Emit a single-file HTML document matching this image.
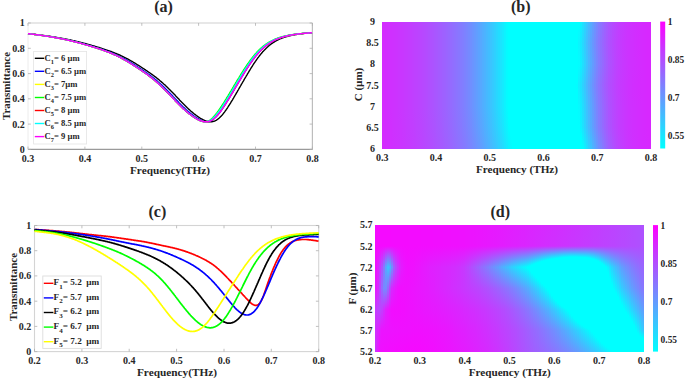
<!DOCTYPE html>
<html><head><meta charset="utf-8"><style>
html,body{margin:0;padding:0;background:#fff;}
body{width:685px;height:379px;overflow:hidden;}
svg{display:block;}
text{font-family:"Liberation Serif",serif;font-weight:bold;fill:#262626;}
</style></head><body>
<svg width="685" height="379" viewBox="0 0 685 379">
<rect width="685" height="379" fill="#fff"/>
<defs><linearGradient id="b0" x1="0" y1="0" x2="0" y2="1"><stop offset="0.000" stop-color="#d42bff"/><stop offset="0.167" stop-color="#d42bff"/><stop offset="0.333" stop-color="#d42bff"/><stop offset="0.500" stop-color="#d42bff"/><stop offset="0.667" stop-color="#d42bff"/><stop offset="0.833" stop-color="#d42bff"/><stop offset="1.000" stop-color="#d42bff"/></linearGradient><linearGradient id="b1" x1="0" y1="0" x2="0" y2="1"><stop offset="0.000" stop-color="#d32cff"/><stop offset="0.167" stop-color="#d32cff"/><stop offset="0.333" stop-color="#d32cff"/><stop offset="0.500" stop-color="#d32cff"/><stop offset="0.667" stop-color="#d32cff"/><stop offset="0.833" stop-color="#d32cff"/><stop offset="1.000" stop-color="#d32cff"/></linearGradient><linearGradient id="b2" x1="0" y1="0" x2="0" y2="1"><stop offset="0.000" stop-color="#d22dff"/><stop offset="0.167" stop-color="#d22dff"/><stop offset="0.333" stop-color="#d22dff"/><stop offset="0.500" stop-color="#d22dff"/><stop offset="0.667" stop-color="#d22dff"/><stop offset="0.833" stop-color="#d22dff"/><stop offset="1.000" stop-color="#d22dff"/></linearGradient><linearGradient id="b3" x1="0" y1="0" x2="0" y2="1"><stop offset="0.000" stop-color="#d02fff"/><stop offset="0.167" stop-color="#d02fff"/><stop offset="0.333" stop-color="#d02fff"/><stop offset="0.500" stop-color="#d02fff"/><stop offset="0.667" stop-color="#d02fff"/><stop offset="0.833" stop-color="#d12eff"/><stop offset="1.000" stop-color="#d12eff"/></linearGradient><linearGradient id="b4" x1="0" y1="0" x2="0" y2="1"><stop offset="0.000" stop-color="#cf30ff"/><stop offset="0.167" stop-color="#cf30ff"/><stop offset="0.333" stop-color="#cf30ff"/><stop offset="0.500" stop-color="#cf30ff"/><stop offset="0.667" stop-color="#cf30ff"/><stop offset="0.833" stop-color="#d02fff"/><stop offset="1.000" stop-color="#d02fff"/></linearGradient><linearGradient id="b5" x1="0" y1="0" x2="0" y2="1"><stop offset="0.000" stop-color="#ce31ff"/><stop offset="0.167" stop-color="#ce31ff"/><stop offset="0.333" stop-color="#ce31ff"/><stop offset="0.500" stop-color="#ce31ff"/><stop offset="0.667" stop-color="#ce31ff"/><stop offset="0.833" stop-color="#ce31ff"/><stop offset="1.000" stop-color="#cf30ff"/></linearGradient><linearGradient id="b6" x1="0" y1="0" x2="0" y2="1"><stop offset="0.000" stop-color="#cd32ff"/><stop offset="0.167" stop-color="#cd32ff"/><stop offset="0.333" stop-color="#cd32ff"/><stop offset="0.500" stop-color="#cd32ff"/><stop offset="0.667" stop-color="#cd32ff"/><stop offset="0.833" stop-color="#cd32ff"/><stop offset="1.000" stop-color="#ce31ff"/></linearGradient><linearGradient id="b7" x1="0" y1="0" x2="0" y2="1"><stop offset="0.000" stop-color="#cc33ff"/><stop offset="0.167" stop-color="#cc33ff"/><stop offset="0.333" stop-color="#cc33ff"/><stop offset="0.500" stop-color="#cc33ff"/><stop offset="0.667" stop-color="#cc33ff"/><stop offset="0.833" stop-color="#cc33ff"/><stop offset="1.000" stop-color="#cd32ff"/></linearGradient><linearGradient id="b8" x1="0" y1="0" x2="0" y2="1"><stop offset="0.000" stop-color="#ca35ff"/><stop offset="0.167" stop-color="#ca35ff"/><stop offset="0.333" stop-color="#ca35ff"/><stop offset="0.500" stop-color="#ca35ff"/><stop offset="0.667" stop-color="#ca35ff"/><stop offset="0.833" stop-color="#cb34ff"/><stop offset="1.000" stop-color="#cc33ff"/></linearGradient><linearGradient id="b9" x1="0" y1="0" x2="0" y2="1"><stop offset="0.000" stop-color="#c936ff"/><stop offset="0.167" stop-color="#c936ff"/><stop offset="0.333" stop-color="#c936ff"/><stop offset="0.500" stop-color="#c936ff"/><stop offset="0.667" stop-color="#c936ff"/><stop offset="0.833" stop-color="#ca35ff"/><stop offset="1.000" stop-color="#ca35ff"/></linearGradient><linearGradient id="b10" x1="0" y1="0" x2="0" y2="1"><stop offset="0.000" stop-color="#c837ff"/><stop offset="0.167" stop-color="#c837ff"/><stop offset="0.333" stop-color="#c837ff"/><stop offset="0.500" stop-color="#c837ff"/><stop offset="0.667" stop-color="#c837ff"/><stop offset="0.833" stop-color="#c837ff"/><stop offset="1.000" stop-color="#c936ff"/></linearGradient><linearGradient id="b11" x1="0" y1="0" x2="0" y2="1"><stop offset="0.000" stop-color="#c639ff"/><stop offset="0.167" stop-color="#c639ff"/><stop offset="0.333" stop-color="#c639ff"/><stop offset="0.500" stop-color="#c639ff"/><stop offset="0.667" stop-color="#c639ff"/><stop offset="0.833" stop-color="#c738ff"/><stop offset="1.000" stop-color="#c837ff"/></linearGradient><linearGradient id="b12" x1="0" y1="0" x2="0" y2="1"><stop offset="0.000" stop-color="#c53aff"/><stop offset="0.167" stop-color="#c53aff"/><stop offset="0.333" stop-color="#c53aff"/><stop offset="0.500" stop-color="#c53aff"/><stop offset="0.667" stop-color="#c53aff"/><stop offset="0.833" stop-color="#c53aff"/><stop offset="1.000" stop-color="#c639ff"/></linearGradient><linearGradient id="b13" x1="0" y1="0" x2="0" y2="1"><stop offset="0.000" stop-color="#c33cff"/><stop offset="0.167" stop-color="#c33cff"/><stop offset="0.333" stop-color="#c33cff"/><stop offset="0.500" stop-color="#c33cff"/><stop offset="0.667" stop-color="#c33cff"/><stop offset="0.833" stop-color="#c43bff"/><stop offset="1.000" stop-color="#c53aff"/></linearGradient><linearGradient id="b14" x1="0" y1="0" x2="0" y2="1"><stop offset="0.000" stop-color="#c23dff"/><stop offset="0.167" stop-color="#c23dff"/><stop offset="0.333" stop-color="#c23dff"/><stop offset="0.500" stop-color="#c23dff"/><stop offset="0.667" stop-color="#c23dff"/><stop offset="0.833" stop-color="#c23dff"/><stop offset="1.000" stop-color="#c43bff"/></linearGradient><linearGradient id="b15" x1="0" y1="0" x2="0" y2="1"><stop offset="0.000" stop-color="#c03fff"/><stop offset="0.167" stop-color="#c03fff"/><stop offset="0.333" stop-color="#c03fff"/><stop offset="0.500" stop-color="#c03fff"/><stop offset="0.667" stop-color="#c03fff"/><stop offset="0.833" stop-color="#c13eff"/><stop offset="1.000" stop-color="#c23dff"/></linearGradient><linearGradient id="b16" x1="0" y1="0" x2="0" y2="1"><stop offset="0.000" stop-color="#be41ff"/><stop offset="0.167" stop-color="#be41ff"/><stop offset="0.333" stop-color="#be41ff"/><stop offset="0.500" stop-color="#be41ff"/><stop offset="0.667" stop-color="#be41ff"/><stop offset="0.833" stop-color="#bf40ff"/><stop offset="1.000" stop-color="#c13eff"/></linearGradient><linearGradient id="b17" x1="0" y1="0" x2="0" y2="1"><stop offset="0.000" stop-color="#bd42ff"/><stop offset="0.167" stop-color="#bd42ff"/><stop offset="0.333" stop-color="#bd42ff"/><stop offset="0.500" stop-color="#bd42ff"/><stop offset="0.667" stop-color="#bd42ff"/><stop offset="0.833" stop-color="#bd42ff"/><stop offset="1.000" stop-color="#bf40ff"/></linearGradient><linearGradient id="b18" x1="0" y1="0" x2="0" y2="1"><stop offset="0.000" stop-color="#bb44ff"/><stop offset="0.167" stop-color="#bb44ff"/><stop offset="0.333" stop-color="#bb44ff"/><stop offset="0.500" stop-color="#bb44ff"/><stop offset="0.667" stop-color="#bb44ff"/><stop offset="0.833" stop-color="#bc43ff"/><stop offset="1.000" stop-color="#bd42ff"/></linearGradient><linearGradient id="b19" x1="0" y1="0" x2="0" y2="1"><stop offset="0.000" stop-color="#b946ff"/><stop offset="0.167" stop-color="#b946ff"/><stop offset="0.333" stop-color="#b946ff"/><stop offset="0.500" stop-color="#b946ff"/><stop offset="0.667" stop-color="#b946ff"/><stop offset="0.833" stop-color="#ba45ff"/><stop offset="1.000" stop-color="#bc43ff"/></linearGradient><linearGradient id="b20" x1="0" y1="0" x2="0" y2="1"><stop offset="0.000" stop-color="#b748ff"/><stop offset="0.167" stop-color="#b748ff"/><stop offset="0.333" stop-color="#b748ff"/><stop offset="0.500" stop-color="#b748ff"/><stop offset="0.667" stop-color="#b748ff"/><stop offset="0.833" stop-color="#b847ff"/><stop offset="1.000" stop-color="#ba45ff"/></linearGradient><linearGradient id="b21" x1="0" y1="0" x2="0" y2="1"><stop offset="0.000" stop-color="#b54aff"/><stop offset="0.167" stop-color="#b54aff"/><stop offset="0.333" stop-color="#b54aff"/><stop offset="0.500" stop-color="#b54aff"/><stop offset="0.667" stop-color="#b54aff"/><stop offset="0.833" stop-color="#b649ff"/><stop offset="1.000" stop-color="#b847ff"/></linearGradient><linearGradient id="b22" x1="0" y1="0" x2="0" y2="1"><stop offset="0.000" stop-color="#b34cff"/><stop offset="0.167" stop-color="#b34cff"/><stop offset="0.333" stop-color="#b34cff"/><stop offset="0.500" stop-color="#b34cff"/><stop offset="0.667" stop-color="#b34cff"/><stop offset="0.833" stop-color="#b44bff"/><stop offset="1.000" stop-color="#b649ff"/></linearGradient><linearGradient id="b23" x1="0" y1="0" x2="0" y2="1"><stop offset="0.000" stop-color="#b04fff"/><stop offset="0.167" stop-color="#b04fff"/><stop offset="0.333" stop-color="#b04fff"/><stop offset="0.500" stop-color="#b04fff"/><stop offset="0.667" stop-color="#b04fff"/><stop offset="0.833" stop-color="#b24dff"/><stop offset="1.000" stop-color="#b44bff"/></linearGradient><linearGradient id="b24" x1="0" y1="0" x2="0" y2="1"><stop offset="0.000" stop-color="#ae51ff"/><stop offset="0.167" stop-color="#ae51ff"/><stop offset="0.333" stop-color="#ae51ff"/><stop offset="0.500" stop-color="#ae51ff"/><stop offset="0.667" stop-color="#ae51ff"/><stop offset="0.833" stop-color="#af50ff"/><stop offset="1.000" stop-color="#b24dff"/></linearGradient><linearGradient id="b25" x1="0" y1="0" x2="0" y2="1"><stop offset="0.000" stop-color="#ac53ff"/><stop offset="0.167" stop-color="#ac53ff"/><stop offset="0.333" stop-color="#ac53ff"/><stop offset="0.500" stop-color="#ac53ff"/><stop offset="0.667" stop-color="#ac53ff"/><stop offset="0.833" stop-color="#ad52ff"/><stop offset="1.000" stop-color="#b04fff"/></linearGradient><linearGradient id="b26" x1="0" y1="0" x2="0" y2="1"><stop offset="0.000" stop-color="#a956ff"/><stop offset="0.167" stop-color="#a956ff"/><stop offset="0.333" stop-color="#a956ff"/><stop offset="0.500" stop-color="#a956ff"/><stop offset="0.667" stop-color="#a956ff"/><stop offset="0.833" stop-color="#ab54ff"/><stop offset="1.000" stop-color="#ad52ff"/></linearGradient><linearGradient id="b27" x1="0" y1="0" x2="0" y2="1"><stop offset="0.000" stop-color="#a758ff"/><stop offset="0.167" stop-color="#a758ff"/><stop offset="0.333" stop-color="#a758ff"/><stop offset="0.500" stop-color="#a758ff"/><stop offset="0.667" stop-color="#a758ff"/><stop offset="0.833" stop-color="#a857ff"/><stop offset="1.000" stop-color="#ab54ff"/></linearGradient><linearGradient id="b28" x1="0" y1="0" x2="0" y2="1"><stop offset="0.000" stop-color="#a45bff"/><stop offset="0.167" stop-color="#a45bff"/><stop offset="0.333" stop-color="#a45bff"/><stop offset="0.500" stop-color="#a45bff"/><stop offset="0.667" stop-color="#a45bff"/><stop offset="0.833" stop-color="#a659ff"/><stop offset="1.000" stop-color="#a956ff"/></linearGradient><linearGradient id="b29" x1="0" y1="0" x2="0" y2="1"><stop offset="0.000" stop-color="#a25dff"/><stop offset="0.167" stop-color="#a25dff"/><stop offset="0.333" stop-color="#a25dff"/><stop offset="0.500" stop-color="#a25dff"/><stop offset="0.667" stop-color="#a25dff"/><stop offset="0.833" stop-color="#a45bff"/><stop offset="1.000" stop-color="#a659ff"/></linearGradient><linearGradient id="b30" x1="0" y1="0" x2="0" y2="1"><stop offset="0.000" stop-color="#9f60ff"/><stop offset="0.167" stop-color="#9f60ff"/><stop offset="0.333" stop-color="#9f60ff"/><stop offset="0.500" stop-color="#9f60ff"/><stop offset="0.667" stop-color="#9f60ff"/><stop offset="0.833" stop-color="#a15eff"/><stop offset="1.000" stop-color="#a45bff"/></linearGradient><linearGradient id="b31" x1="0" y1="0" x2="0" y2="1"><stop offset="0.000" stop-color="#9d62ff"/><stop offset="0.167" stop-color="#9d62ff"/><stop offset="0.333" stop-color="#9d62ff"/><stop offset="0.500" stop-color="#9d62ff"/><stop offset="0.667" stop-color="#9d62ff"/><stop offset="0.833" stop-color="#9e61ff"/><stop offset="1.000" stop-color="#a15eff"/></linearGradient><linearGradient id="b32" x1="0" y1="0" x2="0" y2="1"><stop offset="0.000" stop-color="#9a65ff"/><stop offset="0.167" stop-color="#9a65ff"/><stop offset="0.333" stop-color="#9a65ff"/><stop offset="0.500" stop-color="#9a65ff"/><stop offset="0.667" stop-color="#9a65ff"/><stop offset="0.833" stop-color="#9c63ff"/><stop offset="1.000" stop-color="#9f60ff"/></linearGradient><linearGradient id="b33" x1="0" y1="0" x2="0" y2="1"><stop offset="0.000" stop-color="#9768ff"/><stop offset="0.167" stop-color="#9768ff"/><stop offset="0.333" stop-color="#9768ff"/><stop offset="0.500" stop-color="#9768ff"/><stop offset="0.667" stop-color="#9768ff"/><stop offset="0.833" stop-color="#9966ff"/><stop offset="1.000" stop-color="#9c63ff"/></linearGradient><linearGradient id="b34" x1="0" y1="0" x2="0" y2="1"><stop offset="0.000" stop-color="#946bff"/><stop offset="0.167" stop-color="#946bff"/><stop offset="0.333" stop-color="#946bff"/><stop offset="0.500" stop-color="#946bff"/><stop offset="0.667" stop-color="#946bff"/><stop offset="0.833" stop-color="#9669ff"/><stop offset="1.000" stop-color="#9a65ff"/></linearGradient><linearGradient id="b35" x1="0" y1="0" x2="0" y2="1"><stop offset="0.000" stop-color="#916eff"/><stop offset="0.167" stop-color="#916eff"/><stop offset="0.333" stop-color="#916eff"/><stop offset="0.500" stop-color="#916eff"/><stop offset="0.667" stop-color="#916eff"/><stop offset="0.833" stop-color="#936cff"/><stop offset="1.000" stop-color="#9768ff"/></linearGradient><linearGradient id="b36" x1="0" y1="0" x2="0" y2="1"><stop offset="0.000" stop-color="#8e71ff"/><stop offset="0.167" stop-color="#8e71ff"/><stop offset="0.333" stop-color="#8e71ff"/><stop offset="0.500" stop-color="#8e71ff"/><stop offset="0.667" stop-color="#8e71ff"/><stop offset="0.833" stop-color="#906fff"/><stop offset="1.000" stop-color="#946bff"/></linearGradient><linearGradient id="b37" x1="0" y1="0" x2="0" y2="1"><stop offset="0.000" stop-color="#8b74ff"/><stop offset="0.167" stop-color="#8b74ff"/><stop offset="0.333" stop-color="#8b74ff"/><stop offset="0.500" stop-color="#8b74ff"/><stop offset="0.667" stop-color="#8b74ff"/><stop offset="0.833" stop-color="#8d72ff"/><stop offset="1.000" stop-color="#916eff"/></linearGradient><linearGradient id="b38" x1="0" y1="0" x2="0" y2="1"><stop offset="0.000" stop-color="#8877ff"/><stop offset="0.167" stop-color="#8877ff"/><stop offset="0.333" stop-color="#8877ff"/><stop offset="0.500" stop-color="#8877ff"/><stop offset="0.667" stop-color="#8877ff"/><stop offset="0.833" stop-color="#8a75ff"/><stop offset="1.000" stop-color="#8e71ff"/></linearGradient><linearGradient id="b39" x1="0" y1="0" x2="0" y2="1"><stop offset="0.000" stop-color="#847bff"/><stop offset="0.167" stop-color="#847bff"/><stop offset="0.333" stop-color="#847bff"/><stop offset="0.500" stop-color="#847bff"/><stop offset="0.667" stop-color="#847bff"/><stop offset="0.833" stop-color="#8778ff"/><stop offset="1.000" stop-color="#8b74ff"/></linearGradient><linearGradient id="b40" x1="0" y1="0" x2="0" y2="1"><stop offset="0.000" stop-color="#817eff"/><stop offset="0.167" stop-color="#817eff"/><stop offset="0.333" stop-color="#817eff"/><stop offset="0.500" stop-color="#817eff"/><stop offset="0.667" stop-color="#817eff"/><stop offset="0.833" stop-color="#837cff"/><stop offset="1.000" stop-color="#8877ff"/></linearGradient><linearGradient id="b41" x1="0" y1="0" x2="0" y2="1"><stop offset="0.000" stop-color="#7d82ff"/><stop offset="0.167" stop-color="#7d82ff"/><stop offset="0.333" stop-color="#7d82ff"/><stop offset="0.500" stop-color="#7d82ff"/><stop offset="0.667" stop-color="#7d82ff"/><stop offset="0.833" stop-color="#807fff"/><stop offset="1.000" stop-color="#857aff"/></linearGradient><linearGradient id="b42" x1="0" y1="0" x2="0" y2="1"><stop offset="0.000" stop-color="#7986ff"/><stop offset="0.167" stop-color="#7986ff"/><stop offset="0.333" stop-color="#7986ff"/><stop offset="0.500" stop-color="#7986ff"/><stop offset="0.667" stop-color="#7986ff"/><stop offset="0.833" stop-color="#7c83ff"/><stop offset="1.000" stop-color="#817eff"/></linearGradient><linearGradient id="b43" x1="0" y1="0" x2="0" y2="1"><stop offset="0.000" stop-color="#758aff"/><stop offset="0.167" stop-color="#758aff"/><stop offset="0.333" stop-color="#758aff"/><stop offset="0.500" stop-color="#758aff"/><stop offset="0.667" stop-color="#758aff"/><stop offset="0.833" stop-color="#7887ff"/><stop offset="1.000" stop-color="#7d82ff"/></linearGradient><linearGradient id="b44" x1="0" y1="0" x2="0" y2="1"><stop offset="0.000" stop-color="#708fff"/><stop offset="0.167" stop-color="#708fff"/><stop offset="0.333" stop-color="#708fff"/><stop offset="0.500" stop-color="#708fff"/><stop offset="0.667" stop-color="#708fff"/><stop offset="0.833" stop-color="#748bff"/><stop offset="1.000" stop-color="#7986ff"/></linearGradient><linearGradient id="b45" x1="0" y1="0" x2="0" y2="1"><stop offset="0.000" stop-color="#6b94ff"/><stop offset="0.167" stop-color="#6b94ff"/><stop offset="0.333" stop-color="#6b94ff"/><stop offset="0.500" stop-color="#6b94ff"/><stop offset="0.667" stop-color="#6b94ff"/><stop offset="0.833" stop-color="#6f90ff"/><stop offset="1.000" stop-color="#758aff"/></linearGradient><linearGradient id="b46" x1="0" y1="0" x2="0" y2="1"><stop offset="0.000" stop-color="#6699ff"/><stop offset="0.167" stop-color="#6699ff"/><stop offset="0.333" stop-color="#6699ff"/><stop offset="0.500" stop-color="#6699ff"/><stop offset="0.667" stop-color="#6699ff"/><stop offset="0.833" stop-color="#6a95ff"/><stop offset="1.000" stop-color="#718eff"/></linearGradient><linearGradient id="b47" x1="0" y1="0" x2="0" y2="1"><stop offset="0.000" stop-color="#619eff"/><stop offset="0.167" stop-color="#619eff"/><stop offset="0.333" stop-color="#619eff"/><stop offset="0.500" stop-color="#619eff"/><stop offset="0.667" stop-color="#619eff"/><stop offset="0.833" stop-color="#659aff"/><stop offset="1.000" stop-color="#6c93ff"/></linearGradient><linearGradient id="b48" x1="0" y1="0" x2="0" y2="1"><stop offset="0.000" stop-color="#5ca3ff"/><stop offset="0.167" stop-color="#5ca3ff"/><stop offset="0.333" stop-color="#5ca3ff"/><stop offset="0.500" stop-color="#5ca3ff"/><stop offset="0.667" stop-color="#5ca3ff"/><stop offset="0.833" stop-color="#609fff"/><stop offset="1.000" stop-color="#6897ff"/></linearGradient><linearGradient id="b49" x1="0" y1="0" x2="0" y2="1"><stop offset="0.000" stop-color="#57a8ff"/><stop offset="0.167" stop-color="#57a8ff"/><stop offset="0.333" stop-color="#57a8ff"/><stop offset="0.500" stop-color="#57a8ff"/><stop offset="0.667" stop-color="#57a8ff"/><stop offset="0.833" stop-color="#5ba4ff"/><stop offset="1.000" stop-color="#639cff"/></linearGradient><linearGradient id="b50" x1="0" y1="0" x2="0" y2="1"><stop offset="0.000" stop-color="#51aeff"/><stop offset="0.167" stop-color="#51aeff"/><stop offset="0.333" stop-color="#51aeff"/><stop offset="0.500" stop-color="#51aeff"/><stop offset="0.667" stop-color="#51aeff"/><stop offset="0.833" stop-color="#56a9ff"/><stop offset="1.000" stop-color="#5ea1ff"/></linearGradient><linearGradient id="b51" x1="0" y1="0" x2="0" y2="1"><stop offset="0.000" stop-color="#4cb3ff"/><stop offset="0.167" stop-color="#4cb3ff"/><stop offset="0.333" stop-color="#4cb3ff"/><stop offset="0.500" stop-color="#4cb3ff"/><stop offset="0.667" stop-color="#4cb3ff"/><stop offset="0.833" stop-color="#50afff"/><stop offset="1.000" stop-color="#58a7ff"/></linearGradient><linearGradient id="b52" x1="0" y1="0" x2="0" y2="1"><stop offset="0.000" stop-color="#46b9ff"/><stop offset="0.167" stop-color="#46b9ff"/><stop offset="0.333" stop-color="#46b9ff"/><stop offset="0.500" stop-color="#46b9ff"/><stop offset="0.667" stop-color="#46b9ff"/><stop offset="0.833" stop-color="#4bb4ff"/><stop offset="1.000" stop-color="#53acff"/></linearGradient><linearGradient id="b53" x1="0" y1="0" x2="0" y2="1"><stop offset="0.000" stop-color="#41beff"/><stop offset="0.167" stop-color="#41beff"/><stop offset="0.333" stop-color="#41beff"/><stop offset="0.500" stop-color="#41beff"/><stop offset="0.667" stop-color="#41beff"/><stop offset="0.833" stop-color="#45baff"/><stop offset="1.000" stop-color="#4eb1ff"/></linearGradient><linearGradient id="b54" x1="0" y1="0" x2="0" y2="1"><stop offset="0.000" stop-color="#3bc4ff"/><stop offset="0.167" stop-color="#3bc4ff"/><stop offset="0.333" stop-color="#3bc4ff"/><stop offset="0.500" stop-color="#3bc4ff"/><stop offset="0.667" stop-color="#3bc4ff"/><stop offset="0.833" stop-color="#40bfff"/><stop offset="1.000" stop-color="#48b7ff"/></linearGradient><linearGradient id="b55" x1="0" y1="0" x2="0" y2="1"><stop offset="0.000" stop-color="#35caff"/><stop offset="0.167" stop-color="#35caff"/><stop offset="0.333" stop-color="#35caff"/><stop offset="0.500" stop-color="#35caff"/><stop offset="0.667" stop-color="#35caff"/><stop offset="0.833" stop-color="#3ac5ff"/><stop offset="1.000" stop-color="#42bdff"/></linearGradient><linearGradient id="b56" x1="0" y1="0" x2="0" y2="1"><stop offset="0.000" stop-color="#2fd0ff"/><stop offset="0.167" stop-color="#2fd0ff"/><stop offset="0.333" stop-color="#2fd0ff"/><stop offset="0.500" stop-color="#2fd0ff"/><stop offset="0.667" stop-color="#2fd0ff"/><stop offset="0.833" stop-color="#34cbff"/><stop offset="1.000" stop-color="#3dc2ff"/></linearGradient><linearGradient id="b57" x1="0" y1="0" x2="0" y2="1"><stop offset="0.000" stop-color="#28d7ff"/><stop offset="0.167" stop-color="#28d7ff"/><stop offset="0.333" stop-color="#28d7ff"/><stop offset="0.500" stop-color="#28d7ff"/><stop offset="0.667" stop-color="#28d7ff"/><stop offset="0.833" stop-color="#2ed1ff"/><stop offset="1.000" stop-color="#37c8ff"/></linearGradient><linearGradient id="b58" x1="0" y1="0" x2="0" y2="1"><stop offset="0.000" stop-color="#22ddff"/><stop offset="0.167" stop-color="#22ddff"/><stop offset="0.333" stop-color="#22ddff"/><stop offset="0.500" stop-color="#22ddff"/><stop offset="0.667" stop-color="#22ddff"/><stop offset="0.833" stop-color="#27d8ff"/><stop offset="1.000" stop-color="#31ceff"/></linearGradient><linearGradient id="b59" x1="0" y1="0" x2="0" y2="1"><stop offset="0.000" stop-color="#1be4ff"/><stop offset="0.167" stop-color="#1be4ff"/><stop offset="0.333" stop-color="#1be4ff"/><stop offset="0.500" stop-color="#1be4ff"/><stop offset="0.667" stop-color="#1be4ff"/><stop offset="0.833" stop-color="#21deff"/><stop offset="1.000" stop-color="#2bd4ff"/></linearGradient><linearGradient id="b60" x1="0" y1="0" x2="0" y2="1"><stop offset="0.000" stop-color="#14ebff"/><stop offset="0.167" stop-color="#14ebff"/><stop offset="0.333" stop-color="#14ebff"/><stop offset="0.500" stop-color="#14ebff"/><stop offset="0.667" stop-color="#14ebff"/><stop offset="0.833" stop-color="#1ae5ff"/><stop offset="1.000" stop-color="#24dbff"/></linearGradient><linearGradient id="b61" x1="0" y1="0" x2="0" y2="1"><stop offset="0.000" stop-color="#0cf3ff"/><stop offset="0.167" stop-color="#0cf3ff"/><stop offset="0.333" stop-color="#0cf3ff"/><stop offset="0.500" stop-color="#0cf3ff"/><stop offset="0.667" stop-color="#0cf3ff"/><stop offset="0.833" stop-color="#12edff"/><stop offset="1.000" stop-color="#1de2ff"/></linearGradient><linearGradient id="b62" x1="0" y1="0" x2="0" y2="1"><stop offset="0.000" stop-color="#04fbff"/><stop offset="0.167" stop-color="#04fbff"/><stop offset="0.333" stop-color="#04fbff"/><stop offset="0.500" stop-color="#04fbff"/><stop offset="0.667" stop-color="#04fbff"/><stop offset="0.833" stop-color="#0bf4ff"/><stop offset="1.000" stop-color="#16e9ff"/></linearGradient><linearGradient id="b63" x1="0" y1="0" x2="0" y2="1"><stop offset="0.000" stop-color="#00ffff"/><stop offset="0.167" stop-color="#00ffff"/><stop offset="0.333" stop-color="#00ffff"/><stop offset="0.500" stop-color="#00ffff"/><stop offset="0.667" stop-color="#00ffff"/><stop offset="0.759" stop-color="#00ffff"/><stop offset="0.833" stop-color="#03fcff"/><stop offset="1.000" stop-color="#0ff0ff"/></linearGradient><linearGradient id="b64" x1="0" y1="0" x2="0" y2="1"><stop offset="0.000" stop-color="#00ffff"/><stop offset="0.167" stop-color="#00ffff"/><stop offset="0.333" stop-color="#00ffff"/><stop offset="0.500" stop-color="#00ffff"/><stop offset="0.667" stop-color="#00ffff"/><stop offset="0.833" stop-color="#00ffff"/><stop offset="0.902" stop-color="#00ffff"/><stop offset="1.000" stop-color="#07f8ff"/></linearGradient><linearGradient id="b65" x1="0" y1="0" x2="0" y2="1"><stop offset="0.000" stop-color="#00ffff"/><stop offset="0.167" stop-color="#00ffff"/><stop offset="0.333" stop-color="#00ffff"/><stop offset="0.500" stop-color="#00ffff"/><stop offset="0.667" stop-color="#00ffff"/><stop offset="0.833" stop-color="#00ffff"/><stop offset="1.000" stop-color="#00ffff"/></linearGradient><linearGradient id="b66" x1="0" y1="0" x2="0" y2="1"><stop offset="0.000" stop-color="#00ffff"/><stop offset="0.167" stop-color="#00ffff"/><stop offset="0.333" stop-color="#00ffff"/><stop offset="0.500" stop-color="#00ffff"/><stop offset="0.667" stop-color="#00ffff"/><stop offset="0.833" stop-color="#00ffff"/><stop offset="1.000" stop-color="#00ffff"/></linearGradient><linearGradient id="b67" x1="0" y1="0" x2="0" y2="1"><stop offset="0.000" stop-color="#00ffff"/><stop offset="0.167" stop-color="#00ffff"/><stop offset="0.333" stop-color="#00ffff"/><stop offset="0.500" stop-color="#00ffff"/><stop offset="0.667" stop-color="#00ffff"/><stop offset="0.833" stop-color="#00ffff"/><stop offset="1.000" stop-color="#00ffff"/></linearGradient><linearGradient id="b68" x1="0" y1="0" x2="0" y2="1"><stop offset="0.000" stop-color="#00ffff"/><stop offset="0.167" stop-color="#00ffff"/><stop offset="0.333" stop-color="#00ffff"/><stop offset="0.500" stop-color="#00ffff"/><stop offset="0.667" stop-color="#00ffff"/><stop offset="0.833" stop-color="#00ffff"/><stop offset="1.000" stop-color="#00ffff"/></linearGradient><linearGradient id="b69" x1="0" y1="0" x2="0" y2="1"><stop offset="0.000" stop-color="#00ffff"/><stop offset="0.167" stop-color="#00ffff"/><stop offset="0.333" stop-color="#00ffff"/><stop offset="0.500" stop-color="#00ffff"/><stop offset="0.667" stop-color="#00ffff"/><stop offset="0.833" stop-color="#00ffff"/><stop offset="1.000" stop-color="#00ffff"/></linearGradient><linearGradient id="b70" x1="0" y1="0" x2="0" y2="1"><stop offset="0.000" stop-color="#00ffff"/><stop offset="0.167" stop-color="#00ffff"/><stop offset="0.333" stop-color="#00ffff"/><stop offset="0.500" stop-color="#00ffff"/><stop offset="0.667" stop-color="#00ffff"/><stop offset="0.833" stop-color="#00ffff"/><stop offset="1.000" stop-color="#00ffff"/></linearGradient><linearGradient id="b71" x1="0" y1="0" x2="0" y2="1"><stop offset="0.000" stop-color="#00ffff"/><stop offset="0.167" stop-color="#00ffff"/><stop offset="0.333" stop-color="#00ffff"/><stop offset="0.500" stop-color="#00ffff"/><stop offset="0.667" stop-color="#00ffff"/><stop offset="0.833" stop-color="#00ffff"/><stop offset="1.000" stop-color="#00ffff"/></linearGradient><linearGradient id="b72" x1="0" y1="0" x2="0" y2="1"><stop offset="0.000" stop-color="#00ffff"/><stop offset="0.167" stop-color="#00ffff"/><stop offset="0.333" stop-color="#00ffff"/><stop offset="0.500" stop-color="#00ffff"/><stop offset="0.667" stop-color="#00ffff"/><stop offset="0.833" stop-color="#00ffff"/><stop offset="1.000" stop-color="#00ffff"/></linearGradient><linearGradient id="b73" x1="0" y1="0" x2="0" y2="1"><stop offset="0.000" stop-color="#00ffff"/><stop offset="0.167" stop-color="#00ffff"/><stop offset="0.333" stop-color="#00ffff"/><stop offset="0.500" stop-color="#00ffff"/><stop offset="0.667" stop-color="#00ffff"/><stop offset="0.833" stop-color="#00ffff"/><stop offset="1.000" stop-color="#00ffff"/></linearGradient><linearGradient id="b74" x1="0" y1="0" x2="0" y2="1"><stop offset="0.000" stop-color="#00ffff"/><stop offset="0.167" stop-color="#00ffff"/><stop offset="0.333" stop-color="#00ffff"/><stop offset="0.500" stop-color="#00ffff"/><stop offset="0.667" stop-color="#00ffff"/><stop offset="0.833" stop-color="#00ffff"/><stop offset="1.000" stop-color="#00ffff"/></linearGradient><linearGradient id="b75" x1="0" y1="0" x2="0" y2="1"><stop offset="0.000" stop-color="#00ffff"/><stop offset="0.167" stop-color="#00ffff"/><stop offset="0.333" stop-color="#00ffff"/><stop offset="0.500" stop-color="#00ffff"/><stop offset="0.667" stop-color="#00ffff"/><stop offset="0.833" stop-color="#00ffff"/><stop offset="1.000" stop-color="#00ffff"/></linearGradient><linearGradient id="b76" x1="0" y1="0" x2="0" y2="1"><stop offset="0.000" stop-color="#00ffff"/><stop offset="0.167" stop-color="#00ffff"/><stop offset="0.333" stop-color="#00ffff"/><stop offset="0.500" stop-color="#00ffff"/><stop offset="0.667" stop-color="#00ffff"/><stop offset="0.833" stop-color="#00ffff"/><stop offset="1.000" stop-color="#00ffff"/></linearGradient><linearGradient id="b77" x1="0" y1="0" x2="0" y2="1"><stop offset="0.000" stop-color="#00ffff"/><stop offset="0.167" stop-color="#00ffff"/><stop offset="0.333" stop-color="#00ffff"/><stop offset="0.500" stop-color="#00ffff"/><stop offset="0.667" stop-color="#00ffff"/><stop offset="0.833" stop-color="#00ffff"/><stop offset="1.000" stop-color="#00ffff"/></linearGradient><linearGradient id="b78" x1="0" y1="0" x2="0" y2="1"><stop offset="0.000" stop-color="#00ffff"/><stop offset="0.167" stop-color="#00ffff"/><stop offset="0.333" stop-color="#00ffff"/><stop offset="0.500" stop-color="#00ffff"/><stop offset="0.667" stop-color="#00ffff"/><stop offset="0.833" stop-color="#00ffff"/><stop offset="1.000" stop-color="#00ffff"/></linearGradient><linearGradient id="b79" x1="0" y1="0" x2="0" y2="1"><stop offset="0.000" stop-color="#00ffff"/><stop offset="0.167" stop-color="#00ffff"/><stop offset="0.333" stop-color="#00ffff"/><stop offset="0.500" stop-color="#00ffff"/><stop offset="0.667" stop-color="#00ffff"/><stop offset="0.833" stop-color="#00ffff"/><stop offset="1.000" stop-color="#00ffff"/></linearGradient><linearGradient id="b80" x1="0" y1="0" x2="0" y2="1"><stop offset="0.000" stop-color="#00ffff"/><stop offset="0.167" stop-color="#00ffff"/><stop offset="0.333" stop-color="#00ffff"/><stop offset="0.500" stop-color="#00ffff"/><stop offset="0.667" stop-color="#00ffff"/><stop offset="0.833" stop-color="#00ffff"/><stop offset="1.000" stop-color="#00ffff"/></linearGradient><linearGradient id="b81" x1="0" y1="0" x2="0" y2="1"><stop offset="0.000" stop-color="#00ffff"/><stop offset="0.167" stop-color="#00ffff"/><stop offset="0.333" stop-color="#00ffff"/><stop offset="0.500" stop-color="#00ffff"/><stop offset="0.667" stop-color="#00ffff"/><stop offset="0.833" stop-color="#00ffff"/><stop offset="1.000" stop-color="#00ffff"/></linearGradient><linearGradient id="b82" x1="0" y1="0" x2="0" y2="1"><stop offset="0.000" stop-color="#00ffff"/><stop offset="0.167" stop-color="#00ffff"/><stop offset="0.333" stop-color="#00ffff"/><stop offset="0.500" stop-color="#00ffff"/><stop offset="0.667" stop-color="#00ffff"/><stop offset="0.833" stop-color="#00ffff"/><stop offset="1.000" stop-color="#00ffff"/></linearGradient><linearGradient id="b83" x1="0" y1="0" x2="0" y2="1"><stop offset="0.000" stop-color="#00ffff"/><stop offset="0.167" stop-color="#00ffff"/><stop offset="0.333" stop-color="#00ffff"/><stop offset="0.500" stop-color="#00ffff"/><stop offset="0.667" stop-color="#00ffff"/><stop offset="0.833" stop-color="#00ffff"/><stop offset="1.000" stop-color="#00ffff"/></linearGradient><linearGradient id="b84" x1="0" y1="0" x2="0" y2="1"><stop offset="0.000" stop-color="#00ffff"/><stop offset="0.167" stop-color="#00ffff"/><stop offset="0.333" stop-color="#00ffff"/><stop offset="0.500" stop-color="#00ffff"/><stop offset="0.667" stop-color="#00ffff"/><stop offset="0.833" stop-color="#00ffff"/><stop offset="1.000" stop-color="#00ffff"/></linearGradient><linearGradient id="b85" x1="0" y1="0" x2="0" y2="1"><stop offset="0.000" stop-color="#00ffff"/><stop offset="0.167" stop-color="#00ffff"/><stop offset="0.333" stop-color="#00ffff"/><stop offset="0.500" stop-color="#00ffff"/><stop offset="0.667" stop-color="#00ffff"/><stop offset="0.833" stop-color="#00ffff"/><stop offset="1.000" stop-color="#00ffff"/></linearGradient><linearGradient id="b86" x1="0" y1="0" x2="0" y2="1"><stop offset="0.000" stop-color="#00ffff"/><stop offset="0.167" stop-color="#00ffff"/><stop offset="0.333" stop-color="#00ffff"/><stop offset="0.500" stop-color="#00ffff"/><stop offset="0.667" stop-color="#00ffff"/><stop offset="0.833" stop-color="#00ffff"/><stop offset="1.000" stop-color="#00ffff"/></linearGradient><linearGradient id="b87" x1="0" y1="0" x2="0" y2="1"><stop offset="0.000" stop-color="#00ffff"/><stop offset="0.167" stop-color="#00ffff"/><stop offset="0.333" stop-color="#00ffff"/><stop offset="0.500" stop-color="#00ffff"/><stop offset="0.667" stop-color="#00ffff"/><stop offset="0.833" stop-color="#00ffff"/><stop offset="1.000" stop-color="#00ffff"/></linearGradient><linearGradient id="b88" x1="0" y1="0" x2="0" y2="1"><stop offset="0.000" stop-color="#00ffff"/><stop offset="0.167" stop-color="#00ffff"/><stop offset="0.333" stop-color="#00ffff"/><stop offset="0.500" stop-color="#00ffff"/><stop offset="0.667" stop-color="#00ffff"/><stop offset="0.833" stop-color="#00ffff"/><stop offset="1.000" stop-color="#00ffff"/></linearGradient><linearGradient id="b89" x1="0" y1="0" x2="0" y2="1"><stop offset="0.000" stop-color="#00ffff"/><stop offset="0.167" stop-color="#00ffff"/><stop offset="0.333" stop-color="#00ffff"/><stop offset="0.500" stop-color="#00ffff"/><stop offset="0.667" stop-color="#00ffff"/><stop offset="0.833" stop-color="#00ffff"/><stop offset="1.000" stop-color="#00ffff"/></linearGradient><linearGradient id="b90" x1="0" y1="0" x2="0" y2="1"><stop offset="0.000" stop-color="#00ffff"/><stop offset="0.167" stop-color="#00ffff"/><stop offset="0.333" stop-color="#00ffff"/><stop offset="0.500" stop-color="#00ffff"/><stop offset="0.667" stop-color="#00ffff"/><stop offset="0.833" stop-color="#00ffff"/><stop offset="1.000" stop-color="#00ffff"/></linearGradient><linearGradient id="b91" x1="0" y1="0" x2="0" y2="1"><stop offset="0.000" stop-color="#00ffff"/><stop offset="0.167" stop-color="#00ffff"/><stop offset="0.333" stop-color="#00ffff"/><stop offset="0.500" stop-color="#00ffff"/><stop offset="0.667" stop-color="#00ffff"/><stop offset="0.833" stop-color="#00ffff"/><stop offset="1.000" stop-color="#00ffff"/></linearGradient><linearGradient id="b92" x1="0" y1="0" x2="0" y2="1"><stop offset="0.000" stop-color="#00ffff"/><stop offset="0.167" stop-color="#00ffff"/><stop offset="0.333" stop-color="#00ffff"/><stop offset="0.500" stop-color="#00ffff"/><stop offset="0.667" stop-color="#00ffff"/><stop offset="0.833" stop-color="#00ffff"/><stop offset="1.000" stop-color="#00ffff"/></linearGradient><linearGradient id="b93" x1="0" y1="0" x2="0" y2="1"><stop offset="0.000" stop-color="#00ffff"/><stop offset="0.167" stop-color="#00ffff"/><stop offset="0.333" stop-color="#00ffff"/><stop offset="0.500" stop-color="#00ffff"/><stop offset="0.667" stop-color="#00ffff"/><stop offset="0.833" stop-color="#00ffff"/><stop offset="1.000" stop-color="#00ffff"/></linearGradient><linearGradient id="b94" x1="0" y1="0" x2="0" y2="1"><stop offset="0.000" stop-color="#00ffff"/><stop offset="0.167" stop-color="#00ffff"/><stop offset="0.333" stop-color="#00ffff"/><stop offset="0.500" stop-color="#00ffff"/><stop offset="0.667" stop-color="#00ffff"/><stop offset="0.833" stop-color="#00ffff"/><stop offset="1.000" stop-color="#00ffff"/></linearGradient><linearGradient id="b95" x1="0" y1="0" x2="0" y2="1"><stop offset="0.000" stop-color="#00ffff"/><stop offset="0.167" stop-color="#00ffff"/><stop offset="0.333" stop-color="#00ffff"/><stop offset="0.500" stop-color="#00ffff"/><stop offset="0.667" stop-color="#00ffff"/><stop offset="0.833" stop-color="#00ffff"/><stop offset="1.000" stop-color="#00ffff"/></linearGradient><linearGradient id="b96" x1="0" y1="0" x2="0" y2="1"><stop offset="0.000" stop-color="#00ffff"/><stop offset="0.167" stop-color="#00ffff"/><stop offset="0.333" stop-color="#00ffff"/><stop offset="0.500" stop-color="#00ffff"/><stop offset="0.667" stop-color="#00ffff"/><stop offset="0.833" stop-color="#00ffff"/><stop offset="1.000" stop-color="#00ffff"/></linearGradient><linearGradient id="b97" x1="0" y1="0" x2="0" y2="1"><stop offset="0.000" stop-color="#00ffff"/><stop offset="0.167" stop-color="#00ffff"/><stop offset="0.333" stop-color="#00ffff"/><stop offset="0.471" stop-color="#00ffff"/><stop offset="0.500" stop-color="#03fcff"/><stop offset="0.537" stop-color="#00ffff"/><stop offset="0.667" stop-color="#00ffff"/><stop offset="0.833" stop-color="#00ffff"/><stop offset="1.000" stop-color="#00ffff"/></linearGradient><linearGradient id="b98" x1="0" y1="0" x2="0" y2="1"><stop offset="0.000" stop-color="#00ffff"/><stop offset="0.006" stop-color="#00ffff"/><stop offset="0.167" stop-color="#0af5ff"/><stop offset="0.333" stop-color="#02fdff"/><stop offset="0.500" stop-color="#11eeff"/><stop offset="0.667" stop-color="#05faff"/><stop offset="0.822" stop-color="#00ffff"/><stop offset="0.833" stop-color="#00ffff"/><stop offset="1.000" stop-color="#00ffff"/></linearGradient><linearGradient id="b99" x1="0" y1="0" x2="0" y2="1"><stop offset="0.000" stop-color="#0ef1ff"/><stop offset="0.167" stop-color="#18e7ff"/><stop offset="0.333" stop-color="#11eeff"/><stop offset="0.500" stop-color="#1fe0ff"/><stop offset="0.667" stop-color="#14ebff"/><stop offset="0.833" stop-color="#0ef1ff"/><stop offset="0.916" stop-color="#00ffff"/><stop offset="1.000" stop-color="#00ffff"/></linearGradient><linearGradient id="b100" x1="0" y1="0" x2="0" y2="1"><stop offset="0.000" stop-color="#1ce3ff"/><stop offset="0.167" stop-color="#26d9ff"/><stop offset="0.333" stop-color="#1fe0ff"/><stop offset="0.500" stop-color="#2dd2ff"/><stop offset="0.667" stop-color="#22ddff"/><stop offset="0.833" stop-color="#1ce3ff"/><stop offset="1.000" stop-color="#01feff"/></linearGradient><linearGradient id="b101" x1="0" y1="0" x2="0" y2="1"><stop offset="0.000" stop-color="#2bd4ff"/><stop offset="0.167" stop-color="#34cbff"/><stop offset="0.333" stop-color="#2dd2ff"/><stop offset="0.500" stop-color="#3ac5ff"/><stop offset="0.667" stop-color="#30cfff"/><stop offset="0.833" stop-color="#2bd4ff"/><stop offset="1.000" stop-color="#0ff0ff"/></linearGradient><linearGradient id="b102" x1="0" y1="0" x2="0" y2="1"><stop offset="0.000" stop-color="#39c6ff"/><stop offset="0.167" stop-color="#42bdff"/><stop offset="0.333" stop-color="#3bc4ff"/><stop offset="0.500" stop-color="#48b7ff"/><stop offset="0.667" stop-color="#3ec1ff"/><stop offset="0.833" stop-color="#39c6ff"/><stop offset="1.000" stop-color="#1ee1ff"/></linearGradient><linearGradient id="b103" x1="0" y1="0" x2="0" y2="1"><stop offset="0.000" stop-color="#46b9ff"/><stop offset="0.167" stop-color="#4fb0ff"/><stop offset="0.333" stop-color="#49b6ff"/><stop offset="0.500" stop-color="#55aaff"/><stop offset="0.667" stop-color="#4bb4ff"/><stop offset="0.833" stop-color="#46b9ff"/><stop offset="1.000" stop-color="#2dd2ff"/></linearGradient><linearGradient id="b104" x1="0" y1="0" x2="0" y2="1"><stop offset="0.000" stop-color="#53acff"/><stop offset="0.167" stop-color="#5ca3ff"/><stop offset="0.333" stop-color="#56a9ff"/><stop offset="0.500" stop-color="#619eff"/><stop offset="0.667" stop-color="#58a7ff"/><stop offset="0.833" stop-color="#53acff"/><stop offset="1.000" stop-color="#3bc4ff"/></linearGradient><linearGradient id="b105" x1="0" y1="0" x2="0" y2="1"><stop offset="0.000" stop-color="#609fff"/><stop offset="0.167" stop-color="#6897ff"/><stop offset="0.333" stop-color="#629dff"/><stop offset="0.500" stop-color="#6d92ff"/><stop offset="0.667" stop-color="#649bff"/><stop offset="0.833" stop-color="#609fff"/><stop offset="1.000" stop-color="#49b6ff"/></linearGradient><linearGradient id="b106" x1="0" y1="0" x2="0" y2="1"><stop offset="0.000" stop-color="#6c93ff"/><stop offset="0.167" stop-color="#738cff"/><stop offset="0.333" stop-color="#6e91ff"/><stop offset="0.500" stop-color="#7887ff"/><stop offset="0.667" stop-color="#708fff"/><stop offset="0.833" stop-color="#6c93ff"/><stop offset="1.000" stop-color="#56a9ff"/></linearGradient><linearGradient id="b107" x1="0" y1="0" x2="0" y2="1"><stop offset="0.000" stop-color="#7788ff"/><stop offset="0.167" stop-color="#7e81ff"/><stop offset="0.333" stop-color="#7986ff"/><stop offset="0.500" stop-color="#827dff"/><stop offset="0.667" stop-color="#7b84ff"/><stop offset="0.833" stop-color="#7788ff"/><stop offset="1.000" stop-color="#639cff"/></linearGradient><linearGradient id="b108" x1="0" y1="0" x2="0" y2="1"><stop offset="0.000" stop-color="#827dff"/><stop offset="0.167" stop-color="#8778ff"/><stop offset="0.333" stop-color="#837cff"/><stop offset="0.500" stop-color="#8b74ff"/><stop offset="0.667" stop-color="#857aff"/><stop offset="0.833" stop-color="#827dff"/><stop offset="1.000" stop-color="#6f90ff"/></linearGradient><linearGradient id="b109" x1="0" y1="0" x2="0" y2="1"><stop offset="0.000" stop-color="#8b74ff"/><stop offset="0.167" stop-color="#916eff"/><stop offset="0.333" stop-color="#8d72ff"/><stop offset="0.500" stop-color="#946bff"/><stop offset="0.667" stop-color="#8e71ff"/><stop offset="0.833" stop-color="#8b74ff"/><stop offset="1.000" stop-color="#7b84ff"/></linearGradient><linearGradient id="b110" x1="0" y1="0" x2="0" y2="1"><stop offset="0.000" stop-color="#946bff"/><stop offset="0.167" stop-color="#9966ff"/><stop offset="0.333" stop-color="#956aff"/><stop offset="0.500" stop-color="#9c63ff"/><stop offset="0.667" stop-color="#9768ff"/><stop offset="0.833" stop-color="#946bff"/><stop offset="1.000" stop-color="#857aff"/></linearGradient><linearGradient id="b111" x1="0" y1="0" x2="0" y2="1"><stop offset="0.000" stop-color="#9c63ff"/><stop offset="0.167" stop-color="#a05fff"/><stop offset="0.333" stop-color="#9d62ff"/><stop offset="0.500" stop-color="#a35cff"/><stop offset="0.667" stop-color="#9e61ff"/><stop offset="0.833" stop-color="#9c63ff"/><stop offset="1.000" stop-color="#8f70ff"/></linearGradient><linearGradient id="b112" x1="0" y1="0" x2="0" y2="1"><stop offset="0.000" stop-color="#a35cff"/><stop offset="0.167" stop-color="#a758ff"/><stop offset="0.333" stop-color="#a45bff"/><stop offset="0.500" stop-color="#a956ff"/><stop offset="0.667" stop-color="#a55aff"/><stop offset="0.833" stop-color="#a35cff"/><stop offset="1.000" stop-color="#9867ff"/></linearGradient><linearGradient id="b113" x1="0" y1="0" x2="0" y2="1"><stop offset="0.000" stop-color="#aa55ff"/><stop offset="0.167" stop-color="#ad52ff"/><stop offset="0.333" stop-color="#ab54ff"/><stop offset="0.500" stop-color="#af50ff"/><stop offset="0.667" stop-color="#ac53ff"/><stop offset="0.833" stop-color="#aa55ff"/><stop offset="1.000" stop-color="#a05fff"/></linearGradient><linearGradient id="b114" x1="0" y1="0" x2="0" y2="1"><stop offset="0.000" stop-color="#af50ff"/><stop offset="0.167" stop-color="#b24dff"/><stop offset="0.333" stop-color="#b04fff"/><stop offset="0.500" stop-color="#b44bff"/><stop offset="0.667" stop-color="#b14eff"/><stop offset="0.833" stop-color="#af50ff"/><stop offset="1.000" stop-color="#a758ff"/></linearGradient><linearGradient id="b115" x1="0" y1="0" x2="0" y2="1"><stop offset="0.000" stop-color="#b54aff"/><stop offset="0.167" stop-color="#b748ff"/><stop offset="0.333" stop-color="#b54aff"/><stop offset="0.500" stop-color="#b847ff"/><stop offset="0.667" stop-color="#b649ff"/><stop offset="0.833" stop-color="#b54aff"/><stop offset="1.000" stop-color="#ad52ff"/></linearGradient><linearGradient id="b116" x1="0" y1="0" x2="0" y2="1"><stop offset="0.000" stop-color="#b946ff"/><stop offset="0.167" stop-color="#bb44ff"/><stop offset="0.333" stop-color="#ba45ff"/><stop offset="0.500" stop-color="#bc43ff"/><stop offset="0.667" stop-color="#ba45ff"/><stop offset="0.833" stop-color="#b946ff"/><stop offset="1.000" stop-color="#b34cff"/></linearGradient><linearGradient id="b117" x1="0" y1="0" x2="0" y2="1"><stop offset="0.000" stop-color="#bd42ff"/><stop offset="0.167" stop-color="#bf40ff"/><stop offset="0.333" stop-color="#be41ff"/><stop offset="0.500" stop-color="#c03fff"/><stop offset="0.667" stop-color="#be41ff"/><stop offset="0.833" stop-color="#bd42ff"/><stop offset="1.000" stop-color="#b847ff"/></linearGradient><linearGradient id="b118" x1="0" y1="0" x2="0" y2="1"><stop offset="0.000" stop-color="#c13eff"/><stop offset="0.167" stop-color="#c23dff"/><stop offset="0.333" stop-color="#c13eff"/><stop offset="0.500" stop-color="#c33cff"/><stop offset="0.667" stop-color="#c13eff"/><stop offset="0.833" stop-color="#c13eff"/><stop offset="1.000" stop-color="#bc43ff"/></linearGradient><linearGradient id="b119" x1="0" y1="0" x2="0" y2="1"><stop offset="0.000" stop-color="#c43bff"/><stop offset="0.167" stop-color="#c53aff"/><stop offset="0.333" stop-color="#c43bff"/><stop offset="0.500" stop-color="#c639ff"/><stop offset="0.667" stop-color="#c43bff"/><stop offset="0.833" stop-color="#c43bff"/><stop offset="1.000" stop-color="#c03fff"/></linearGradient><linearGradient id="b120" x1="0" y1="0" x2="0" y2="1"><stop offset="0.000" stop-color="#c639ff"/><stop offset="0.167" stop-color="#c837ff"/><stop offset="0.333" stop-color="#c738ff"/><stop offset="0.500" stop-color="#c837ff"/><stop offset="0.667" stop-color="#c738ff"/><stop offset="0.833" stop-color="#c639ff"/><stop offset="1.000" stop-color="#c33cff"/></linearGradient><linearGradient id="b121" x1="0" y1="0" x2="0" y2="1"><stop offset="0.000" stop-color="#c936ff"/><stop offset="0.167" stop-color="#ca35ff"/><stop offset="0.333" stop-color="#c936ff"/><stop offset="0.500" stop-color="#ca35ff"/><stop offset="0.667" stop-color="#c936ff"/><stop offset="0.833" stop-color="#c936ff"/><stop offset="1.000" stop-color="#c639ff"/></linearGradient><linearGradient id="b122" x1="0" y1="0" x2="0" y2="1"><stop offset="0.000" stop-color="#cb34ff"/><stop offset="0.167" stop-color="#cc33ff"/><stop offset="0.333" stop-color="#cb34ff"/><stop offset="0.500" stop-color="#cc33ff"/><stop offset="0.667" stop-color="#cb34ff"/><stop offset="0.833" stop-color="#cb34ff"/><stop offset="1.000" stop-color="#c936ff"/></linearGradient><linearGradient id="b123" x1="0" y1="0" x2="0" y2="1"><stop offset="0.000" stop-color="#cd32ff"/><stop offset="0.167" stop-color="#cd32ff"/><stop offset="0.333" stop-color="#cd32ff"/><stop offset="0.500" stop-color="#ce31ff"/><stop offset="0.667" stop-color="#cd32ff"/><stop offset="0.833" stop-color="#cd32ff"/><stop offset="1.000" stop-color="#cb34ff"/></linearGradient><linearGradient id="b124" x1="0" y1="0" x2="0" y2="1"><stop offset="0.000" stop-color="#ce31ff"/><stop offset="0.167" stop-color="#cf30ff"/><stop offset="0.333" stop-color="#cf30ff"/><stop offset="0.500" stop-color="#cf30ff"/><stop offset="0.667" stop-color="#cf30ff"/><stop offset="0.833" stop-color="#ce31ff"/><stop offset="1.000" stop-color="#cd32ff"/></linearGradient><linearGradient id="b125" x1="0" y1="0" x2="0" y2="1"><stop offset="0.000" stop-color="#d02fff"/><stop offset="0.167" stop-color="#d02fff"/><stop offset="0.333" stop-color="#d02fff"/><stop offset="0.500" stop-color="#d12eff"/><stop offset="0.667" stop-color="#d02fff"/><stop offset="0.833" stop-color="#d02fff"/><stop offset="1.000" stop-color="#cf30ff"/></linearGradient><linearGradient id="b126" x1="0" y1="0" x2="0" y2="1"><stop offset="0.000" stop-color="#d12eff"/><stop offset="0.167" stop-color="#d22dff"/><stop offset="0.333" stop-color="#d12eff"/><stop offset="0.500" stop-color="#d22dff"/><stop offset="0.667" stop-color="#d12eff"/><stop offset="0.833" stop-color="#d12eff"/><stop offset="1.000" stop-color="#d02fff"/></linearGradient><linearGradient id="b127" x1="0" y1="0" x2="0" y2="1"><stop offset="0.000" stop-color="#d22dff"/><stop offset="0.167" stop-color="#d32cff"/><stop offset="0.333" stop-color="#d22dff"/><stop offset="0.500" stop-color="#d32cff"/><stop offset="0.667" stop-color="#d22dff"/><stop offset="0.833" stop-color="#d22dff"/><stop offset="1.000" stop-color="#d12eff"/></linearGradient><linearGradient id="b128" x1="0" y1="0" x2="0" y2="1"><stop offset="0.000" stop-color="#d32cff"/><stop offset="0.167" stop-color="#d42bff"/><stop offset="0.333" stop-color="#d32cff"/><stop offset="0.500" stop-color="#d42bff"/><stop offset="0.667" stop-color="#d32cff"/><stop offset="0.833" stop-color="#d32cff"/><stop offset="1.000" stop-color="#d32cff"/></linearGradient><linearGradient id="b129" x1="0" y1="0" x2="0" y2="1"><stop offset="0.000" stop-color="#d42bff"/><stop offset="0.167" stop-color="#d42bff"/><stop offset="0.333" stop-color="#d42bff"/><stop offset="0.500" stop-color="#d52aff"/><stop offset="0.667" stop-color="#d42bff"/><stop offset="0.833" stop-color="#d42bff"/><stop offset="1.000" stop-color="#d42bff"/></linearGradient><linearGradient id="b130" x1="0" y1="0" x2="0" y2="1"><stop offset="0.000" stop-color="#d52aff"/><stop offset="0.167" stop-color="#d52aff"/><stop offset="0.333" stop-color="#d52aff"/><stop offset="0.500" stop-color="#d52aff"/><stop offset="0.667" stop-color="#d52aff"/><stop offset="0.833" stop-color="#d52aff"/><stop offset="1.000" stop-color="#d52aff"/></linearGradient><linearGradient id="b131" x1="0" y1="0" x2="0" y2="1"><stop offset="0.000" stop-color="#d629ff"/><stop offset="0.167" stop-color="#d629ff"/><stop offset="0.333" stop-color="#d629ff"/><stop offset="0.500" stop-color="#d629ff"/><stop offset="0.667" stop-color="#d629ff"/><stop offset="0.833" stop-color="#d629ff"/><stop offset="1.000" stop-color="#d52aff"/></linearGradient><linearGradient id="b132" x1="0" y1="0" x2="0" y2="1"><stop offset="0.000" stop-color="#d728ff"/><stop offset="0.167" stop-color="#d728ff"/><stop offset="0.333" stop-color="#d728ff"/><stop offset="0.500" stop-color="#d728ff"/><stop offset="0.667" stop-color="#d728ff"/><stop offset="0.833" stop-color="#d728ff"/><stop offset="1.000" stop-color="#d629ff"/></linearGradient><linearGradient id="b133" x1="0" y1="0" x2="0" y2="1"><stop offset="0.000" stop-color="#d728ff"/><stop offset="0.167" stop-color="#d728ff"/><stop offset="0.333" stop-color="#d728ff"/><stop offset="0.500" stop-color="#d728ff"/><stop offset="0.667" stop-color="#d728ff"/><stop offset="0.833" stop-color="#d728ff"/><stop offset="1.000" stop-color="#d728ff"/></linearGradient><linearGradient id="b134" x1="0" y1="0" x2="0" y2="1"><stop offset="0.000" stop-color="#d827ff"/><stop offset="0.167" stop-color="#d827ff"/><stop offset="0.333" stop-color="#d827ff"/><stop offset="0.500" stop-color="#d827ff"/><stop offset="0.667" stop-color="#d827ff"/><stop offset="0.833" stop-color="#d827ff"/><stop offset="1.000" stop-color="#d827ff"/></linearGradient><linearGradient id="d0" x1="0" y1="0" x2="0" y2="1"><stop offset="0.000" stop-color="#f50aff"/><stop offset="0.167" stop-color="#f50aff"/><stop offset="0.333" stop-color="#ee11ff"/><stop offset="0.500" stop-color="#e51aff"/><stop offset="0.667" stop-color="#c43bff"/><stop offset="0.833" stop-color="#d12eff"/><stop offset="1.000" stop-color="#d02fff"/></linearGradient><linearGradient id="d1" x1="0" y1="0" x2="0" y2="1"><stop offset="0.000" stop-color="#f50aff"/><stop offset="0.167" stop-color="#f50aff"/><stop offset="0.333" stop-color="#dc23ff"/><stop offset="0.500" stop-color="#d629ff"/><stop offset="0.667" stop-color="#bb44ff"/><stop offset="0.833" stop-color="#db24ff"/><stop offset="1.000" stop-color="#e51aff"/></linearGradient><linearGradient id="d2" x1="0" y1="0" x2="0" y2="1"><stop offset="0.000" stop-color="#f50aff"/><stop offset="0.167" stop-color="#f50aff"/><stop offset="0.333" stop-color="#c738ff"/><stop offset="0.500" stop-color="#b946ff"/><stop offset="0.667" stop-color="#b847ff"/><stop offset="0.833" stop-color="#e51aff"/><stop offset="1.000" stop-color="#f00fff"/></linearGradient><linearGradient id="d3" x1="0" y1="0" x2="0" y2="1"><stop offset="0.000" stop-color="#f50aff"/><stop offset="0.167" stop-color="#f50aff"/><stop offset="0.333" stop-color="#ad52ff"/><stop offset="0.500" stop-color="#926dff"/><stop offset="0.667" stop-color="#c03fff"/><stop offset="0.833" stop-color="#eb14ff"/><stop offset="1.000" stop-color="#f00fff"/></linearGradient><linearGradient id="d4" x1="0" y1="0" x2="0" y2="1"><stop offset="0.000" stop-color="#f50aff"/><stop offset="0.167" stop-color="#f50aff"/><stop offset="0.333" stop-color="#8679ff"/><stop offset="0.500" stop-color="#758aff"/><stop offset="0.667" stop-color="#d12eff"/><stop offset="0.833" stop-color="#eb14ff"/><stop offset="1.000" stop-color="#f10eff"/></linearGradient><linearGradient id="d5" x1="0" y1="0" x2="0" y2="1"><stop offset="0.000" stop-color="#f50aff"/><stop offset="0.167" stop-color="#f50aff"/><stop offset="0.333" stop-color="#57a8ff"/><stop offset="0.500" stop-color="#758aff"/><stop offset="0.667" stop-color="#e11eff"/><stop offset="0.833" stop-color="#ec13ff"/><stop offset="1.000" stop-color="#f20dff"/></linearGradient><linearGradient id="d6" x1="0" y1="0" x2="0" y2="1"><stop offset="0.000" stop-color="#f50aff"/><stop offset="0.167" stop-color="#f50aff"/><stop offset="0.333" stop-color="#3ac5ff"/><stop offset="0.500" stop-color="#946bff"/><stop offset="0.667" stop-color="#e817ff"/><stop offset="0.833" stop-color="#ec13ff"/><stop offset="1.000" stop-color="#f20dff"/></linearGradient><linearGradient id="d7" x1="0" y1="0" x2="0" y2="1"><stop offset="0.000" stop-color="#f50aff"/><stop offset="0.167" stop-color="#f50aff"/><stop offset="0.333" stop-color="#45baff"/><stop offset="0.500" stop-color="#bd42ff"/><stop offset="0.667" stop-color="#ed12ff"/><stop offset="0.833" stop-color="#ed12ff"/><stop offset="1.000" stop-color="#f30cff"/></linearGradient><linearGradient id="d8" x1="0" y1="0" x2="0" y2="1"><stop offset="0.000" stop-color="#f40bff"/><stop offset="0.167" stop-color="#f40bff"/><stop offset="0.333" stop-color="#6f90ff"/><stop offset="0.500" stop-color="#d629ff"/><stop offset="0.667" stop-color="#f10eff"/><stop offset="0.833" stop-color="#ed12ff"/><stop offset="1.000" stop-color="#f30cff"/></linearGradient><linearGradient id="d9" x1="0" y1="0" x2="0" y2="1"><stop offset="0.000" stop-color="#f40bff"/><stop offset="0.167" stop-color="#f40bff"/><stop offset="0.333" stop-color="#9e61ff"/><stop offset="0.500" stop-color="#e01fff"/><stop offset="0.667" stop-color="#f20dff"/><stop offset="0.833" stop-color="#ee11ff"/><stop offset="1.000" stop-color="#f30cff"/></linearGradient><linearGradient id="d10" x1="0" y1="0" x2="0" y2="1"><stop offset="0.000" stop-color="#f40bff"/><stop offset="0.167" stop-color="#f40bff"/><stop offset="0.333" stop-color="#b946ff"/><stop offset="0.500" stop-color="#e817ff"/><stop offset="0.667" stop-color="#f20dff"/><stop offset="0.833" stop-color="#ee11ff"/><stop offset="1.000" stop-color="#f40bff"/></linearGradient><linearGradient id="d11" x1="0" y1="0" x2="0" y2="1"><stop offset="0.000" stop-color="#f40bff"/><stop offset="0.167" stop-color="#f40bff"/><stop offset="0.333" stop-color="#cd32ff"/><stop offset="0.500" stop-color="#ee11ff"/><stop offset="0.667" stop-color="#f20dff"/><stop offset="0.833" stop-color="#ee11ff"/><stop offset="1.000" stop-color="#f40bff"/></linearGradient><linearGradient id="d12" x1="0" y1="0" x2="0" y2="1"><stop offset="0.000" stop-color="#f40bff"/><stop offset="0.167" stop-color="#f40bff"/><stop offset="0.333" stop-color="#dc23ff"/><stop offset="0.500" stop-color="#f00fff"/><stop offset="0.667" stop-color="#f20dff"/><stop offset="0.833" stop-color="#ef10ff"/><stop offset="1.000" stop-color="#f40bff"/></linearGradient><linearGradient id="d13" x1="0" y1="0" x2="0" y2="1"><stop offset="0.000" stop-color="#f40bff"/><stop offset="0.167" stop-color="#f40bff"/><stop offset="0.333" stop-color="#e41bff"/><stop offset="0.500" stop-color="#f00fff"/><stop offset="0.667" stop-color="#f10eff"/><stop offset="0.833" stop-color="#ef10ff"/><stop offset="1.000" stop-color="#f40bff"/></linearGradient><linearGradient id="d14" x1="0" y1="0" x2="0" y2="1"><stop offset="0.000" stop-color="#f40bff"/><stop offset="0.167" stop-color="#f40bff"/><stop offset="0.333" stop-color="#ea15ff"/><stop offset="0.500" stop-color="#ef10ff"/><stop offset="0.667" stop-color="#f10eff"/><stop offset="0.833" stop-color="#ef10ff"/><stop offset="1.000" stop-color="#f40bff"/></linearGradient><linearGradient id="d15" x1="0" y1="0" x2="0" y2="1"><stop offset="0.000" stop-color="#f40bff"/><stop offset="0.167" stop-color="#f40bff"/><stop offset="0.333" stop-color="#ee11ff"/><stop offset="0.500" stop-color="#ef10ff"/><stop offset="0.667" stop-color="#f00fff"/><stop offset="0.833" stop-color="#ef10ff"/><stop offset="1.000" stop-color="#f50aff"/></linearGradient><linearGradient id="d16" x1="0" y1="0" x2="0" y2="1"><stop offset="0.000" stop-color="#f40bff"/><stop offset="0.167" stop-color="#f40bff"/><stop offset="0.333" stop-color="#f00fff"/><stop offset="0.500" stop-color="#ee11ff"/><stop offset="0.667" stop-color="#ef10ff"/><stop offset="0.833" stop-color="#ef10ff"/><stop offset="1.000" stop-color="#f50aff"/></linearGradient><linearGradient id="d17" x1="0" y1="0" x2="0" y2="1"><stop offset="0.000" stop-color="#f30cff"/><stop offset="0.167" stop-color="#f30cff"/><stop offset="0.333" stop-color="#ef10ff"/><stop offset="0.500" stop-color="#ed12ff"/><stop offset="0.667" stop-color="#ee11ff"/><stop offset="0.833" stop-color="#ef10ff"/><stop offset="1.000" stop-color="#f50aff"/></linearGradient><linearGradient id="d18" x1="0" y1="0" x2="0" y2="1"><stop offset="0.000" stop-color="#f30cff"/><stop offset="0.167" stop-color="#f30cff"/><stop offset="0.333" stop-color="#ef10ff"/><stop offset="0.500" stop-color="#ec13ff"/><stop offset="0.667" stop-color="#ee11ff"/><stop offset="0.833" stop-color="#f00fff"/><stop offset="1.000" stop-color="#f50aff"/></linearGradient><linearGradient id="d19" x1="0" y1="0" x2="0" y2="1"><stop offset="0.000" stop-color="#f30cff"/><stop offset="0.167" stop-color="#f30cff"/><stop offset="0.333" stop-color="#ee11ff"/><stop offset="0.500" stop-color="#eb14ff"/><stop offset="0.667" stop-color="#ed12ff"/><stop offset="0.833" stop-color="#f00fff"/><stop offset="1.000" stop-color="#f50aff"/></linearGradient><linearGradient id="d20" x1="0" y1="0" x2="0" y2="1"><stop offset="0.000" stop-color="#f30cff"/><stop offset="0.167" stop-color="#f30cff"/><stop offset="0.333" stop-color="#ec13ff"/><stop offset="0.500" stop-color="#ea15ff"/><stop offset="0.667" stop-color="#ec13ff"/><stop offset="0.833" stop-color="#f00fff"/><stop offset="1.000" stop-color="#f50aff"/></linearGradient><linearGradient id="d21" x1="0" y1="0" x2="0" y2="1"><stop offset="0.000" stop-color="#f30cff"/><stop offset="0.167" stop-color="#f30cff"/><stop offset="0.333" stop-color="#eb14ff"/><stop offset="0.500" stop-color="#e916ff"/><stop offset="0.667" stop-color="#eb14ff"/><stop offset="0.833" stop-color="#f00fff"/><stop offset="1.000" stop-color="#f50aff"/></linearGradient><linearGradient id="d22" x1="0" y1="0" x2="0" y2="1"><stop offset="0.000" stop-color="#f30cff"/><stop offset="0.167" stop-color="#f30cff"/><stop offset="0.333" stop-color="#e916ff"/><stop offset="0.500" stop-color="#e817ff"/><stop offset="0.667" stop-color="#eb14ff"/><stop offset="0.833" stop-color="#f00fff"/><stop offset="1.000" stop-color="#f50aff"/></linearGradient><linearGradient id="d23" x1="0" y1="0" x2="0" y2="1"><stop offset="0.000" stop-color="#f20dff"/><stop offset="0.167" stop-color="#f20dff"/><stop offset="0.333" stop-color="#e718ff"/><stop offset="0.500" stop-color="#e718ff"/><stop offset="0.667" stop-color="#ea15ff"/><stop offset="0.833" stop-color="#f00fff"/><stop offset="1.000" stop-color="#f40bff"/></linearGradient><linearGradient id="d24" x1="0" y1="0" x2="0" y2="1"><stop offset="0.000" stop-color="#f20dff"/><stop offset="0.167" stop-color="#f20dff"/><stop offset="0.333" stop-color="#e51aff"/><stop offset="0.500" stop-color="#e619ff"/><stop offset="0.667" stop-color="#e916ff"/><stop offset="0.833" stop-color="#ef10ff"/><stop offset="1.000" stop-color="#f40bff"/></linearGradient><linearGradient id="d25" x1="0" y1="0" x2="0" y2="1"><stop offset="0.000" stop-color="#f20dff"/><stop offset="0.167" stop-color="#f20dff"/><stop offset="0.333" stop-color="#e41bff"/><stop offset="0.500" stop-color="#e51aff"/><stop offset="0.667" stop-color="#e817ff"/><stop offset="0.833" stop-color="#ef10ff"/><stop offset="1.000" stop-color="#f30cff"/></linearGradient><linearGradient id="d26" x1="0" y1="0" x2="0" y2="1"><stop offset="0.000" stop-color="#f20dff"/><stop offset="0.167" stop-color="#f20dff"/><stop offset="0.333" stop-color="#e21dff"/><stop offset="0.500" stop-color="#e41bff"/><stop offset="0.667" stop-color="#e817ff"/><stop offset="0.833" stop-color="#ef10ff"/><stop offset="1.000" stop-color="#f30cff"/></linearGradient><linearGradient id="d27" x1="0" y1="0" x2="0" y2="1"><stop offset="0.000" stop-color="#f20dff"/><stop offset="0.167" stop-color="#f20dff"/><stop offset="0.333" stop-color="#e01fff"/><stop offset="0.500" stop-color="#e21dff"/><stop offset="0.667" stop-color="#e718ff"/><stop offset="0.833" stop-color="#ee11ff"/><stop offset="1.000" stop-color="#f20dff"/></linearGradient><linearGradient id="d28" x1="0" y1="0" x2="0" y2="1"><stop offset="0.000" stop-color="#f20dff"/><stop offset="0.167" stop-color="#f20dff"/><stop offset="0.333" stop-color="#df20ff"/><stop offset="0.500" stop-color="#e11eff"/><stop offset="0.667" stop-color="#e619ff"/><stop offset="0.833" stop-color="#ee11ff"/><stop offset="1.000" stop-color="#f20dff"/></linearGradient><linearGradient id="d29" x1="0" y1="0" x2="0" y2="1"><stop offset="0.000" stop-color="#f10eff"/><stop offset="0.167" stop-color="#f10eff"/><stop offset="0.333" stop-color="#de21ff"/><stop offset="0.500" stop-color="#e01fff"/><stop offset="0.667" stop-color="#e51aff"/><stop offset="0.833" stop-color="#ed12ff"/><stop offset="1.000" stop-color="#f10eff"/></linearGradient><linearGradient id="d30" x1="0" y1="0" x2="0" y2="1"><stop offset="0.000" stop-color="#f10eff"/><stop offset="0.167" stop-color="#f10eff"/><stop offset="0.333" stop-color="#dd22ff"/><stop offset="0.500" stop-color="#de21ff"/><stop offset="0.667" stop-color="#e51aff"/><stop offset="0.833" stop-color="#ed12ff"/><stop offset="1.000" stop-color="#f00fff"/></linearGradient><linearGradient id="d31" x1="0" y1="0" x2="0" y2="1"><stop offset="0.000" stop-color="#f10eff"/><stop offset="0.167" stop-color="#f10eff"/><stop offset="0.333" stop-color="#dc23ff"/><stop offset="0.500" stop-color="#dd22ff"/><stop offset="0.667" stop-color="#e41bff"/><stop offset="0.833" stop-color="#ec13ff"/><stop offset="1.000" stop-color="#ef10ff"/></linearGradient><linearGradient id="d32" x1="0" y1="0" x2="0" y2="1"><stop offset="0.000" stop-color="#f10eff"/><stop offset="0.167" stop-color="#f10eff"/><stop offset="0.333" stop-color="#db24ff"/><stop offset="0.500" stop-color="#db24ff"/><stop offset="0.667" stop-color="#e31cff"/><stop offset="0.833" stop-color="#eb14ff"/><stop offset="1.000" stop-color="#ef10ff"/></linearGradient><linearGradient id="d33" x1="0" y1="0" x2="0" y2="1"><stop offset="0.000" stop-color="#f10eff"/><stop offset="0.167" stop-color="#f10eff"/><stop offset="0.333" stop-color="#d926ff"/><stop offset="0.500" stop-color="#da25ff"/><stop offset="0.667" stop-color="#e21dff"/><stop offset="0.833" stop-color="#ea15ff"/><stop offset="1.000" stop-color="#ee11ff"/></linearGradient><linearGradient id="d34" x1="0" y1="0" x2="0" y2="1"><stop offset="0.000" stop-color="#f00fff"/><stop offset="0.167" stop-color="#f00fff"/><stop offset="0.333" stop-color="#d827ff"/><stop offset="0.500" stop-color="#d827ff"/><stop offset="0.667" stop-color="#e11eff"/><stop offset="0.833" stop-color="#ea15ff"/><stop offset="1.000" stop-color="#ed12ff"/></linearGradient><linearGradient id="d35" x1="0" y1="0" x2="0" y2="1"><stop offset="0.000" stop-color="#f00fff"/><stop offset="0.167" stop-color="#f00fff"/><stop offset="0.333" stop-color="#d728ff"/><stop offset="0.500" stop-color="#d728ff"/><stop offset="0.667" stop-color="#e01fff"/><stop offset="0.833" stop-color="#e916ff"/><stop offset="1.000" stop-color="#ec13ff"/></linearGradient><linearGradient id="d36" x1="0" y1="0" x2="0" y2="1"><stop offset="0.000" stop-color="#f00fff"/><stop offset="0.167" stop-color="#f00fff"/><stop offset="0.333" stop-color="#d629ff"/><stop offset="0.500" stop-color="#d52aff"/><stop offset="0.667" stop-color="#df20ff"/><stop offset="0.833" stop-color="#e817ff"/><stop offset="1.000" stop-color="#eb14ff"/></linearGradient><linearGradient id="d37" x1="0" y1="0" x2="0" y2="1"><stop offset="0.000" stop-color="#f00fff"/><stop offset="0.167" stop-color="#f00fff"/><stop offset="0.333" stop-color="#d52aff"/><stop offset="0.500" stop-color="#d42bff"/><stop offset="0.667" stop-color="#de21ff"/><stop offset="0.833" stop-color="#e718ff"/><stop offset="1.000" stop-color="#eb14ff"/></linearGradient><linearGradient id="d38" x1="0" y1="0" x2="0" y2="1"><stop offset="0.000" stop-color="#ef10ff"/><stop offset="0.167" stop-color="#ef10ff"/><stop offset="0.333" stop-color="#d32cff"/><stop offset="0.500" stop-color="#d22dff"/><stop offset="0.667" stop-color="#dd22ff"/><stop offset="0.833" stop-color="#e619ff"/><stop offset="1.000" stop-color="#ea15ff"/></linearGradient><linearGradient id="d39" x1="0" y1="0" x2="0" y2="1"><stop offset="0.000" stop-color="#ef10ff"/><stop offset="0.167" stop-color="#ef10ff"/><stop offset="0.333" stop-color="#d22dff"/><stop offset="0.500" stop-color="#d02fff"/><stop offset="0.667" stop-color="#dc23ff"/><stop offset="0.833" stop-color="#e41bff"/><stop offset="1.000" stop-color="#e916ff"/></linearGradient><linearGradient id="d40" x1="0" y1="0" x2="0" y2="1"><stop offset="0.000" stop-color="#ef10ff"/><stop offset="0.167" stop-color="#ef10ff"/><stop offset="0.333" stop-color="#d02fff"/><stop offset="0.500" stop-color="#cf30ff"/><stop offset="0.667" stop-color="#db24ff"/><stop offset="0.833" stop-color="#e31cff"/><stop offset="1.000" stop-color="#e817ff"/></linearGradient><linearGradient id="d41" x1="0" y1="0" x2="0" y2="1"><stop offset="0.000" stop-color="#ef10ff"/><stop offset="0.167" stop-color="#ef10ff"/><stop offset="0.333" stop-color="#ce31ff"/><stop offset="0.500" stop-color="#cd32ff"/><stop offset="0.667" stop-color="#da25ff"/><stop offset="0.833" stop-color="#e21dff"/><stop offset="1.000" stop-color="#e718ff"/></linearGradient><linearGradient id="d42" x1="0" y1="0" x2="0" y2="1"><stop offset="0.000" stop-color="#ee11ff"/><stop offset="0.167" stop-color="#ee11ff"/><stop offset="0.333" stop-color="#cc33ff"/><stop offset="0.500" stop-color="#cc33ff"/><stop offset="0.667" stop-color="#d926ff"/><stop offset="0.833" stop-color="#e11eff"/><stop offset="1.000" stop-color="#e619ff"/></linearGradient><linearGradient id="d43" x1="0" y1="0" x2="0" y2="1"><stop offset="0.000" stop-color="#ee11ff"/><stop offset="0.167" stop-color="#ee11ff"/><stop offset="0.333" stop-color="#c936ff"/><stop offset="0.500" stop-color="#ca35ff"/><stop offset="0.667" stop-color="#d827ff"/><stop offset="0.833" stop-color="#e01fff"/><stop offset="1.000" stop-color="#e51aff"/></linearGradient><linearGradient id="d44" x1="0" y1="0" x2="0" y2="1"><stop offset="0.000" stop-color="#ee11ff"/><stop offset="0.167" stop-color="#ee11ff"/><stop offset="0.333" stop-color="#c639ff"/><stop offset="0.500" stop-color="#c837ff"/><stop offset="0.667" stop-color="#d629ff"/><stop offset="0.833" stop-color="#df20ff"/><stop offset="1.000" stop-color="#e41bff"/></linearGradient><linearGradient id="d45" x1="0" y1="0" x2="0" y2="1"><stop offset="0.000" stop-color="#ed12ff"/><stop offset="0.167" stop-color="#ed12ff"/><stop offset="0.333" stop-color="#c13eff"/><stop offset="0.500" stop-color="#c639ff"/><stop offset="0.667" stop-color="#d52aff"/><stop offset="0.833" stop-color="#de21ff"/><stop offset="1.000" stop-color="#e31cff"/></linearGradient><linearGradient id="d46" x1="0" y1="0" x2="0" y2="1"><stop offset="0.000" stop-color="#ed12ff"/><stop offset="0.167" stop-color="#ed12ff"/><stop offset="0.333" stop-color="#bc43ff"/><stop offset="0.500" stop-color="#c43bff"/><stop offset="0.667" stop-color="#d42bff"/><stop offset="0.833" stop-color="#dc23ff"/><stop offset="1.000" stop-color="#e21dff"/></linearGradient><linearGradient id="d47" x1="0" y1="0" x2="0" y2="1"><stop offset="0.000" stop-color="#ec13ff"/><stop offset="0.167" stop-color="#ec13ff"/><stop offset="0.333" stop-color="#b748ff"/><stop offset="0.500" stop-color="#c23dff"/><stop offset="0.667" stop-color="#d22dff"/><stop offset="0.833" stop-color="#db24ff"/><stop offset="1.000" stop-color="#e11eff"/></linearGradient><linearGradient id="d48" x1="0" y1="0" x2="0" y2="1"><stop offset="0.000" stop-color="#ec13ff"/><stop offset="0.167" stop-color="#ec13ff"/><stop offset="0.333" stop-color="#b14eff"/><stop offset="0.500" stop-color="#c03fff"/><stop offset="0.667" stop-color="#d12eff"/><stop offset="0.833" stop-color="#da25ff"/><stop offset="1.000" stop-color="#e01fff"/></linearGradient><linearGradient id="d49" x1="0" y1="0" x2="0" y2="1"><stop offset="0.000" stop-color="#ec13ff"/><stop offset="0.167" stop-color="#eb14ff"/><stop offset="0.333" stop-color="#ab54ff"/><stop offset="0.500" stop-color="#be41ff"/><stop offset="0.667" stop-color="#d02fff"/><stop offset="0.833" stop-color="#d926ff"/><stop offset="1.000" stop-color="#de21ff"/></linearGradient><linearGradient id="d50" x1="0" y1="0" x2="0" y2="1"><stop offset="0.000" stop-color="#eb14ff"/><stop offset="0.167" stop-color="#eb14ff"/><stop offset="0.333" stop-color="#a55aff"/><stop offset="0.500" stop-color="#bc43ff"/><stop offset="0.667" stop-color="#ce31ff"/><stop offset="0.833" stop-color="#d827ff"/><stop offset="1.000" stop-color="#dd22ff"/></linearGradient><linearGradient id="d51" x1="0" y1="0" x2="0" y2="1"><stop offset="0.000" stop-color="#eb14ff"/><stop offset="0.167" stop-color="#ea15ff"/><stop offset="0.333" stop-color="#9f60ff"/><stop offset="0.500" stop-color="#ba45ff"/><stop offset="0.667" stop-color="#cd32ff"/><stop offset="0.833" stop-color="#d629ff"/><stop offset="1.000" stop-color="#dc23ff"/></linearGradient><linearGradient id="d52" x1="0" y1="0" x2="0" y2="1"><stop offset="0.000" stop-color="#ea15ff"/><stop offset="0.167" stop-color="#ea15ff"/><stop offset="0.333" stop-color="#9966ff"/><stop offset="0.500" stop-color="#b847ff"/><stop offset="0.667" stop-color="#cb34ff"/><stop offset="0.833" stop-color="#d52aff"/><stop offset="1.000" stop-color="#da25ff"/></linearGradient><linearGradient id="d53" x1="0" y1="0" x2="0" y2="1"><stop offset="0.000" stop-color="#ea15ff"/><stop offset="0.167" stop-color="#e916ff"/><stop offset="0.333" stop-color="#936cff"/><stop offset="0.500" stop-color="#b54aff"/><stop offset="0.667" stop-color="#c936ff"/><stop offset="0.833" stop-color="#d32cff"/><stop offset="1.000" stop-color="#d926ff"/></linearGradient><linearGradient id="d54" x1="0" y1="0" x2="0" y2="1"><stop offset="0.000" stop-color="#e916ff"/><stop offset="0.167" stop-color="#e817ff"/><stop offset="0.333" stop-color="#8d72ff"/><stop offset="0.500" stop-color="#b24dff"/><stop offset="0.667" stop-color="#c837ff"/><stop offset="0.833" stop-color="#d12eff"/><stop offset="1.000" stop-color="#d827ff"/></linearGradient><linearGradient id="d55" x1="0" y1="0" x2="0" y2="1"><stop offset="0.000" stop-color="#e916ff"/><stop offset="0.167" stop-color="#e817ff"/><stop offset="0.333" stop-color="#8778ff"/><stop offset="0.500" stop-color="#b04fff"/><stop offset="0.667" stop-color="#c639ff"/><stop offset="0.833" stop-color="#d02fff"/><stop offset="1.000" stop-color="#d629ff"/></linearGradient><linearGradient id="d56" x1="0" y1="0" x2="0" y2="1"><stop offset="0.000" stop-color="#e817ff"/><stop offset="0.167" stop-color="#e718ff"/><stop offset="0.333" stop-color="#817eff"/><stop offset="0.500" stop-color="#ad52ff"/><stop offset="0.667" stop-color="#c43bff"/><stop offset="0.833" stop-color="#ce31ff"/><stop offset="1.000" stop-color="#d52aff"/></linearGradient><linearGradient id="d57" x1="0" y1="0" x2="0" y2="1"><stop offset="0.000" stop-color="#e718ff"/><stop offset="0.167" stop-color="#e718ff"/><stop offset="0.333" stop-color="#7a85ff"/><stop offset="0.500" stop-color="#aa55ff"/><stop offset="0.667" stop-color="#c23dff"/><stop offset="0.833" stop-color="#cc33ff"/><stop offset="1.000" stop-color="#d32cff"/></linearGradient><linearGradient id="d58" x1="0" y1="0" x2="0" y2="1"><stop offset="0.000" stop-color="#e718ff"/><stop offset="0.167" stop-color="#e619ff"/><stop offset="0.333" stop-color="#748bff"/><stop offset="0.500" stop-color="#a758ff"/><stop offset="0.667" stop-color="#c03fff"/><stop offset="0.833" stop-color="#ca35ff"/><stop offset="1.000" stop-color="#d12eff"/></linearGradient><linearGradient id="d59" x1="0" y1="0" x2="0" y2="1"><stop offset="0.000" stop-color="#e619ff"/><stop offset="0.167" stop-color="#e51aff"/><stop offset="0.333" stop-color="#6d92ff"/><stop offset="0.500" stop-color="#a35cff"/><stop offset="0.667" stop-color="#be41ff"/><stop offset="0.833" stop-color="#c837ff"/><stop offset="1.000" stop-color="#cf30ff"/></linearGradient><linearGradient id="d60" x1="0" y1="0" x2="0" y2="1"><stop offset="0.000" stop-color="#e619ff"/><stop offset="0.167" stop-color="#e51aff"/><stop offset="0.333" stop-color="#6699ff"/><stop offset="0.500" stop-color="#a05fff"/><stop offset="0.667" stop-color="#bc43ff"/><stop offset="0.833" stop-color="#c738ff"/><stop offset="1.000" stop-color="#cd32ff"/></linearGradient><linearGradient id="d61" x1="0" y1="0" x2="0" y2="1"><stop offset="0.000" stop-color="#e51aff"/><stop offset="0.167" stop-color="#e41bff"/><stop offset="0.333" stop-color="#609fff"/><stop offset="0.500" stop-color="#9c63ff"/><stop offset="0.667" stop-color="#ba45ff"/><stop offset="0.833" stop-color="#c53aff"/><stop offset="1.000" stop-color="#cb34ff"/></linearGradient><linearGradient id="d62" x1="0" y1="0" x2="0" y2="1"><stop offset="0.000" stop-color="#e51aff"/><stop offset="0.167" stop-color="#e31cff"/><stop offset="0.333" stop-color="#59a6ff"/><stop offset="0.500" stop-color="#9966ff"/><stop offset="0.667" stop-color="#b847ff"/><stop offset="0.833" stop-color="#c23dff"/><stop offset="1.000" stop-color="#c936ff"/></linearGradient><linearGradient id="d63" x1="0" y1="0" x2="0" y2="1"><stop offset="0.000" stop-color="#e41bff"/><stop offset="0.167" stop-color="#e31cff"/><stop offset="0.333" stop-color="#52adff"/><stop offset="0.500" stop-color="#956aff"/><stop offset="0.667" stop-color="#b54aff"/><stop offset="0.833" stop-color="#c03fff"/><stop offset="1.000" stop-color="#c738ff"/></linearGradient><linearGradient id="d64" x1="0" y1="0" x2="0" y2="1"><stop offset="0.000" stop-color="#e31cff"/><stop offset="0.167" stop-color="#e21dff"/><stop offset="0.333" stop-color="#4bb4ff"/><stop offset="0.500" stop-color="#916eff"/><stop offset="0.667" stop-color="#b34cff"/><stop offset="0.833" stop-color="#be41ff"/><stop offset="1.000" stop-color="#c43bff"/></linearGradient><linearGradient id="d65" x1="0" y1="0" x2="0" y2="1"><stop offset="0.000" stop-color="#e31cff"/><stop offset="0.167" stop-color="#e11eff"/><stop offset="0.333" stop-color="#44bbff"/><stop offset="0.500" stop-color="#8d72ff"/><stop offset="0.667" stop-color="#b04fff"/><stop offset="0.833" stop-color="#bc43ff"/><stop offset="1.000" stop-color="#c23dff"/></linearGradient><linearGradient id="d66" x1="0" y1="0" x2="0" y2="1"><stop offset="0.000" stop-color="#e21dff"/><stop offset="0.167" stop-color="#e01fff"/><stop offset="0.333" stop-color="#3dc2ff"/><stop offset="0.500" stop-color="#8976ff"/><stop offset="0.667" stop-color="#ad52ff"/><stop offset="0.833" stop-color="#ba45ff"/><stop offset="1.000" stop-color="#c03fff"/></linearGradient><linearGradient id="d67" x1="0" y1="0" x2="0" y2="1"><stop offset="0.000" stop-color="#e11eff"/><stop offset="0.167" stop-color="#e01fff"/><stop offset="0.333" stop-color="#36c9ff"/><stop offset="0.500" stop-color="#847bff"/><stop offset="0.667" stop-color="#aa55ff"/><stop offset="0.833" stop-color="#b847ff"/><stop offset="1.000" stop-color="#bd42ff"/></linearGradient><linearGradient id="d68" x1="0" y1="0" x2="0" y2="1"><stop offset="0.000" stop-color="#e11eff"/><stop offset="0.167" stop-color="#df20ff"/><stop offset="0.333" stop-color="#2fd0ff"/><stop offset="0.500" stop-color="#807fff"/><stop offset="0.667" stop-color="#a758ff"/><stop offset="0.833" stop-color="#b54aff"/><stop offset="1.000" stop-color="#bb44ff"/></linearGradient><linearGradient id="d69" x1="0" y1="0" x2="0" y2="1"><stop offset="0.000" stop-color="#e01fff"/><stop offset="0.167" stop-color="#de21ff"/><stop offset="0.333" stop-color="#28d7ff"/><stop offset="0.500" stop-color="#7b84ff"/><stop offset="0.667" stop-color="#a35cff"/><stop offset="0.833" stop-color="#b34cff"/><stop offset="1.000" stop-color="#b847ff"/></linearGradient><linearGradient id="d70" x1="0" y1="0" x2="0" y2="1"><stop offset="0.000" stop-color="#df20ff"/><stop offset="0.167" stop-color="#de21ff"/><stop offset="0.333" stop-color="#22ddff"/><stop offset="0.500" stop-color="#7689ff"/><stop offset="0.667" stop-color="#9f60ff"/><stop offset="0.833" stop-color="#b14eff"/><stop offset="1.000" stop-color="#b649ff"/></linearGradient><linearGradient id="d71" x1="0" y1="0" x2="0" y2="1"><stop offset="0.000" stop-color="#df20ff"/><stop offset="0.167" stop-color="#dd22ff"/><stop offset="0.333" stop-color="#1be4ff"/><stop offset="0.500" stop-color="#708fff"/><stop offset="0.667" stop-color="#9c63ff"/><stop offset="0.833" stop-color="#ae51ff"/><stop offset="1.000" stop-color="#b34cff"/></linearGradient><linearGradient id="d72" x1="0" y1="0" x2="0" y2="1"><stop offset="0.000" stop-color="#de21ff"/><stop offset="0.167" stop-color="#dc23ff"/><stop offset="0.333" stop-color="#16e9ff"/><stop offset="0.500" stop-color="#6b94ff"/><stop offset="0.667" stop-color="#9867ff"/><stop offset="0.833" stop-color="#ab54ff"/><stop offset="1.000" stop-color="#b14eff"/></linearGradient><linearGradient id="d73" x1="0" y1="0" x2="0" y2="1"><stop offset="0.000" stop-color="#dd22ff"/><stop offset="0.167" stop-color="#db24ff"/><stop offset="0.333" stop-color="#10efff"/><stop offset="0.500" stop-color="#659aff"/><stop offset="0.667" stop-color="#946bff"/><stop offset="0.833" stop-color="#a956ff"/><stop offset="1.000" stop-color="#ae51ff"/></linearGradient><linearGradient id="d74" x1="0" y1="0" x2="0" y2="1"><stop offset="0.000" stop-color="#dd22ff"/><stop offset="0.167" stop-color="#db24ff"/><stop offset="0.333" stop-color="#0af5ff"/><stop offset="0.500" stop-color="#5fa0ff"/><stop offset="0.667" stop-color="#906fff"/><stop offset="0.833" stop-color="#a659ff"/><stop offset="1.000" stop-color="#ac53ff"/></linearGradient><linearGradient id="d75" x1="0" y1="0" x2="0" y2="1"><stop offset="0.000" stop-color="#dc23ff"/><stop offset="0.167" stop-color="#da25ff"/><stop offset="0.333" stop-color="#04fbff"/><stop offset="0.500" stop-color="#59a6ff"/><stop offset="0.667" stop-color="#8b74ff"/><stop offset="0.833" stop-color="#a35cff"/><stop offset="1.000" stop-color="#a956ff"/></linearGradient><linearGradient id="d76" x1="0" y1="0" x2="0" y2="1"><stop offset="0.000" stop-color="#db24ff"/><stop offset="0.167" stop-color="#d926ff"/><stop offset="0.330" stop-color="#00ffff"/><stop offset="0.333" stop-color="#00ffff"/><stop offset="0.341" stop-color="#00ffff"/><stop offset="0.500" stop-color="#52adff"/><stop offset="0.667" stop-color="#8778ff"/><stop offset="0.833" stop-color="#a05fff"/><stop offset="1.000" stop-color="#a758ff"/></linearGradient><linearGradient id="d77" x1="0" y1="0" x2="0" y2="1"><stop offset="0.000" stop-color="#da25ff"/><stop offset="0.167" stop-color="#d827ff"/><stop offset="0.324" stop-color="#00ffff"/><stop offset="0.333" stop-color="#00ffff"/><stop offset="0.359" stop-color="#00ffff"/><stop offset="0.500" stop-color="#4bb4ff"/><stop offset="0.667" stop-color="#827dff"/><stop offset="0.833" stop-color="#9d62ff"/><stop offset="1.000" stop-color="#a55aff"/></linearGradient><linearGradient id="d78" x1="0" y1="0" x2="0" y2="1"><stop offset="0.000" stop-color="#da25ff"/><stop offset="0.167" stop-color="#d827ff"/><stop offset="0.317" stop-color="#00ffff"/><stop offset="0.333" stop-color="#00ffff"/><stop offset="0.377" stop-color="#00ffff"/><stop offset="0.500" stop-color="#43bcff"/><stop offset="0.667" stop-color="#7d82ff"/><stop offset="0.833" stop-color="#9a65ff"/><stop offset="1.000" stop-color="#a35cff"/></linearGradient><linearGradient id="d79" x1="0" y1="0" x2="0" y2="1"><stop offset="0.000" stop-color="#d926ff"/><stop offset="0.167" stop-color="#d728ff"/><stop offset="0.310" stop-color="#00ffff"/><stop offset="0.333" stop-color="#00ffff"/><stop offset="0.395" stop-color="#00ffff"/><stop offset="0.500" stop-color="#3bc4ff"/><stop offset="0.667" stop-color="#7788ff"/><stop offset="0.833" stop-color="#9768ff"/><stop offset="1.000" stop-color="#a05fff"/></linearGradient><linearGradient id="d80" x1="0" y1="0" x2="0" y2="1"><stop offset="0.000" stop-color="#d827ff"/><stop offset="0.167" stop-color="#d629ff"/><stop offset="0.304" stop-color="#00ffff"/><stop offset="0.333" stop-color="#00ffff"/><stop offset="0.412" stop-color="#00ffff"/><stop offset="0.500" stop-color="#33ccff"/><stop offset="0.667" stop-color="#728dff"/><stop offset="0.833" stop-color="#946bff"/><stop offset="1.000" stop-color="#9e61ff"/></linearGradient><linearGradient id="d81" x1="0" y1="0" x2="0" y2="1"><stop offset="0.000" stop-color="#d827ff"/><stop offset="0.167" stop-color="#d52aff"/><stop offset="0.298" stop-color="#00ffff"/><stop offset="0.333" stop-color="#00ffff"/><stop offset="0.429" stop-color="#00ffff"/><stop offset="0.500" stop-color="#2ad5ff"/><stop offset="0.667" stop-color="#6c93ff"/><stop offset="0.833" stop-color="#916eff"/><stop offset="1.000" stop-color="#9c63ff"/></linearGradient><linearGradient id="d82" x1="0" y1="0" x2="0" y2="1"><stop offset="0.000" stop-color="#d728ff"/><stop offset="0.167" stop-color="#d52aff"/><stop offset="0.293" stop-color="#00ffff"/><stop offset="0.333" stop-color="#00ffff"/><stop offset="0.445" stop-color="#00ffff"/><stop offset="0.500" stop-color="#21deff"/><stop offset="0.667" stop-color="#6699ff"/><stop offset="0.833" stop-color="#8d72ff"/><stop offset="1.000" stop-color="#9a65ff"/></linearGradient><linearGradient id="d83" x1="0" y1="0" x2="0" y2="1"><stop offset="0.000" stop-color="#d629ff"/><stop offset="0.167" stop-color="#d42bff"/><stop offset="0.288" stop-color="#00ffff"/><stop offset="0.333" stop-color="#00ffff"/><stop offset="0.461" stop-color="#00ffff"/><stop offset="0.500" stop-color="#18e7ff"/><stop offset="0.667" stop-color="#609fff"/><stop offset="0.833" stop-color="#8a75ff"/><stop offset="1.000" stop-color="#9867ff"/></linearGradient><linearGradient id="d84" x1="0" y1="0" x2="0" y2="1"><stop offset="0.000" stop-color="#d629ff"/><stop offset="0.167" stop-color="#d32cff"/><stop offset="0.283" stop-color="#00ffff"/><stop offset="0.333" stop-color="#00ffff"/><stop offset="0.477" stop-color="#00ffff"/><stop offset="0.500" stop-color="#0ff0ff"/><stop offset="0.667" stop-color="#5aa5ff"/><stop offset="0.833" stop-color="#8679ff"/><stop offset="1.000" stop-color="#9669ff"/></linearGradient><linearGradient id="d85" x1="0" y1="0" x2="0" y2="1"><stop offset="0.000" stop-color="#d52aff"/><stop offset="0.167" stop-color="#d22dff"/><stop offset="0.279" stop-color="#00ffff"/><stop offset="0.333" stop-color="#00ffff"/><stop offset="0.492" stop-color="#00ffff"/><stop offset="0.500" stop-color="#05faff"/><stop offset="0.667" stop-color="#53acff"/><stop offset="0.833" stop-color="#827dff"/><stop offset="1.000" stop-color="#936cff"/></linearGradient><linearGradient id="d86" x1="0" y1="0" x2="0" y2="1"><stop offset="0.000" stop-color="#d42bff"/><stop offset="0.167" stop-color="#d22dff"/><stop offset="0.275" stop-color="#00ffff"/><stop offset="0.333" stop-color="#00ffff"/><stop offset="0.500" stop-color="#00ffff"/><stop offset="0.511" stop-color="#00ffff"/><stop offset="0.667" stop-color="#4db2ff"/><stop offset="0.833" stop-color="#7e81ff"/><stop offset="1.000" stop-color="#916eff"/></linearGradient><linearGradient id="d87" x1="0" y1="0" x2="0" y2="1"><stop offset="0.000" stop-color="#d42bff"/><stop offset="0.167" stop-color="#d12eff"/><stop offset="0.272" stop-color="#00ffff"/><stop offset="0.333" stop-color="#00ffff"/><stop offset="0.500" stop-color="#00ffff"/><stop offset="0.534" stop-color="#00ffff"/><stop offset="0.667" stop-color="#46b9ff"/><stop offset="0.833" stop-color="#7a85ff"/><stop offset="1.000" stop-color="#8f70ff"/></linearGradient><linearGradient id="d88" x1="0" y1="0" x2="0" y2="1"><stop offset="0.000" stop-color="#d32cff"/><stop offset="0.167" stop-color="#d02fff"/><stop offset="0.269" stop-color="#00ffff"/><stop offset="0.333" stop-color="#00ffff"/><stop offset="0.500" stop-color="#00ffff"/><stop offset="0.557" stop-color="#00ffff"/><stop offset="0.667" stop-color="#3ec1ff"/><stop offset="0.833" stop-color="#7689ff"/><stop offset="1.000" stop-color="#8c73ff"/></linearGradient><linearGradient id="d89" x1="0" y1="0" x2="0" y2="1"><stop offset="0.000" stop-color="#d22dff"/><stop offset="0.167" stop-color="#d02fff"/><stop offset="0.267" stop-color="#00ffff"/><stop offset="0.333" stop-color="#00ffff"/><stop offset="0.500" stop-color="#00ffff"/><stop offset="0.578" stop-color="#00ffff"/><stop offset="0.667" stop-color="#37c8ff"/><stop offset="0.833" stop-color="#728dff"/><stop offset="1.000" stop-color="#8a75ff"/></linearGradient><linearGradient id="d90" x1="0" y1="0" x2="0" y2="1"><stop offset="0.000" stop-color="#d22dff"/><stop offset="0.167" stop-color="#cf30ff"/><stop offset="0.264" stop-color="#00ffff"/><stop offset="0.333" stop-color="#00ffff"/><stop offset="0.500" stop-color="#00ffff"/><stop offset="0.597" stop-color="#00ffff"/><stop offset="0.667" stop-color="#2fd0ff"/><stop offset="0.833" stop-color="#6d92ff"/><stop offset="1.000" stop-color="#8778ff"/></linearGradient><linearGradient id="d91" x1="0" y1="0" x2="0" y2="1"><stop offset="0.000" stop-color="#d12eff"/><stop offset="0.167" stop-color="#ce31ff"/><stop offset="0.262" stop-color="#00ffff"/><stop offset="0.333" stop-color="#00ffff"/><stop offset="0.500" stop-color="#00ffff"/><stop offset="0.613" stop-color="#00ffff"/><stop offset="0.667" stop-color="#26d9ff"/><stop offset="0.833" stop-color="#6897ff"/><stop offset="1.000" stop-color="#857aff"/></linearGradient><linearGradient id="d92" x1="0" y1="0" x2="0" y2="1"><stop offset="0.000" stop-color="#d02fff"/><stop offset="0.167" stop-color="#ce31ff"/><stop offset="0.260" stop-color="#00ffff"/><stop offset="0.333" stop-color="#00ffff"/><stop offset="0.500" stop-color="#00ffff"/><stop offset="0.627" stop-color="#00ffff"/><stop offset="0.667" stop-color="#1ee1ff"/><stop offset="0.833" stop-color="#639cff"/><stop offset="1.000" stop-color="#827dff"/></linearGradient><linearGradient id="d93" x1="0" y1="0" x2="0" y2="1"><stop offset="0.000" stop-color="#d02fff"/><stop offset="0.167" stop-color="#cd32ff"/><stop offset="0.258" stop-color="#00ffff"/><stop offset="0.333" stop-color="#00ffff"/><stop offset="0.500" stop-color="#00ffff"/><stop offset="0.640" stop-color="#00ffff"/><stop offset="0.667" stop-color="#16e9ff"/><stop offset="0.833" stop-color="#5da2ff"/><stop offset="1.000" stop-color="#7f80ff"/></linearGradient><linearGradient id="d94" x1="0" y1="0" x2="0" y2="1"><stop offset="0.000" stop-color="#cf30ff"/><stop offset="0.167" stop-color="#cc33ff"/><stop offset="0.256" stop-color="#00ffff"/><stop offset="0.333" stop-color="#00ffff"/><stop offset="0.500" stop-color="#00ffff"/><stop offset="0.651" stop-color="#00ffff"/><stop offset="0.667" stop-color="#0df2ff"/><stop offset="0.833" stop-color="#58a7ff"/><stop offset="1.000" stop-color="#7c83ff"/></linearGradient><linearGradient id="d95" x1="0" y1="0" x2="0" y2="1"><stop offset="0.000" stop-color="#ce31ff"/><stop offset="0.167" stop-color="#cc33ff"/><stop offset="0.255" stop-color="#00ffff"/><stop offset="0.333" stop-color="#00ffff"/><stop offset="0.500" stop-color="#00ffff"/><stop offset="0.661" stop-color="#00ffff"/><stop offset="0.667" stop-color="#04fbff"/><stop offset="0.833" stop-color="#52adff"/><stop offset="1.000" stop-color="#7986ff"/></linearGradient><linearGradient id="d96" x1="0" y1="0" x2="0" y2="1"><stop offset="0.000" stop-color="#cd32ff"/><stop offset="0.167" stop-color="#cb34ff"/><stop offset="0.254" stop-color="#00ffff"/><stop offset="0.333" stop-color="#00ffff"/><stop offset="0.500" stop-color="#00ffff"/><stop offset="0.667" stop-color="#00ffff"/><stop offset="0.676" stop-color="#00ffff"/><stop offset="0.833" stop-color="#4cb3ff"/><stop offset="1.000" stop-color="#758aff"/></linearGradient><linearGradient id="d97" x1="0" y1="0" x2="0" y2="1"><stop offset="0.000" stop-color="#cd32ff"/><stop offset="0.167" stop-color="#ca35ff"/><stop offset="0.253" stop-color="#00ffff"/><stop offset="0.333" stop-color="#00ffff"/><stop offset="0.500" stop-color="#00ffff"/><stop offset="0.667" stop-color="#00ffff"/><stop offset="0.696" stop-color="#00ffff"/><stop offset="0.833" stop-color="#46b9ff"/><stop offset="1.000" stop-color="#728dff"/></linearGradient><linearGradient id="d98" x1="0" y1="0" x2="0" y2="1"><stop offset="0.000" stop-color="#cc33ff"/><stop offset="0.167" stop-color="#c936ff"/><stop offset="0.253" stop-color="#00ffff"/><stop offset="0.333" stop-color="#00ffff"/><stop offset="0.500" stop-color="#00ffff"/><stop offset="0.667" stop-color="#00ffff"/><stop offset="0.716" stop-color="#00ffff"/><stop offset="0.833" stop-color="#40bfff"/><stop offset="1.000" stop-color="#6e91ff"/></linearGradient><linearGradient id="d99" x1="0" y1="0" x2="0" y2="1"><stop offset="0.000" stop-color="#cb34ff"/><stop offset="0.167" stop-color="#c936ff"/><stop offset="0.253" stop-color="#00ffff"/><stop offset="0.333" stop-color="#00ffff"/><stop offset="0.500" stop-color="#00ffff"/><stop offset="0.667" stop-color="#00ffff"/><stop offset="0.735" stop-color="#00ffff"/><stop offset="0.833" stop-color="#39c6ff"/><stop offset="1.000" stop-color="#6a95ff"/></linearGradient><linearGradient id="d100" x1="0" y1="0" x2="0" y2="1"><stop offset="0.000" stop-color="#ca35ff"/><stop offset="0.167" stop-color="#c837ff"/><stop offset="0.253" stop-color="#00ffff"/><stop offset="0.333" stop-color="#00ffff"/><stop offset="0.500" stop-color="#00ffff"/><stop offset="0.667" stop-color="#00ffff"/><stop offset="0.751" stop-color="#00ffff"/><stop offset="0.833" stop-color="#33ccff"/><stop offset="1.000" stop-color="#6699ff"/></linearGradient><linearGradient id="d101" x1="0" y1="0" x2="0" y2="1"><stop offset="0.000" stop-color="#ca35ff"/><stop offset="0.167" stop-color="#c738ff"/><stop offset="0.254" stop-color="#00ffff"/><stop offset="0.333" stop-color="#00ffff"/><stop offset="0.500" stop-color="#00ffff"/><stop offset="0.667" stop-color="#00ffff"/><stop offset="0.766" stop-color="#00ffff"/><stop offset="0.833" stop-color="#2cd3ff"/><stop offset="1.000" stop-color="#629dff"/></linearGradient><linearGradient id="d102" x1="0" y1="0" x2="0" y2="1"><stop offset="0.000" stop-color="#c936ff"/><stop offset="0.167" stop-color="#c738ff"/><stop offset="0.255" stop-color="#00ffff"/><stop offset="0.333" stop-color="#00ffff"/><stop offset="0.500" stop-color="#00ffff"/><stop offset="0.667" stop-color="#00ffff"/><stop offset="0.779" stop-color="#00ffff"/><stop offset="0.833" stop-color="#26d9ff"/><stop offset="1.000" stop-color="#5da2ff"/></linearGradient><linearGradient id="d103" x1="0" y1="0" x2="0" y2="1"><stop offset="0.000" stop-color="#c837ff"/><stop offset="0.167" stop-color="#c639ff"/><stop offset="0.256" stop-color="#00ffff"/><stop offset="0.333" stop-color="#00ffff"/><stop offset="0.500" stop-color="#00ffff"/><stop offset="0.667" stop-color="#00ffff"/><stop offset="0.790" stop-color="#00ffff"/><stop offset="0.833" stop-color="#1fe0ff"/><stop offset="1.000" stop-color="#59a6ff"/></linearGradient><linearGradient id="d104" x1="0" y1="0" x2="0" y2="1"><stop offset="0.000" stop-color="#c738ff"/><stop offset="0.167" stop-color="#c53aff"/><stop offset="0.257" stop-color="#00ffff"/><stop offset="0.333" stop-color="#00ffff"/><stop offset="0.500" stop-color="#00ffff"/><stop offset="0.667" stop-color="#00ffff"/><stop offset="0.801" stop-color="#00ffff"/><stop offset="0.833" stop-color="#18e7ff"/><stop offset="1.000" stop-color="#54abff"/></linearGradient><linearGradient id="d105" x1="0" y1="0" x2="0" y2="1"><stop offset="0.000" stop-color="#c738ff"/><stop offset="0.167" stop-color="#c43bff"/><stop offset="0.258" stop-color="#00ffff"/><stop offset="0.333" stop-color="#00ffff"/><stop offset="0.500" stop-color="#00ffff"/><stop offset="0.667" stop-color="#00ffff"/><stop offset="0.810" stop-color="#00ffff"/><stop offset="0.833" stop-color="#11eeff"/><stop offset="1.000" stop-color="#4fb0ff"/></linearGradient><linearGradient id="d106" x1="0" y1="0" x2="0" y2="1"><stop offset="0.000" stop-color="#c639ff"/><stop offset="0.167" stop-color="#c43bff"/><stop offset="0.260" stop-color="#00ffff"/><stop offset="0.333" stop-color="#00ffff"/><stop offset="0.500" stop-color="#00ffff"/><stop offset="0.667" stop-color="#00ffff"/><stop offset="0.819" stop-color="#00ffff"/><stop offset="0.833" stop-color="#0af5ff"/><stop offset="1.000" stop-color="#4ab5ff"/></linearGradient><linearGradient id="d107" x1="0" y1="0" x2="0" y2="1"><stop offset="0.000" stop-color="#c53aff"/><stop offset="0.167" stop-color="#c33cff"/><stop offset="0.263" stop-color="#00ffff"/><stop offset="0.333" stop-color="#00ffff"/><stop offset="0.500" stop-color="#00ffff"/><stop offset="0.667" stop-color="#00ffff"/><stop offset="0.828" stop-color="#00ffff"/><stop offset="0.833" stop-color="#03fcff"/><stop offset="1.000" stop-color="#45baff"/></linearGradient><linearGradient id="d108" x1="0" y1="0" x2="0" y2="1"><stop offset="0.000" stop-color="#c43bff"/><stop offset="0.167" stop-color="#c23dff"/><stop offset="0.267" stop-color="#00ffff"/><stop offset="0.333" stop-color="#00ffff"/><stop offset="0.500" stop-color="#00ffff"/><stop offset="0.667" stop-color="#00ffff"/><stop offset="0.833" stop-color="#00ffff"/><stop offset="0.842" stop-color="#00ffff"/><stop offset="1.000" stop-color="#40bfff"/></linearGradient><linearGradient id="d109" x1="0" y1="0" x2="0" y2="1"><stop offset="0.000" stop-color="#c33cff"/><stop offset="0.167" stop-color="#c13eff"/><stop offset="0.272" stop-color="#00ffff"/><stop offset="0.333" stop-color="#00ffff"/><stop offset="0.500" stop-color="#00ffff"/><stop offset="0.667" stop-color="#00ffff"/><stop offset="0.833" stop-color="#00ffff"/><stop offset="0.862" stop-color="#00ffff"/><stop offset="1.000" stop-color="#3bc4ff"/></linearGradient><linearGradient id="d110" x1="0" y1="0" x2="0" y2="1"><stop offset="0.000" stop-color="#c33cff"/><stop offset="0.167" stop-color="#c13eff"/><stop offset="0.279" stop-color="#00ffff"/><stop offset="0.333" stop-color="#00ffff"/><stop offset="0.500" stop-color="#00ffff"/><stop offset="0.667" stop-color="#00ffff"/><stop offset="0.833" stop-color="#00ffff"/><stop offset="0.881" stop-color="#00ffff"/><stop offset="1.000" stop-color="#35caff"/></linearGradient><linearGradient id="d111" x1="0" y1="0" x2="0" y2="1"><stop offset="0.000" stop-color="#c23dff"/><stop offset="0.167" stop-color="#c03fff"/><stop offset="0.286" stop-color="#00ffff"/><stop offset="0.333" stop-color="#00ffff"/><stop offset="0.500" stop-color="#00ffff"/><stop offset="0.667" stop-color="#00ffff"/><stop offset="0.833" stop-color="#00ffff"/><stop offset="0.900" stop-color="#00ffff"/><stop offset="1.000" stop-color="#30cfff"/></linearGradient><linearGradient id="d112" x1="0" y1="0" x2="0" y2="1"><stop offset="0.000" stop-color="#c13eff"/><stop offset="0.167" stop-color="#bf40ff"/><stop offset="0.295" stop-color="#00ffff"/><stop offset="0.333" stop-color="#00ffff"/><stop offset="0.500" stop-color="#00ffff"/><stop offset="0.667" stop-color="#00ffff"/><stop offset="0.833" stop-color="#00ffff"/><stop offset="0.917" stop-color="#00ffff"/><stop offset="1.000" stop-color="#2ad5ff"/></linearGradient><linearGradient id="d113" x1="0" y1="0" x2="0" y2="1"><stop offset="0.000" stop-color="#c03fff"/><stop offset="0.167" stop-color="#be41ff"/><stop offset="0.306" stop-color="#00ffff"/><stop offset="0.333" stop-color="#00ffff"/><stop offset="0.500" stop-color="#00ffff"/><stop offset="0.667" stop-color="#00ffff"/><stop offset="0.833" stop-color="#00ffff"/><stop offset="0.932" stop-color="#00ffff"/><stop offset="1.000" stop-color="#24dbff"/></linearGradient><linearGradient id="d114" x1="0" y1="0" x2="0" y2="1"><stop offset="0.000" stop-color="#bf40ff"/><stop offset="0.167" stop-color="#bd42ff"/><stop offset="0.319" stop-color="#00ffff"/><stop offset="0.333" stop-color="#00ffff"/><stop offset="0.500" stop-color="#00ffff"/><stop offset="0.667" stop-color="#00ffff"/><stop offset="0.833" stop-color="#00ffff"/><stop offset="0.946" stop-color="#00ffff"/><stop offset="1.000" stop-color="#1de2ff"/></linearGradient><linearGradient id="d115" x1="0" y1="0" x2="0" y2="1"><stop offset="0.000" stop-color="#be41ff"/><stop offset="0.167" stop-color="#bd42ff"/><stop offset="0.333" stop-color="#00ffff"/><stop offset="0.500" stop-color="#00ffff"/><stop offset="0.667" stop-color="#00ffff"/><stop offset="0.833" stop-color="#00ffff"/><stop offset="0.959" stop-color="#00ffff"/><stop offset="1.000" stop-color="#17e8ff"/></linearGradient><linearGradient id="d116" x1="0" y1="0" x2="0" y2="1"><stop offset="0.000" stop-color="#be41ff"/><stop offset="0.167" stop-color="#bc43ff"/><stop offset="0.333" stop-color="#0ff0ff"/><stop offset="0.379" stop-color="#00ffff"/><stop offset="0.500" stop-color="#00ffff"/><stop offset="0.667" stop-color="#00ffff"/><stop offset="0.833" stop-color="#00ffff"/><stop offset="0.970" stop-color="#00ffff"/><stop offset="1.000" stop-color="#10efff"/></linearGradient><linearGradient id="d117" x1="0" y1="0" x2="0" y2="1"><stop offset="0.000" stop-color="#bd42ff"/><stop offset="0.167" stop-color="#bb44ff"/><stop offset="0.333" stop-color="#1ee1ff"/><stop offset="0.428" stop-color="#00ffff"/><stop offset="0.500" stop-color="#00ffff"/><stop offset="0.667" stop-color="#00ffff"/><stop offset="0.833" stop-color="#00ffff"/><stop offset="0.982" stop-color="#00ffff"/><stop offset="1.000" stop-color="#0af5ff"/></linearGradient><linearGradient id="d118" x1="0" y1="0" x2="0" y2="1"><stop offset="0.000" stop-color="#bc43ff"/><stop offset="0.167" stop-color="#ba45ff"/><stop offset="0.333" stop-color="#2bd4ff"/><stop offset="0.477" stop-color="#00ffff"/><stop offset="0.500" stop-color="#00ffff"/><stop offset="0.667" stop-color="#00ffff"/><stop offset="0.833" stop-color="#00ffff"/><stop offset="0.994" stop-color="#00ffff"/><stop offset="1.000" stop-color="#03fcff"/></linearGradient><linearGradient id="d119" x1="0" y1="0" x2="0" y2="1"><stop offset="0.000" stop-color="#bb44ff"/><stop offset="0.167" stop-color="#ba45ff"/><stop offset="0.333" stop-color="#38c7ff"/><stop offset="0.500" stop-color="#06f9ff"/><stop offset="0.514" stop-color="#00ffff"/><stop offset="0.667" stop-color="#00ffff"/><stop offset="0.833" stop-color="#00ffff"/><stop offset="1.000" stop-color="#00ffff"/></linearGradient><linearGradient id="d120" x1="0" y1="0" x2="0" y2="1"><stop offset="0.000" stop-color="#ba45ff"/><stop offset="0.167" stop-color="#b946ff"/><stop offset="0.333" stop-color="#43bcff"/><stop offset="0.500" stop-color="#12edff"/><stop offset="0.543" stop-color="#00ffff"/><stop offset="0.667" stop-color="#00ffff"/><stop offset="0.833" stop-color="#00ffff"/><stop offset="1.000" stop-color="#00ffff"/></linearGradient><linearGradient id="d121" x1="0" y1="0" x2="0" y2="1"><stop offset="0.000" stop-color="#b946ff"/><stop offset="0.167" stop-color="#b847ff"/><stop offset="0.333" stop-color="#4db2ff"/><stop offset="0.500" stop-color="#1ee1ff"/><stop offset="0.573" stop-color="#00ffff"/><stop offset="0.667" stop-color="#00ffff"/><stop offset="0.833" stop-color="#00ffff"/><stop offset="1.000" stop-color="#00ffff"/></linearGradient><linearGradient id="d122" x1="0" y1="0" x2="0" y2="1"><stop offset="0.000" stop-color="#b847ff"/><stop offset="0.167" stop-color="#b748ff"/><stop offset="0.333" stop-color="#58a7ff"/><stop offset="0.500" stop-color="#29d6ff"/><stop offset="0.604" stop-color="#00ffff"/><stop offset="0.667" stop-color="#00ffff"/><stop offset="0.833" stop-color="#00ffff"/><stop offset="1.000" stop-color="#00ffff"/></linearGradient><linearGradient id="d123" x1="0" y1="0" x2="0" y2="1"><stop offset="0.000" stop-color="#b748ff"/><stop offset="0.167" stop-color="#b649ff"/><stop offset="0.333" stop-color="#619eff"/><stop offset="0.500" stop-color="#34cbff"/><stop offset="0.636" stop-color="#00ffff"/><stop offset="0.667" stop-color="#00ffff"/><stop offset="0.833" stop-color="#00ffff"/><stop offset="1.000" stop-color="#00ffff"/></linearGradient><linearGradient id="d124" x1="0" y1="0" x2="0" y2="1"><stop offset="0.000" stop-color="#b748ff"/><stop offset="0.167" stop-color="#b649ff"/><stop offset="0.333" stop-color="#6996ff"/><stop offset="0.500" stop-color="#3ec1ff"/><stop offset="0.667" stop-color="#00ffff"/><stop offset="0.833" stop-color="#00ffff"/><stop offset="1.000" stop-color="#00ffff"/></linearGradient><linearGradient id="d125" x1="0" y1="0" x2="0" y2="1"><stop offset="0.000" stop-color="#b649ff"/><stop offset="0.167" stop-color="#b54aff"/><stop offset="0.333" stop-color="#708fff"/><stop offset="0.500" stop-color="#47b8ff"/><stop offset="0.667" stop-color="#0bf4ff"/><stop offset="0.693" stop-color="#00ffff"/><stop offset="0.833" stop-color="#00ffff"/><stop offset="1.000" stop-color="#00ffff"/></linearGradient><linearGradient id="d126" x1="0" y1="0" x2="0" y2="1"><stop offset="0.000" stop-color="#b54aff"/><stop offset="0.167" stop-color="#b44bff"/><stop offset="0.333" stop-color="#7689ff"/><stop offset="0.500" stop-color="#50afff"/><stop offset="0.667" stop-color="#15eaff"/><stop offset="0.716" stop-color="#00ffff"/><stop offset="0.833" stop-color="#00ffff"/><stop offset="1.000" stop-color="#00ffff"/></linearGradient><linearGradient id="d127" x1="0" y1="0" x2="0" y2="1"><stop offset="0.000" stop-color="#b44bff"/><stop offset="0.167" stop-color="#b34cff"/><stop offset="0.333" stop-color="#7c83ff"/><stop offset="0.500" stop-color="#59a6ff"/><stop offset="0.667" stop-color="#20dfff"/><stop offset="0.739" stop-color="#00ffff"/><stop offset="0.833" stop-color="#00ffff"/><stop offset="1.000" stop-color="#00ffff"/></linearGradient><linearGradient id="d128" x1="0" y1="0" x2="0" y2="1"><stop offset="0.000" stop-color="#b34cff"/><stop offset="0.167" stop-color="#b24dff"/><stop offset="0.333" stop-color="#827dff"/><stop offset="0.500" stop-color="#619eff"/><stop offset="0.667" stop-color="#2ad5ff"/><stop offset="0.765" stop-color="#00ffff"/><stop offset="0.833" stop-color="#00ffff"/><stop offset="1.000" stop-color="#00ffff"/></linearGradient><linearGradient id="d129" x1="0" y1="0" x2="0" y2="1"><stop offset="0.000" stop-color="#b24dff"/><stop offset="0.167" stop-color="#b24dff"/><stop offset="0.333" stop-color="#8778ff"/><stop offset="0.500" stop-color="#6996ff"/><stop offset="0.667" stop-color="#35caff"/><stop offset="0.797" stop-color="#00ffff"/><stop offset="0.833" stop-color="#00ffff"/><stop offset="1.000" stop-color="#00ffff"/></linearGradient><linearGradient id="d130" x1="0" y1="0" x2="0" y2="1"><stop offset="0.000" stop-color="#b14eff"/><stop offset="0.167" stop-color="#b14eff"/><stop offset="0.333" stop-color="#8c73ff"/><stop offset="0.500" stop-color="#708fff"/><stop offset="0.667" stop-color="#3fc0ff"/><stop offset="0.833" stop-color="#00ffff"/><stop offset="1.000" stop-color="#00ffff"/></linearGradient><linearGradient id="d131" x1="0" y1="0" x2="0" y2="1"><stop offset="0.000" stop-color="#b04fff"/><stop offset="0.167" stop-color="#b04fff"/><stop offset="0.333" stop-color="#906fff"/><stop offset="0.500" stop-color="#7788ff"/><stop offset="0.667" stop-color="#49b6ff"/><stop offset="0.833" stop-color="#0ef1ff"/><stop offset="0.859" stop-color="#00ffff"/><stop offset="1.000" stop-color="#00ffff"/></linearGradient><linearGradient id="d132" x1="0" y1="0" x2="0" y2="1"><stop offset="0.000" stop-color="#af50ff"/><stop offset="0.167" stop-color="#af50ff"/><stop offset="0.333" stop-color="#946bff"/><stop offset="0.500" stop-color="#7e81ff"/><stop offset="0.667" stop-color="#53acff"/><stop offset="0.833" stop-color="#1de2ff"/><stop offset="0.877" stop-color="#00ffff"/><stop offset="1.000" stop-color="#00ffff"/></linearGradient><linearGradient id="d133" x1="0" y1="0" x2="0" y2="1"><stop offset="0.000" stop-color="#ae51ff"/><stop offset="0.167" stop-color="#ae51ff"/><stop offset="0.333" stop-color="#9768ff"/><stop offset="0.500" stop-color="#847bff"/><stop offset="0.667" stop-color="#5ca3ff"/><stop offset="0.833" stop-color="#2dd2ff"/><stop offset="0.890" stop-color="#00ffff"/><stop offset="1.000" stop-color="#00ffff"/></linearGradient><linearGradient id="d134" x1="0" y1="0" x2="0" y2="1"><stop offset="0.000" stop-color="#ae51ff"/><stop offset="0.167" stop-color="#ae51ff"/><stop offset="0.333" stop-color="#9966ff"/><stop offset="0.500" stop-color="#8877ff"/><stop offset="0.667" stop-color="#649bff"/><stop offset="0.833" stop-color="#39c6ff"/><stop offset="0.898" stop-color="#00ffff"/><stop offset="1.000" stop-color="#00ffff"/></linearGradient><linearGradient id="cb" x1="0" y1="0" x2="0" y2="1"><stop offset="0" stop-color="#ff00ff"/><stop offset="1" stop-color="#00ffff"/></linearGradient></defs>
<line x1="28.0" y1="23.0" x2="312.4" y2="23.0" stroke="#cfcfcf" stroke-width="1.2"/>
<line x1="312.4" y1="23.0" x2="312.4" y2="149.4" stroke="#bdbdbd" stroke-width="1.2"/>
<line x1="28.0" y1="149.4" x2="312.4" y2="149.4" stroke="#9a9a9a" stroke-width="1.1"/>
<line x1="28.0" y1="23.0" x2="28.0" y2="149.4" stroke="#ececec" stroke-width="1"/>
<line x1="28.0" y1="149.4" x2="28.0" y2="146.6" stroke="#b0b0b0" stroke-width="0.8"/>
<line x1="28.0" y1="23.0" x2="28.0" y2="25.8" stroke="#b0b0b0" stroke-width="0.8"/>
<text x="28.0" y="162" font-size="10" text-anchor="middle" >0.3</text>
<line x1="84.9" y1="149.4" x2="84.9" y2="146.6" stroke="#b0b0b0" stroke-width="0.8"/>
<line x1="84.9" y1="23.0" x2="84.9" y2="25.8" stroke="#b0b0b0" stroke-width="0.8"/>
<text x="84.9" y="162" font-size="10" text-anchor="middle" >0.4</text>
<line x1="141.8" y1="149.4" x2="141.8" y2="146.6" stroke="#b0b0b0" stroke-width="0.8"/>
<line x1="141.8" y1="23.0" x2="141.8" y2="25.8" stroke="#b0b0b0" stroke-width="0.8"/>
<text x="141.8" y="162" font-size="10" text-anchor="middle" >0.5</text>
<line x1="198.6" y1="149.4" x2="198.6" y2="146.6" stroke="#b0b0b0" stroke-width="0.8"/>
<line x1="198.6" y1="23.0" x2="198.6" y2="25.8" stroke="#b0b0b0" stroke-width="0.8"/>
<text x="198.6" y="162" font-size="10" text-anchor="middle" >0.6</text>
<line x1="255.5" y1="149.4" x2="255.5" y2="146.6" stroke="#b0b0b0" stroke-width="0.8"/>
<line x1="255.5" y1="23.0" x2="255.5" y2="25.8" stroke="#b0b0b0" stroke-width="0.8"/>
<text x="255.5" y="162" font-size="10" text-anchor="middle" >0.7</text>
<line x1="312.4" y1="149.4" x2="312.4" y2="146.6" stroke="#b0b0b0" stroke-width="0.8"/>
<line x1="312.4" y1="23.0" x2="312.4" y2="25.8" stroke="#b0b0b0" stroke-width="0.8"/>
<text x="312.4" y="162" font-size="10" text-anchor="middle" >0.8</text>
<line x1="28.0" y1="149.4" x2="30.8" y2="149.4" stroke="#b0b0b0" stroke-width="0.8"/>
<line x1="312.4" y1="149.4" x2="309.59999999999997" y2="149.4" stroke="#b0b0b0" stroke-width="0.8"/>
<text x="24.8" y="152.8" font-size="10" text-anchor="end" >0</text>
<line x1="28.0" y1="124.1" x2="30.8" y2="124.1" stroke="#b0b0b0" stroke-width="0.8"/>
<line x1="312.4" y1="124.1" x2="309.59999999999997" y2="124.1" stroke="#b0b0b0" stroke-width="0.8"/>
<text x="24.8" y="127.5" font-size="10" text-anchor="end" >0.2</text>
<line x1="28.0" y1="98.8" x2="30.8" y2="98.8" stroke="#b0b0b0" stroke-width="0.8"/>
<line x1="312.4" y1="98.8" x2="309.59999999999997" y2="98.8" stroke="#b0b0b0" stroke-width="0.8"/>
<text x="24.8" y="102.2" font-size="10" text-anchor="end" >0.4</text>
<line x1="28.0" y1="73.6" x2="30.8" y2="73.6" stroke="#b0b0b0" stroke-width="0.8"/>
<line x1="312.4" y1="73.6" x2="309.59999999999997" y2="73.6" stroke="#b0b0b0" stroke-width="0.8"/>
<text x="24.8" y="77.0" font-size="10" text-anchor="end" >0.6</text>
<line x1="28.0" y1="48.3" x2="30.8" y2="48.3" stroke="#b0b0b0" stroke-width="0.8"/>
<line x1="312.4" y1="48.3" x2="309.59999999999997" y2="48.3" stroke="#b0b0b0" stroke-width="0.8"/>
<text x="24.8" y="51.7" font-size="10" text-anchor="end" >0.8</text>
<line x1="28.0" y1="23.0" x2="30.8" y2="23.0" stroke="#b0b0b0" stroke-width="0.8"/>
<line x1="312.4" y1="23.0" x2="309.59999999999997" y2="23.0" stroke="#b0b0b0" stroke-width="0.8"/>
<text x="24.8" y="26.4" font-size="10" text-anchor="end" >1</text>
<polyline points="28.0,33.6 28.5,33.7 29.0,33.7 29.5,33.8 30.0,33.8 30.5,33.9 31.0,33.9 31.5,34.0 32.0,34.0 32.5,34.1 33.0,34.1 33.5,34.2 34.0,34.3 34.5,34.3 35.0,34.4 35.5,34.4 36.0,34.5 36.5,34.6 37.0,34.6 37.5,34.7 38.0,34.7 38.5,34.8 39.0,34.9 39.5,34.9 40.0,35.0 40.5,35.0 41.0,35.1 41.5,35.2 42.0,35.2 42.5,35.3 43.0,35.4 43.5,35.4 44.0,35.5 44.5,35.6 45.0,35.6 45.5,35.7 46.0,35.8 46.5,35.8 47.0,35.9 47.5,36.0 48.0,36.1 48.5,36.1 49.0,36.2 49.5,36.3 50.0,36.3 50.5,36.4 51.0,36.5 51.5,36.6 52.0,36.7 52.5,36.7 53.0,36.8 53.5,36.9 54.0,37.0 54.5,37.1 55.0,37.1 55.5,37.2 56.0,37.3 56.5,37.4 57.0,37.5 57.5,37.6 58.0,37.6 58.5,37.7 59.0,37.8 59.5,37.9 60.0,38.0 60.5,38.1 61.0,38.2 61.5,38.3 62.0,38.4 62.5,38.4 63.0,38.5 63.5,38.6 64.0,38.7 64.5,38.8 65.0,38.9 65.5,39.0 66.0,39.1 66.5,39.2 67.0,39.3 67.5,39.4 68.0,39.5 68.5,39.6 69.0,39.7 69.5,39.8 70.0,39.9 70.5,40.0 71.0,40.1 71.5,40.2 72.0,40.4 72.5,40.5 73.0,40.6 73.5,40.7 74.0,40.8 74.5,40.9 75.0,41.0 75.5,41.1 76.0,41.3 76.5,41.4 77.0,41.5 77.5,41.6 78.0,41.7 78.5,41.9 79.0,42.0 79.5,42.1 80.0,42.2 80.5,42.4 81.0,42.5 81.5,42.6 82.0,42.7 82.5,42.9 83.0,43.0 83.5,43.1 84.0,43.3 84.5,43.4 85.0,43.5 85.5,43.7 86.0,43.8 86.5,43.9 87.0,44.1 87.5,44.2 88.0,44.3 88.5,44.5 89.0,44.6 89.5,44.8 90.0,44.9 90.5,45.0 91.0,45.2 91.5,45.3 92.0,45.5 92.5,45.6 93.0,45.8 93.5,45.9 94.0,46.0 94.5,46.2 95.0,46.3 95.5,46.5 96.0,46.6 96.5,46.8 97.0,46.9 97.5,47.1 98.0,47.2 98.5,47.4 99.0,47.5 99.5,47.7 100.0,47.9 100.5,48.0 101.0,48.2 101.5,48.3 102.0,48.5 102.5,48.6 103.0,48.8 103.5,49.0 104.0,49.1 104.5,49.3 105.0,49.5 105.5,49.6 106.0,49.8 106.5,50.0 107.0,50.1 107.5,50.3 108.0,50.5 108.5,50.6 109.0,50.8 109.5,51.0 110.0,51.2 110.5,51.4 111.0,51.5 111.5,51.7 112.0,51.9 112.5,52.1 113.0,52.3 113.5,52.5 114.0,52.7 114.5,52.9 115.0,53.1 115.5,53.3 116.0,53.5 116.5,53.7 117.0,53.9 117.5,54.1 118.0,54.3 118.5,54.5 119.0,54.7 119.5,55.0 120.0,55.2 120.5,55.4 121.0,55.7 121.5,55.9 122.0,56.1 122.5,56.4 123.0,56.6 123.5,56.8 124.0,57.1 124.5,57.3 125.0,57.6 125.5,57.9 126.0,58.1 126.5,58.4 127.0,58.6 127.5,58.9 128.0,59.2 128.5,59.5 129.0,59.7 129.5,60.0 130.0,60.3 130.5,60.6 131.0,60.9 131.5,61.2 132.0,61.4 132.5,61.7 133.0,62.0 133.5,62.3 134.0,62.6 134.5,62.9 135.0,63.2 135.5,63.5 136.0,63.8 136.5,64.2 137.0,64.5 137.5,64.8 138.0,65.1 138.5,65.4 139.0,65.7 139.5,66.0 140.0,66.3 140.5,66.7 141.0,67.0 141.5,67.3 142.0,67.6 142.5,68.0 143.0,68.3 143.5,68.6 144.0,68.9 144.5,69.3 145.0,69.6 145.5,69.9 146.0,70.3 146.5,70.6 147.0,70.9 147.5,71.3 148.0,71.6 148.5,72.0 149.0,72.3 149.5,72.7 150.0,73.0 150.5,73.4 151.0,73.7 151.5,74.1 152.0,74.4 152.5,74.8 153.0,75.2 153.5,75.5 154.0,75.9 154.5,76.3 155.0,76.6 155.5,77.0 156.0,77.4 156.5,77.8 157.0,78.2 157.5,78.6 158.0,79.0 158.5,79.4 159.0,79.8 159.5,80.2 160.0,80.7 160.5,81.1 161.0,81.5 161.5,81.9 162.0,82.4 162.5,82.8 163.0,83.3 163.5,83.7 164.0,84.2 164.5,84.6 165.0,85.1 165.5,85.6 166.0,86.0 166.5,86.5 167.0,87.0 167.5,87.5 168.0,88.0 168.5,88.5 169.0,89.0 169.5,89.4 170.0,89.9 170.5,90.5 171.0,91.0 171.5,91.5 172.0,92.0 172.5,92.5 173.0,93.0 173.5,93.5 174.0,94.1 174.5,94.6 175.0,95.1 175.5,95.6 176.0,96.2 176.5,96.7 177.0,97.2 177.5,97.7 178.0,98.3 178.5,98.8 179.0,99.3 179.5,99.9 180.0,100.4 180.5,100.9 181.0,101.4 181.5,102.0 182.0,102.5 182.5,103.0 183.0,103.5 183.5,104.0 184.0,104.5 184.5,105.0 185.0,105.5 185.5,106.0 186.0,106.5 186.5,107.0 187.0,107.5 187.5,108.0 188.0,108.4 188.5,108.9 189.0,109.4 189.5,109.8 190.0,110.3 190.5,110.7 191.0,111.2 191.5,111.6 192.0,112.0 192.5,112.4 193.0,112.9 193.5,113.3 194.0,113.7 194.5,114.1 195.0,114.4 195.5,114.8 196.0,115.2 196.5,115.6 197.0,115.9 197.5,116.3 198.0,116.6 198.5,117.0 199.0,117.3 199.5,117.6 200.0,118.0 200.5,118.3 201.0,118.6 201.5,118.9 202.0,119.1 202.5,119.4 203.0,119.7 203.5,119.9 204.0,120.1 204.5,120.4 205.0,120.6 205.5,120.8 206.0,121.0 206.5,121.1 207.0,121.3 207.5,121.4 208.0,121.5 208.5,121.6 209.0,121.7 209.5,121.8 210.0,121.8 210.5,121.8 211.0,121.8 211.5,121.8 212.0,121.7 212.5,121.6 213.0,121.5 213.5,121.4 214.0,121.2 214.5,121.1 215.0,120.9 215.5,120.6 216.0,120.4 216.5,120.1 217.0,119.7 217.5,119.4 218.0,119.0 218.5,118.6 219.0,118.2 219.5,117.8 220.0,117.3 220.5,116.8 221.0,116.3 221.5,115.7 222.0,115.2 222.5,114.6 223.0,114.0 223.5,113.4 224.0,112.7 224.5,112.1 225.0,111.4 225.5,110.7 226.0,110.0 226.5,109.3 227.0,108.5 227.5,107.8 228.0,107.0 228.5,106.2 229.0,105.5 229.5,104.7 230.0,103.9 230.5,103.1 231.0,102.2 231.5,101.4 232.0,100.6 232.5,99.8 233.0,98.9 233.5,98.1 234.0,97.2 234.5,96.4 235.0,95.5 235.5,94.7 236.0,93.8 236.5,92.9 237.0,92.1 237.5,91.2 238.0,90.3 238.5,89.5 239.0,88.6 239.5,87.7 240.0,86.8 240.5,86.0 241.0,85.1 241.5,84.2 242.0,83.4 242.5,82.5 243.0,81.6 243.5,80.8 244.0,79.9 244.5,79.0 245.0,78.2 245.5,77.3 246.0,76.5 246.5,75.6 247.0,74.8 247.5,73.9 248.0,73.1 248.5,72.3 249.0,71.4 249.5,70.6 250.0,69.8 250.5,69.0 251.0,68.2 251.5,67.4 252.0,66.6 252.5,65.8 253.0,65.0 253.5,64.2 254.0,63.5 254.5,62.7 255.0,62.0 255.5,61.3 256.0,60.5 256.5,59.8 257.0,59.1 257.5,58.4 258.0,57.7 258.5,57.1 259.0,56.4 259.5,55.8 260.0,55.1 260.5,54.5 261.0,53.9 261.5,53.3 262.0,52.7 262.5,52.1 263.0,51.6 263.5,51.0 264.0,50.5 264.5,49.9 265.0,49.4 265.5,48.9 266.0,48.4 266.5,48.0 267.0,47.5 267.5,47.0 268.0,46.6 268.5,46.1 269.0,45.7 269.5,45.3 270.0,44.9 270.5,44.5 271.0,44.2 271.5,43.8 272.0,43.4 272.5,43.1 273.0,42.7 273.5,42.4 274.0,42.1 274.5,41.8 275.0,41.5 275.5,41.2 276.0,40.9 276.5,40.6 277.0,40.4 277.5,40.1 278.0,39.9 278.5,39.6 279.0,39.4 279.5,39.2 280.0,38.9 280.5,38.7 281.0,38.5 281.5,38.3 282.0,38.1 282.5,37.9 283.0,37.7 283.5,37.6 284.0,37.4 284.5,37.2 285.0,37.1 285.5,36.9 286.0,36.8 286.5,36.6 287.0,36.5 287.5,36.3 288.0,36.2 288.5,36.1 289.0,35.9 289.5,35.8 290.0,35.7 290.5,35.6 291.0,35.5 291.5,35.4 292.0,35.3 292.5,35.2 293.0,35.1 293.5,35.0 294.0,34.9 294.5,34.8 295.0,34.7 295.5,34.6 296.0,34.5 296.5,34.5 297.0,34.4 297.5,34.3 298.0,34.2 298.5,34.2 299.0,34.1 299.5,34.0 300.0,34.0 300.5,33.9 301.0,33.8 301.5,33.8 302.0,33.7 302.5,33.7 303.0,33.6 303.5,33.6 304.0,33.5 304.5,33.4 305.0,33.4 305.5,33.3 306.0,33.3 306.5,33.2 307.0,33.2 307.5,33.1 308.0,33.1 308.5,33.1 309.0,33.0 309.5,33.0 310.0,32.9 310.5,32.9 311.0,32.8 311.5,32.8 312.0,32.7" fill="none" stroke="#000000" stroke-width="1.4" stroke-linejoin="round"/>
<polyline points="28.0,33.6 28.5,33.7 29.0,33.7 29.5,33.8 30.0,33.9 30.5,33.9 31.0,34.0 31.5,34.0 32.0,34.1 32.5,34.2 33.0,34.2 33.5,34.3 34.0,34.3 34.5,34.4 35.0,34.5 35.5,34.5 36.0,34.6 36.5,34.7 37.0,34.7 37.5,34.8 38.0,34.8 38.5,34.9 39.0,35.0 39.5,35.0 40.0,35.1 40.5,35.2 41.0,35.2 41.5,35.3 42.0,35.4 42.5,35.4 43.0,35.5 43.5,35.6 44.0,35.7 44.5,35.7 45.0,35.8 45.5,35.9 46.0,36.0 46.5,36.0 47.0,36.1 47.5,36.2 48.0,36.3 48.5,36.3 49.0,36.4 49.5,36.5 50.0,36.6 50.5,36.6 51.0,36.7 51.5,36.8 52.0,36.9 52.5,37.0 53.0,37.1 53.5,37.1 54.0,37.2 54.5,37.3 55.0,37.4 55.5,37.5 56.0,37.6 56.5,37.7 57.0,37.8 57.5,37.9 58.0,37.9 58.5,38.0 59.0,38.1 59.5,38.2 60.0,38.3 60.5,38.4 61.0,38.5 61.5,38.6 62.0,38.7 62.5,38.8 63.0,38.9 63.5,39.0 64.0,39.1 64.5,39.2 65.0,39.3 65.5,39.4 66.0,39.5 66.5,39.6 67.0,39.7 67.5,39.8 68.0,39.9 68.5,40.0 69.0,40.1 69.5,40.3 70.0,40.4 70.5,40.5 71.0,40.6 71.5,40.7 72.0,40.8 72.5,40.9 73.0,41.1 73.5,41.2 74.0,41.3 74.5,41.4 75.0,41.5 75.5,41.7 76.0,41.8 76.5,41.9 77.0,42.0 77.5,42.2 78.0,42.3 78.5,42.4 79.0,42.6 79.5,42.7 80.0,42.8 80.5,42.9 81.0,43.1 81.5,43.2 82.0,43.4 82.5,43.5 83.0,43.6 83.5,43.8 84.0,43.9 84.5,44.0 85.0,44.2 85.5,44.3 86.0,44.5 86.5,44.6 87.0,44.7 87.5,44.9 88.0,45.0 88.5,45.2 89.0,45.3 89.5,45.5 90.0,45.6 90.5,45.8 91.0,45.9 91.5,46.1 92.0,46.2 92.5,46.4 93.0,46.5 93.5,46.7 94.0,46.8 94.5,47.0 95.0,47.1 95.5,47.3 96.0,47.4 96.5,47.6 97.0,47.7 97.5,47.9 98.0,48.1 98.5,48.2 99.0,48.4 99.5,48.5 100.0,48.7 100.5,48.9 101.0,49.0 101.5,49.2 102.0,49.4 102.5,49.5 103.0,49.7 103.5,49.9 104.0,50.0 104.5,50.2 105.0,50.4 105.5,50.6 106.0,50.7 106.5,50.9 107.0,51.1 107.5,51.3 108.0,51.5 108.5,51.7 109.0,51.8 109.5,52.0 110.0,52.2 110.5,52.4 111.0,52.6 111.5,52.8 112.0,53.0 112.5,53.2 113.0,53.4 113.5,53.6 114.0,53.8 114.5,54.1 115.0,54.3 115.5,54.5 116.0,54.7 116.5,54.9 117.0,55.2 117.5,55.4 118.0,55.6 118.5,55.9 119.0,56.1 119.5,56.3 120.0,56.6 120.5,56.8 121.0,57.1 121.5,57.3 122.0,57.6 122.5,57.8 123.0,58.1 123.5,58.4 124.0,58.6 124.5,58.9 125.0,59.2 125.5,59.5 126.0,59.7 126.5,60.0 127.0,60.3 127.5,60.6 128.0,60.9 128.5,61.2 129.0,61.5 129.5,61.8 130.0,62.1 130.5,62.4 131.0,62.7 131.5,63.0 132.0,63.3 132.5,63.6 133.0,63.9 133.5,64.2 134.0,64.5 134.5,64.8 135.0,65.1 135.5,65.5 136.0,65.8 136.5,66.1 137.0,66.4 137.5,66.7 138.0,67.1 138.5,67.4 139.0,67.7 139.5,68.0 140.0,68.4 140.5,68.7 141.0,69.0 141.5,69.4 142.0,69.7 142.5,70.0 143.0,70.4 143.5,70.7 144.0,71.0 144.5,71.4 145.0,71.7 145.5,72.1 146.0,72.4 146.5,72.8 147.0,73.1 147.5,73.5 148.0,73.8 148.5,74.2 149.0,74.5 149.5,74.9 150.0,75.3 150.5,75.7 151.0,76.0 151.5,76.4 152.0,76.8 152.5,77.2 153.0,77.6 153.5,77.9 154.0,78.3 154.5,78.7 155.0,79.2 155.5,79.6 156.0,80.0 156.5,80.4 157.0,80.8 157.5,81.2 158.0,81.7 158.5,82.1 159.0,82.6 159.5,83.0 160.0,83.4 160.5,83.9 161.0,84.4 161.5,84.8 162.0,85.3 162.5,85.8 163.0,86.2 163.5,86.7 164.0,87.2 164.5,87.7 165.0,88.2 165.5,88.7 166.0,89.2 166.5,89.6 167.0,90.2 167.5,90.7 168.0,91.2 168.5,91.7 169.0,92.2 169.5,92.7 170.0,93.2 170.5,93.7 171.0,94.3 171.5,94.8 172.0,95.3 172.5,95.8 173.0,96.4 173.5,96.9 174.0,97.4 174.5,97.9 175.0,98.5 175.5,99.0 176.0,99.5 176.5,100.0 177.0,100.6 177.5,101.1 178.0,101.6 178.5,102.1 179.0,102.7 179.5,103.2 180.0,103.7 180.5,104.2 181.0,104.7 181.5,105.2 182.0,105.7 182.5,106.2 183.0,106.7 183.5,107.2 184.0,107.6 184.5,108.1 185.0,108.6 185.5,109.1 186.0,109.5 186.5,110.0 187.0,110.4 187.5,110.9 188.0,111.3 188.5,111.7 189.0,112.1 189.5,112.6 190.0,113.0 190.5,113.4 191.0,113.8 191.5,114.2 192.0,114.5 192.5,114.9 193.0,115.3 193.5,115.7 194.0,116.0 194.5,116.4 195.0,116.7 195.5,117.1 196.0,117.4 196.5,117.7 197.0,118.0 197.5,118.3 198.0,118.6 198.5,118.9 199.0,119.2 199.5,119.5 200.0,119.8 200.5,120.0 201.0,120.2 201.5,120.5 202.0,120.7 202.5,120.9 203.0,121.1 203.5,121.2 204.0,121.4 204.5,121.5 205.0,121.6 205.5,121.7 206.0,121.8 206.5,121.8 207.0,121.8 207.5,121.8 208.0,121.7 208.5,121.7 209.0,121.5 209.5,121.4 210.0,121.2 210.5,121.0 211.0,120.8 211.5,120.5 212.0,120.2 212.5,119.9 213.0,119.5 213.5,119.1 214.0,118.7 214.5,118.3 215.0,117.8 215.5,117.4 216.0,116.9 216.5,116.3 217.0,115.8 217.5,115.2 218.0,114.7 218.5,114.1 219.0,113.4 219.5,112.8 220.0,112.2 220.5,111.5 221.0,110.8 221.5,110.1 222.0,109.4 222.5,108.7 223.0,107.9 223.5,107.2 224.0,106.4 224.5,105.7 225.0,104.9 225.5,104.1 226.0,103.3 226.5,102.5 227.0,101.7 227.5,100.9 228.0,100.1 228.5,99.3 229.0,98.5 229.5,97.7 230.0,96.8 230.5,96.0 231.0,95.1 231.5,94.3 232.0,93.5 232.5,92.6 233.0,91.8 233.5,90.9 234.0,90.1 234.5,89.2 235.0,88.4 235.5,87.5 236.0,86.7 236.5,85.8 237.0,85.0 237.5,84.1 238.0,83.3 238.5,82.4 239.0,81.6 239.5,80.8 240.0,79.9 240.5,79.1 241.0,78.2 241.5,77.4 242.0,76.6 242.5,75.8 243.0,74.9 243.5,74.1 244.0,73.3 244.5,72.5 245.0,71.7 245.5,70.9 246.0,70.1 246.5,69.3 247.0,68.5 247.5,67.7 248.0,67.0 248.5,66.2 249.0,65.4 249.5,64.7 250.0,63.9 250.5,63.2 251.0,62.5 251.5,61.8 252.0,61.1 252.5,60.4 253.0,59.7 253.5,59.0 254.0,58.3 254.5,57.7 255.0,57.0 255.5,56.4 256.0,55.8 256.5,55.2 257.0,54.6 257.5,54.0 258.0,53.4 258.5,52.8 259.0,52.2 259.5,51.7 260.0,51.2 260.5,50.6 261.0,50.1 261.5,49.6 262.0,49.1 262.5,48.7 263.0,48.2 263.5,47.7 264.0,47.3 264.5,46.9 265.0,46.4 265.5,46.0 266.0,45.6 266.5,45.2 267.0,44.8 267.5,44.5 268.0,44.1 268.5,43.8 269.0,43.4 269.5,43.1 270.0,42.8 270.5,42.4 271.0,42.1 271.5,41.8 272.0,41.5 272.5,41.3 273.0,41.0 273.5,40.7 274.0,40.5 274.5,40.2 275.0,40.0 275.5,39.7 276.0,39.5 276.5,39.3 277.0,39.1 277.5,38.9 278.0,38.7 278.5,38.5 279.0,38.3 279.5,38.1 280.0,37.9 280.5,37.7 281.0,37.6 281.5,37.4 282.0,37.3 282.5,37.1 283.0,36.9 283.5,36.8 284.0,36.7 284.5,36.5 285.0,36.4 285.5,36.3 286.0,36.1 286.5,36.0 287.0,35.9 287.5,35.8 288.0,35.7 288.5,35.6 289.0,35.5 289.5,35.4 290.0,35.3 290.5,35.2 291.0,35.1 291.5,35.0 292.0,34.9 292.5,34.8 293.0,34.7 293.5,34.6 294.0,34.6 294.5,34.5 295.0,34.4 295.5,34.4 296.0,34.3 296.5,34.2 297.0,34.1 297.5,34.1 298.0,34.0 298.5,34.0 299.0,33.9 299.5,33.8 300.0,33.8 300.5,33.7 301.0,33.7 301.5,33.6 302.0,33.6 302.5,33.5 303.0,33.5 303.5,33.4 304.0,33.4 304.5,33.3 305.0,33.3 305.5,33.2 306.0,33.2 306.5,33.2 307.0,33.1 307.5,33.1 308.0,33.0 308.5,33.0 309.0,33.0 309.5,32.9 310.0,32.9 310.5,32.8 311.0,32.8 311.5,32.8 312.0,32.7" fill="none" stroke="#0000ff" stroke-width="1.4" stroke-linejoin="round"/>
<polyline points="28.0,33.6 28.5,33.7 29.0,33.8 29.5,33.8 30.0,33.9 30.5,33.9 31.0,34.0 31.5,34.1 32.0,34.1 32.5,34.2 33.0,34.3 33.5,34.3 34.0,34.4 34.5,34.5 35.0,34.5 35.5,34.6 36.0,34.6 36.5,34.7 37.0,34.8 37.5,34.8 38.0,34.9 38.5,35.0 39.0,35.0 39.5,35.1 40.0,35.2 40.5,35.3 41.0,35.3 41.5,35.4 42.0,35.5 42.5,35.5 43.0,35.6 43.5,35.7 44.0,35.8 44.5,35.8 45.0,35.9 45.5,36.0 46.0,36.1 46.5,36.1 47.0,36.2 47.5,36.3 48.0,36.4 48.5,36.4 49.0,36.5 49.5,36.6 50.0,36.7 50.5,36.8 51.0,36.9 51.5,36.9 52.0,37.0 52.5,37.1 53.0,37.2 53.5,37.3 54.0,37.4 54.5,37.5 55.0,37.6 55.5,37.7 56.0,37.7 56.5,37.8 57.0,37.9 57.5,38.0 58.0,38.1 58.5,38.2 59.0,38.3 59.5,38.4 60.0,38.5 60.5,38.6 61.0,38.7 61.5,38.8 62.0,38.9 62.5,39.0 63.0,39.1 63.5,39.2 64.0,39.3 64.5,39.4 65.0,39.5 65.5,39.6 66.0,39.7 66.5,39.8 67.0,39.9 67.5,40.1 68.0,40.2 68.5,40.3 69.0,40.4 69.5,40.5 70.0,40.6 70.5,40.7 71.0,40.9 71.5,41.0 72.0,41.1 72.5,41.2 73.0,41.3 73.5,41.5 74.0,41.6 74.5,41.7 75.0,41.8 75.5,42.0 76.0,42.1 76.5,42.2 77.0,42.4 77.5,42.5 78.0,42.6 78.5,42.7 79.0,42.9 79.5,43.0 80.0,43.2 80.5,43.3 81.0,43.4 81.5,43.6 82.0,43.7 82.5,43.8 83.0,44.0 83.5,44.1 84.0,44.3 84.5,44.4 85.0,44.6 85.5,44.7 86.0,44.8 86.5,45.0 87.0,45.1 87.5,45.3 88.0,45.4 88.5,45.6 89.0,45.7 89.5,45.9 90.0,46.0 90.5,46.2 91.0,46.3 91.5,46.5 92.0,46.6 92.5,46.8 93.0,46.9 93.5,47.1 94.0,47.2 94.5,47.4 95.0,47.6 95.5,47.7 96.0,47.9 96.5,48.0 97.0,48.2 97.5,48.4 98.0,48.5 98.5,48.7 99.0,48.9 99.5,49.0 100.0,49.2 100.5,49.4 101.0,49.5 101.5,49.7 102.0,49.9 102.5,50.0 103.0,50.2 103.5,50.4 104.0,50.6 104.5,50.7 105.0,50.9 105.5,51.1 106.0,51.3 106.5,51.5 107.0,51.7 107.5,51.9 108.0,52.1 108.5,52.2 109.0,52.4 109.5,52.6 110.0,52.8 110.5,53.0 111.0,53.2 111.5,53.5 112.0,53.7 112.5,53.9 113.0,54.1 113.5,54.3 114.0,54.5 114.5,54.8 115.0,55.0 115.5,55.2 116.0,55.4 116.5,55.7 117.0,55.9 117.5,56.2 118.0,56.4 118.5,56.6 119.0,56.9 119.5,57.1 120.0,57.4 120.5,57.7 121.0,57.9 121.5,58.2 122.0,58.5 122.5,58.7 123.0,59.0 123.5,59.3 124.0,59.6 124.5,59.8 125.0,60.1 125.5,60.4 126.0,60.7 126.5,61.0 127.0,61.3 127.5,61.6 128.0,61.9 128.5,62.2 129.0,62.5 129.5,62.8 130.0,63.1 130.5,63.4 131.0,63.7 131.5,64.0 132.0,64.3 132.5,64.7 133.0,65.0 133.5,65.3 134.0,65.6 134.5,65.9 135.0,66.2 135.5,66.6 136.0,66.9 136.5,67.2 137.0,67.5 137.5,67.9 138.0,68.2 138.5,68.5 139.0,68.9 139.5,69.2 140.0,69.5 140.5,69.9 141.0,70.2 141.5,70.5 142.0,70.9 142.5,71.2 143.0,71.6 143.5,71.9 144.0,72.2 144.5,72.6 145.0,73.0 145.5,73.3 146.0,73.7 146.5,74.0 147.0,74.4 147.5,74.7 148.0,75.1 148.5,75.5 149.0,75.9 149.5,76.2 150.0,76.6 150.5,77.0 151.0,77.4 151.5,77.8 152.0,78.2 152.5,78.6 153.0,79.0 153.5,79.4 154.0,79.8 154.5,80.2 155.0,80.6 155.5,81.1 156.0,81.5 156.5,81.9 157.0,82.4 157.5,82.8 158.0,83.3 158.5,83.7 159.0,84.2 159.5,84.6 160.0,85.1 160.5,85.6 161.0,86.0 161.5,86.5 162.0,87.0 162.5,87.5 163.0,88.0 163.5,88.5 164.0,89.0 164.5,89.4 165.0,89.9 165.5,90.5 166.0,91.0 166.5,91.5 167.0,92.0 167.5,92.5 168.0,93.0 168.5,93.5 169.0,94.0 169.5,94.6 170.0,95.1 170.5,95.6 171.0,96.1 171.5,96.7 172.0,97.2 172.5,97.7 173.0,98.3 173.5,98.8 174.0,99.3 174.5,99.8 175.0,100.4 175.5,100.9 176.0,101.4 176.5,101.9 177.0,102.4 177.5,103.0 178.0,103.5 178.5,104.0 179.0,104.5 179.5,105.0 180.0,105.5 180.5,106.0 181.0,106.5 181.5,107.0 182.0,107.4 182.5,107.9 183.0,108.4 183.5,108.9 184.0,109.3 184.5,109.8 185.0,110.2 185.5,110.7 186.0,111.1 186.5,111.5 187.0,112.0 187.5,112.4 188.0,112.8 188.5,113.2 189.0,113.6 189.5,114.0 190.0,114.4 190.5,114.7 191.0,115.1 191.5,115.5 192.0,115.8 192.5,116.2 193.0,116.5 193.5,116.9 194.0,117.2 194.5,117.5 195.0,117.9 195.5,118.2 196.0,118.5 196.5,118.8 197.0,119.0 197.5,119.3 198.0,119.6 198.5,119.8 199.0,120.1 199.5,120.3 200.0,120.5 200.5,120.7 201.0,120.9 201.5,121.1 202.0,121.2 202.5,121.4 203.0,121.5 203.5,121.6 204.0,121.7 204.5,121.7 205.0,121.8 205.5,121.8 206.0,121.8 206.5,121.8 207.0,121.7 207.5,121.6 208.0,121.5 208.5,121.4 209.0,121.2 209.5,121.0 210.0,120.7 210.5,120.5 211.0,120.2 211.5,119.9 212.0,119.5 212.5,119.1 213.0,118.7 213.5,118.3 214.0,117.9 214.5,117.4 215.0,116.9 215.5,116.4 216.0,115.9 216.5,115.3 217.0,114.7 217.5,114.1 218.0,113.5 218.5,112.9 219.0,112.3 219.5,111.6 220.0,110.9 220.5,110.2 221.0,109.5 221.5,108.8 222.0,108.1 222.5,107.3 223.0,106.6 223.5,105.8 224.0,105.1 224.5,104.3 225.0,103.5 225.5,102.7 226.0,101.9 226.5,101.1 227.0,100.3 227.5,99.5 228.0,98.7 228.5,97.9 229.0,97.0 229.5,96.2 230.0,95.4 230.5,94.5 231.0,93.7 231.5,92.9 232.0,92.0 232.5,91.2 233.0,90.3 233.5,89.5 234.0,88.6 234.5,87.8 235.0,86.9 235.5,86.1 236.0,85.2 236.5,84.4 237.0,83.6 237.5,82.7 238.0,81.9 238.5,81.0 239.0,80.2 239.5,79.4 240.0,78.5 240.5,77.7 241.0,76.9 241.5,76.1 242.0,75.2 242.5,74.4 243.0,73.6 243.5,72.8 244.0,72.0 244.5,71.2 245.0,70.4 245.5,69.6 246.0,68.8 246.5,68.1 247.0,67.3 247.5,66.5 248.0,65.8 248.5,65.0 249.0,64.3 249.5,63.6 250.0,62.8 250.5,62.1 251.0,61.4 251.5,60.7 252.0,60.0 252.5,59.3 253.0,58.7 253.5,58.0 254.0,57.4 254.5,56.7 255.0,56.1 255.5,55.5 256.0,54.9 256.5,54.3 257.0,53.7 257.5,53.1 258.0,52.6 258.5,52.0 259.0,51.5 259.5,51.0 260.0,50.4 260.5,49.9 261.0,49.4 261.5,49.0 262.0,48.5 262.5,48.0 263.0,47.6 263.5,47.1 264.0,46.7 264.5,46.3 265.0,45.9 265.5,45.5 266.0,45.1 266.5,44.7 267.0,44.4 267.5,44.0 268.0,43.7 268.5,43.3 269.0,43.0 269.5,42.7 270.0,42.4 270.5,42.1 271.0,41.8 271.5,41.5 272.0,41.2 272.5,40.9 273.0,40.7 273.5,40.4 274.0,40.2 274.5,39.9 275.0,39.7 275.5,39.5 276.0,39.3 276.5,39.1 277.0,38.8 277.5,38.6 278.0,38.5 278.5,38.3 279.0,38.1 279.5,37.9 280.0,37.7 280.5,37.6 281.0,37.4 281.5,37.2 282.0,37.1 282.5,36.9 283.0,36.8 283.5,36.7 284.0,36.5 284.5,36.4 285.0,36.3 285.5,36.1 286.0,36.0 286.5,35.9 287.0,35.8 287.5,35.7 288.0,35.6 288.5,35.5 289.0,35.4 289.5,35.3 290.0,35.2 290.5,35.1 291.0,35.0 291.5,34.9 292.0,34.8 292.5,34.7 293.0,34.7 293.5,34.6 294.0,34.5 294.5,34.4 295.0,34.4 295.5,34.3 296.0,34.2 296.5,34.2 297.0,34.1 297.5,34.0 298.0,34.0 298.5,33.9 299.0,33.9 299.5,33.8 300.0,33.8 300.5,33.7 301.0,33.6 301.5,33.6 302.0,33.5 302.5,33.5 303.0,33.5 303.5,33.4 304.0,33.4 304.5,33.3 305.0,33.3 305.5,33.2 306.0,33.2 306.5,33.1 307.0,33.1 307.5,33.1 308.0,33.0 308.5,33.0 309.0,32.9 309.5,32.9 310.0,32.9 310.5,32.8 311.0,32.8 311.5,32.7 312.0,32.7" fill="none" stroke="#ffff00" stroke-width="1.4" stroke-linejoin="round"/>
<polyline points="28.0,33.6 28.5,33.7 29.0,33.8 29.5,33.8 30.0,33.9 30.5,33.9 31.0,34.0 31.5,34.1 32.0,34.1 32.5,34.2 33.0,34.3 33.5,34.3 34.0,34.4 34.5,34.5 35.0,34.5 35.5,34.6 36.0,34.6 36.5,34.7 37.0,34.8 37.5,34.8 38.0,34.9 38.5,35.0 39.0,35.0 39.5,35.1 40.0,35.2 40.5,35.3 41.0,35.3 41.5,35.4 42.0,35.5 42.5,35.5 43.0,35.6 43.5,35.7 44.0,35.8 44.5,35.8 45.0,35.9 45.5,36.0 46.0,36.1 46.5,36.1 47.0,36.2 47.5,36.3 48.0,36.4 48.5,36.4 49.0,36.5 49.5,36.6 50.0,36.7 50.5,36.8 51.0,36.9 51.5,36.9 52.0,37.0 52.5,37.1 53.0,37.2 53.5,37.3 54.0,37.4 54.5,37.5 55.0,37.6 55.5,37.7 56.0,37.7 56.5,37.8 57.0,37.9 57.5,38.0 58.0,38.1 58.5,38.2 59.0,38.3 59.5,38.4 60.0,38.5 60.5,38.6 61.0,38.7 61.5,38.8 62.0,38.9 62.5,39.0 63.0,39.1 63.5,39.2 64.0,39.3 64.5,39.4 65.0,39.5 65.5,39.6 66.0,39.7 66.5,39.8 67.0,39.9 67.5,40.1 68.0,40.2 68.5,40.3 69.0,40.4 69.5,40.5 70.0,40.6 70.5,40.7 71.0,40.9 71.5,41.0 72.0,41.1 72.5,41.2 73.0,41.3 73.5,41.5 74.0,41.6 74.5,41.7 75.0,41.8 75.5,42.0 76.0,42.1 76.5,42.2 77.0,42.4 77.5,42.5 78.0,42.6 78.5,42.7 79.0,42.9 79.5,43.0 80.0,43.2 80.5,43.3 81.0,43.4 81.5,43.6 82.0,43.7 82.5,43.8 83.0,44.0 83.5,44.1 84.0,44.3 84.5,44.4 85.0,44.6 85.5,44.7 86.0,44.8 86.5,45.0 87.0,45.1 87.5,45.3 88.0,45.4 88.5,45.6 89.0,45.7 89.5,45.9 90.0,46.0 90.5,46.2 91.0,46.3 91.5,46.5 92.0,46.6 92.5,46.8 93.0,46.9 93.5,47.1 94.0,47.2 94.5,47.4 95.0,47.6 95.5,47.7 96.0,47.9 96.5,48.0 97.0,48.2 97.5,48.4 98.0,48.5 98.5,48.7 99.0,48.9 99.5,49.0 100.0,49.2 100.5,49.4 101.0,49.5 101.5,49.7 102.0,49.9 102.5,50.0 103.0,50.2 103.5,50.4 104.0,50.6 104.5,50.7 105.0,50.9 105.5,51.1 106.0,51.3 106.5,51.5 107.0,51.7 107.5,51.9 108.0,52.1 108.5,52.2 109.0,52.4 109.5,52.6 110.0,52.8 110.5,53.0 111.0,53.2 111.5,53.5 112.0,53.7 112.5,53.9 113.0,54.1 113.5,54.3 114.0,54.5 114.5,54.8 115.0,55.0 115.5,55.2 116.0,55.4 116.5,55.7 117.0,55.9 117.5,56.2 118.0,56.4 118.5,56.6 119.0,56.9 119.5,57.1 120.0,57.4 120.5,57.7 121.0,57.9 121.5,58.2 122.0,58.5 122.5,58.7 123.0,59.0 123.5,59.3 124.0,59.6 124.5,59.8 125.0,60.1 125.5,60.4 126.0,60.7 126.5,61.0 127.0,61.3 127.5,61.6 128.0,61.9 128.5,62.2 129.0,62.5 129.5,62.8 130.0,63.1 130.5,63.4 131.0,63.7 131.5,64.0 132.0,64.3 132.5,64.7 133.0,65.0 133.5,65.3 134.0,65.6 134.5,65.9 135.0,66.2 135.5,66.6 136.0,66.9 136.5,67.2 137.0,67.5 137.5,67.9 138.0,68.2 138.5,68.5 139.0,68.9 139.5,69.2 140.0,69.5 140.5,69.9 141.0,70.2 141.5,70.5 142.0,70.9 142.5,71.2 143.0,71.6 143.5,71.9 144.0,72.2 144.5,72.6 145.0,73.0 145.5,73.3 146.0,73.7 146.5,74.0 147.0,74.4 147.5,74.7 148.0,75.1 148.5,75.5 149.0,75.9 149.5,76.2 150.0,76.6 150.5,77.0 151.0,77.4 151.5,77.8 152.0,78.2 152.5,78.6 153.0,79.0 153.5,79.4 154.0,79.8 154.5,80.2 155.0,80.6 155.5,81.1 156.0,81.5 156.5,81.9 157.0,82.4 157.5,82.8 158.0,83.3 158.5,83.7 159.0,84.2 159.5,84.6 160.0,85.1 160.5,85.6 161.0,86.0 161.5,86.5 162.0,87.0 162.5,87.5 163.0,88.0 163.5,88.5 164.0,89.0 164.5,89.4 165.0,89.9 165.5,90.5 166.0,91.0 166.5,91.5 167.0,92.0 167.5,92.5 168.0,93.0 168.5,93.5 169.0,94.0 169.5,94.6 170.0,95.1 170.5,95.6 171.0,96.1 171.5,96.7 172.0,97.2 172.5,97.7 173.0,98.3 173.5,98.8 174.0,99.3 174.5,99.8 175.0,100.4 175.5,100.9 176.0,101.4 176.5,101.9 177.0,102.4 177.5,103.0 178.0,103.5 178.5,104.0 179.0,104.5 179.5,105.0 180.0,105.5 180.5,106.0 181.0,106.5 181.5,107.0 182.0,107.4 182.5,107.9 183.0,108.4 183.5,108.9 184.0,109.3 184.5,109.8 185.0,110.2 185.5,110.7 186.0,111.1 186.5,111.5 187.0,112.0 187.5,112.4 188.0,112.8 188.5,113.2 189.0,113.6 189.5,114.0 190.0,114.4 190.5,114.7 191.0,115.1 191.5,115.5 192.0,115.8 192.5,116.2 193.0,116.6 193.5,116.9 194.0,117.2 194.5,117.6 195.0,117.9 195.5,118.2 196.0,118.5 196.5,118.8 197.0,119.1 197.5,119.4 198.0,119.6 198.5,119.9 199.0,120.1 199.5,120.3 200.0,120.6 200.5,120.8 201.0,121.0 201.5,121.1 202.0,121.3 202.5,121.4 203.0,121.6 203.5,121.7 204.0,121.7 204.5,121.8 205.0,121.8 205.5,121.8 206.0,121.8 206.5,121.7 207.0,121.6 207.5,121.4 208.0,121.2 208.5,121.0 209.0,120.7 209.5,120.4 210.0,120.1 210.5,119.7 211.0,119.3 211.5,118.9 212.0,118.4 212.5,117.9 213.0,117.4 213.5,116.8 214.0,116.3 214.5,115.7 215.0,115.1 215.5,114.5 216.0,113.9 216.5,113.2 217.0,112.6 217.5,111.9 218.0,111.2 218.5,110.6 219.0,109.8 219.5,109.1 220.0,108.4 220.5,107.7 221.0,106.9 221.5,106.2 222.0,105.4 222.5,104.6 223.0,103.8 223.5,103.1 224.0,102.3 224.5,101.5 225.0,100.7 225.5,99.9 226.0,99.1 226.5,98.2 227.0,97.4 227.5,96.6 228.0,95.8 228.5,94.9 229.0,94.1 229.5,93.3 230.0,92.4 230.5,91.6 231.0,90.8 231.5,89.9 232.0,89.1 232.5,88.3 233.0,87.4 233.5,86.6 234.0,85.7 234.5,84.9 235.0,84.1 235.5,83.2 236.0,82.4 236.5,81.6 237.0,80.7 237.5,79.9 238.0,79.1 238.5,78.3 239.0,77.5 239.5,76.6 240.0,75.8 240.5,75.0 241.0,74.2 241.5,73.4 242.0,72.6 242.5,71.8 243.0,71.0 243.5,70.2 244.0,69.5 244.5,68.7 245.0,67.9 245.5,67.2 246.0,66.4 246.5,65.7 247.0,64.9 247.5,64.2 248.0,63.5 248.5,62.8 249.0,62.1 249.5,61.4 250.0,60.7 250.5,60.0 251.0,59.3 251.5,58.7 252.0,58.0 252.5,57.4 253.0,56.7 253.5,56.1 254.0,55.5 254.5,54.9 255.0,54.3 255.5,53.7 256.0,53.2 256.5,52.6 257.0,52.1 257.5,51.5 258.0,51.0 258.5,50.5 259.0,50.0 259.5,49.5 260.0,49.0 260.5,48.6 261.0,48.1 261.5,47.7 262.0,47.2 262.5,46.8 263.0,46.4 263.5,46.0 264.0,45.6 264.5,45.2 265.0,44.9 265.5,44.5 266.0,44.1 266.5,43.8 267.0,43.5 267.5,43.1 268.0,42.8 268.5,42.5 269.0,42.2 269.5,41.9 270.0,41.6 270.5,41.4 271.0,41.1 271.5,40.8 272.0,40.6 272.5,40.3 273.0,40.1 273.5,39.9 274.0,39.6 274.5,39.4 275.0,39.2 275.5,39.0 276.0,38.8 276.5,38.6 277.0,38.4 277.5,38.2 278.0,38.0 278.5,37.9 279.0,37.7 279.5,37.5 280.0,37.4 280.5,37.2 281.0,37.1 281.5,36.9 282.0,36.8 282.5,36.7 283.0,36.5 283.5,36.4 284.0,36.3 284.5,36.1 285.0,36.0 285.5,35.9 286.0,35.8 286.5,35.7 287.0,35.6 287.5,35.5 288.0,35.4 288.5,35.3 289.0,35.2 289.5,35.1 290.0,35.0 290.5,34.9 291.0,34.9 291.5,34.8 292.0,34.7 292.5,34.6 293.0,34.5 293.5,34.5 294.0,34.4 294.5,34.3 295.0,34.3 295.5,34.2 296.0,34.1 296.5,34.1 297.0,34.0 297.5,34.0 298.0,33.9 298.5,33.8 299.0,33.8 299.5,33.7 300.0,33.7 300.5,33.6 301.0,33.6 301.5,33.5 302.0,33.5 302.5,33.5 303.0,33.4 303.5,33.4 304.0,33.3 304.5,33.3 305.0,33.2 305.5,33.2 306.0,33.2 306.5,33.1 307.0,33.1 307.5,33.0 308.0,33.0 308.5,33.0 309.0,32.9 309.5,32.9 310.0,32.8 310.5,32.8 311.0,32.8 311.5,32.7 312.0,32.7" fill="none" stroke="#00ff00" stroke-width="1.4" stroke-linejoin="round"/>
<polyline points="28.0,33.6 28.5,33.7 29.0,33.8 29.5,33.8 30.0,33.9 30.5,33.9 31.0,34.0 31.5,34.1 32.0,34.1 32.5,34.2 33.0,34.3 33.5,34.3 34.0,34.4 34.5,34.5 35.0,34.5 35.5,34.6 36.0,34.6 36.5,34.7 37.0,34.8 37.5,34.8 38.0,34.9 38.5,35.0 39.0,35.0 39.5,35.1 40.0,35.2 40.5,35.3 41.0,35.3 41.5,35.4 42.0,35.5 42.5,35.5 43.0,35.6 43.5,35.7 44.0,35.8 44.5,35.8 45.0,35.9 45.5,36.0 46.0,36.1 46.5,36.1 47.0,36.2 47.5,36.3 48.0,36.4 48.5,36.4 49.0,36.5 49.5,36.6 50.0,36.7 50.5,36.8 51.0,36.9 51.5,36.9 52.0,37.0 52.5,37.1 53.0,37.2 53.5,37.3 54.0,37.4 54.5,37.5 55.0,37.6 55.5,37.7 56.0,37.7 56.5,37.8 57.0,37.9 57.5,38.0 58.0,38.1 58.5,38.2 59.0,38.3 59.5,38.4 60.0,38.5 60.5,38.6 61.0,38.7 61.5,38.8 62.0,38.9 62.5,39.0 63.0,39.1 63.5,39.2 64.0,39.3 64.5,39.4 65.0,39.5 65.5,39.6 66.0,39.7 66.5,39.8 67.0,39.9 67.5,40.1 68.0,40.2 68.5,40.3 69.0,40.4 69.5,40.5 70.0,40.6 70.5,40.7 71.0,40.9 71.5,41.0 72.0,41.1 72.5,41.2 73.0,41.3 73.5,41.5 74.0,41.6 74.5,41.7 75.0,41.8 75.5,42.0 76.0,42.1 76.5,42.2 77.0,42.4 77.5,42.5 78.0,42.6 78.5,42.7 79.0,42.9 79.5,43.0 80.0,43.2 80.5,43.3 81.0,43.4 81.5,43.6 82.0,43.7 82.5,43.8 83.0,44.0 83.5,44.1 84.0,44.3 84.5,44.4 85.0,44.6 85.5,44.7 86.0,44.8 86.5,45.0 87.0,45.1 87.5,45.3 88.0,45.4 88.5,45.6 89.0,45.7 89.5,45.9 90.0,46.0 90.5,46.2 91.0,46.3 91.5,46.5 92.0,46.6 92.5,46.8 93.0,46.9 93.5,47.1 94.0,47.2 94.5,47.4 95.0,47.6 95.5,47.7 96.0,47.9 96.5,48.0 97.0,48.2 97.5,48.4 98.0,48.5 98.5,48.7 99.0,48.9 99.5,49.0 100.0,49.2 100.5,49.4 101.0,49.5 101.5,49.7 102.0,49.9 102.5,50.0 103.0,50.2 103.5,50.4 104.0,50.6 104.5,50.7 105.0,50.9 105.5,51.1 106.0,51.3 106.5,51.5 107.0,51.7 107.5,51.9 108.0,52.1 108.5,52.2 109.0,52.4 109.5,52.6 110.0,52.8 110.5,53.0 111.0,53.2 111.5,53.5 112.0,53.7 112.5,53.9 113.0,54.1 113.5,54.3 114.0,54.5 114.5,54.8 115.0,55.0 115.5,55.2 116.0,55.4 116.5,55.7 117.0,55.9 117.5,56.2 118.0,56.4 118.5,56.6 119.0,56.9 119.5,57.1 120.0,57.4 120.5,57.7 121.0,57.9 121.5,58.2 122.0,58.5 122.5,58.7 123.0,59.0 123.5,59.3 124.0,59.6 124.5,59.8 125.0,60.1 125.5,60.4 126.0,60.7 126.5,61.0 127.0,61.3 127.5,61.6 128.0,61.9 128.5,62.2 129.0,62.5 129.5,62.8 130.0,63.1 130.5,63.4 131.0,63.7 131.5,64.0 132.0,64.3 132.5,64.7 133.0,65.0 133.5,65.3 134.0,65.6 134.5,65.9 135.0,66.2 135.5,66.6 136.0,66.9 136.5,67.2 137.0,67.5 137.5,67.9 138.0,68.2 138.5,68.5 139.0,68.9 139.5,69.2 140.0,69.5 140.5,69.9 141.0,70.2 141.5,70.5 142.0,70.9 142.5,71.2 143.0,71.6 143.5,71.9 144.0,72.2 144.5,72.6 145.0,73.0 145.5,73.3 146.0,73.7 146.5,74.0 147.0,74.4 147.5,74.7 148.0,75.1 148.5,75.5 149.0,75.9 149.5,76.2 150.0,76.6 150.5,77.0 151.0,77.4 151.5,77.8 152.0,78.2 152.5,78.6 153.0,79.0 153.5,79.4 154.0,79.8 154.5,80.2 155.0,80.6 155.5,81.1 156.0,81.5 156.5,81.9 157.0,82.4 157.5,82.8 158.0,83.3 158.5,83.7 159.0,84.2 159.5,84.6 160.0,85.1 160.5,85.6 161.0,86.0 161.5,86.5 162.0,87.0 162.5,87.5 163.0,88.0 163.5,88.5 164.0,89.0 164.5,89.4 165.0,89.9 165.5,90.5 166.0,91.0 166.5,91.5 167.0,92.0 167.5,92.5 168.0,93.0 168.5,93.5 169.0,94.0 169.5,94.6 170.0,95.1 170.5,95.6 171.0,96.1 171.5,96.7 172.0,97.2 172.5,97.7 173.0,98.3 173.5,98.8 174.0,99.3 174.5,99.8 175.0,100.4 175.5,100.9 176.0,101.4 176.5,101.9 177.0,102.4 177.5,103.0 178.0,103.5 178.5,104.0 179.0,104.5 179.5,105.0 180.0,105.5 180.5,106.0 181.0,106.5 181.5,107.0 182.0,107.4 182.5,107.9 183.0,108.4 183.5,108.9 184.0,109.3 184.5,109.8 185.0,110.2 185.5,110.7 186.0,111.1 186.5,111.5 187.0,112.0 187.5,112.4 188.0,112.8 188.5,113.2 189.0,113.6 189.5,114.0 190.0,114.4 190.5,114.7 191.0,115.1 191.5,115.5 192.0,115.8 192.5,116.2 193.0,116.5 193.5,116.9 194.0,117.2 194.5,117.5 195.0,117.9 195.5,118.2 196.0,118.5 196.5,118.8 197.0,119.0 197.5,119.3 198.0,119.6 198.5,119.8 199.0,120.1 199.5,120.3 200.0,120.5 200.5,120.7 201.0,120.9 201.5,121.1 202.0,121.2 202.5,121.4 203.0,121.5 203.5,121.6 204.0,121.7 204.5,121.7 205.0,121.8 205.5,121.8 206.0,121.8 206.5,121.8 207.0,121.7 207.5,121.7 208.0,121.6 208.5,121.4 209.0,121.3 209.5,121.1 210.0,120.9 210.5,120.6 211.0,120.4 211.5,120.1 212.0,119.8 212.5,119.4 213.0,119.1 213.5,118.7 214.0,118.2 214.5,117.8 215.0,117.3 215.5,116.8 216.0,116.3 216.5,115.8 217.0,115.2 217.5,114.7 218.0,114.1 218.5,113.5 219.0,112.8 219.5,112.2 220.0,111.5 220.5,110.8 221.0,110.2 221.5,109.5 222.0,108.7 222.5,108.0 223.0,107.3 223.5,106.5 224.0,105.8 224.5,105.0 225.0,104.2 225.5,103.4 226.0,102.6 226.5,101.8 227.0,101.0 227.5,100.2 228.0,99.4 228.5,98.6 229.0,97.8 229.5,96.9 230.0,96.1 230.5,95.3 231.0,94.4 231.5,93.6 232.0,92.7 232.5,91.9 233.0,91.0 233.5,90.2 234.0,89.4 234.5,88.5 235.0,87.7 235.5,86.8 236.0,86.0 236.5,85.1 237.0,84.3 237.5,83.4 238.0,82.6 238.5,81.7 239.0,80.9 239.5,80.1 240.0,79.2 240.5,78.4 241.0,77.6 241.5,76.7 242.0,75.9 242.5,75.1 243.0,74.3 243.5,73.5 244.0,72.7 244.5,71.8 245.0,71.0 245.5,70.3 246.0,69.5 246.5,68.7 247.0,67.9 247.5,67.1 248.0,66.4 248.5,65.6 249.0,64.9 249.5,64.1 250.0,63.4 250.5,62.7 251.0,61.9 251.5,61.2 252.0,60.5 252.5,59.9 253.0,59.2 253.5,58.5 254.0,57.9 254.5,57.2 255.0,56.6 255.5,55.9 256.0,55.3 256.5,54.7 257.0,54.1 257.5,53.5 258.0,53.0 258.5,52.4 259.0,51.9 259.5,51.3 260.0,50.8 260.5,50.3 261.0,49.8 261.5,49.3 262.0,48.8 262.5,48.3 263.0,47.9 263.5,47.4 264.0,47.0 264.5,46.6 265.0,46.2 265.5,45.8 266.0,45.4 266.5,45.0 267.0,44.6 267.5,44.2 268.0,43.9 268.5,43.5 269.0,43.2 269.5,42.9 270.0,42.6 270.5,42.3 271.0,42.0 271.5,41.7 272.0,41.4 272.5,41.1 273.0,40.8 273.5,40.6 274.0,40.3 274.5,40.1 275.0,39.8 275.5,39.6 276.0,39.4 276.5,39.2 277.0,39.0 277.5,38.8 278.0,38.6 278.5,38.4 279.0,38.2 279.5,38.0 280.0,37.8 280.5,37.7 281.0,37.5 281.5,37.3 282.0,37.2 282.5,37.0 283.0,36.9 283.5,36.7 284.0,36.6 284.5,36.5 285.0,36.3 285.5,36.2 286.0,36.1 286.5,36.0 287.0,35.8 287.5,35.7 288.0,35.6 288.5,35.5 289.0,35.4 289.5,35.3 290.0,35.2 290.5,35.1 291.0,35.0 291.5,34.9 292.0,34.9 292.5,34.8 293.0,34.7 293.5,34.6 294.0,34.5 294.5,34.5 295.0,34.4 295.5,34.3 296.0,34.3 296.5,34.2 297.0,34.1 297.5,34.1 298.0,34.0 298.5,33.9 299.0,33.9 299.5,33.8 300.0,33.8 300.5,33.7 301.0,33.7 301.5,33.6 302.0,33.6 302.5,33.5 303.0,33.5 303.5,33.4 304.0,33.4 304.5,33.3 305.0,33.3 305.5,33.2 306.0,33.2 306.5,33.2 307.0,33.1 307.5,33.1 308.0,33.0 308.5,33.0 309.0,32.9 309.5,32.9 310.0,32.9 310.5,32.8 311.0,32.8 311.5,32.8 312.0,32.7" fill="none" stroke="#ff0000" stroke-width="1.4" stroke-linejoin="round"/>
<polyline points="28.0,33.6 28.5,33.7 29.0,33.8 29.5,33.8 30.0,33.9 30.5,33.9 31.0,34.0 31.5,34.1 32.0,34.1 32.5,34.2 33.0,34.3 33.5,34.3 34.0,34.4 34.5,34.5 35.0,34.5 35.5,34.6 36.0,34.6 36.5,34.7 37.0,34.8 37.5,34.8 38.0,34.9 38.5,35.0 39.0,35.0 39.5,35.1 40.0,35.2 40.5,35.3 41.0,35.3 41.5,35.4 42.0,35.5 42.5,35.5 43.0,35.6 43.5,35.7 44.0,35.8 44.5,35.8 45.0,35.9 45.5,36.0 46.0,36.1 46.5,36.1 47.0,36.2 47.5,36.3 48.0,36.4 48.5,36.4 49.0,36.5 49.5,36.6 50.0,36.7 50.5,36.8 51.0,36.9 51.5,36.9 52.0,37.0 52.5,37.1 53.0,37.2 53.5,37.3 54.0,37.4 54.5,37.5 55.0,37.6 55.5,37.7 56.0,37.7 56.5,37.8 57.0,37.9 57.5,38.0 58.0,38.1 58.5,38.2 59.0,38.3 59.5,38.4 60.0,38.5 60.5,38.6 61.0,38.7 61.5,38.8 62.0,38.9 62.5,39.0 63.0,39.1 63.5,39.2 64.0,39.3 64.5,39.4 65.0,39.5 65.5,39.6 66.0,39.7 66.5,39.8 67.0,39.9 67.5,40.1 68.0,40.2 68.5,40.3 69.0,40.4 69.5,40.5 70.0,40.6 70.5,40.7 71.0,40.9 71.5,41.0 72.0,41.1 72.5,41.2 73.0,41.3 73.5,41.5 74.0,41.6 74.5,41.7 75.0,41.8 75.5,42.0 76.0,42.1 76.5,42.2 77.0,42.4 77.5,42.5 78.0,42.6 78.5,42.7 79.0,42.9 79.5,43.0 80.0,43.2 80.5,43.3 81.0,43.4 81.5,43.6 82.0,43.7 82.5,43.8 83.0,44.0 83.5,44.1 84.0,44.3 84.5,44.4 85.0,44.6 85.5,44.7 86.0,44.8 86.5,45.0 87.0,45.1 87.5,45.3 88.0,45.4 88.5,45.6 89.0,45.7 89.5,45.9 90.0,46.0 90.5,46.2 91.0,46.3 91.5,46.5 92.0,46.6 92.5,46.8 93.0,46.9 93.5,47.1 94.0,47.2 94.5,47.4 95.0,47.6 95.5,47.7 96.0,47.9 96.5,48.0 97.0,48.2 97.5,48.4 98.0,48.5 98.5,48.7 99.0,48.9 99.5,49.0 100.0,49.2 100.5,49.4 101.0,49.5 101.5,49.7 102.0,49.9 102.5,50.0 103.0,50.2 103.5,50.4 104.0,50.6 104.5,50.7 105.0,50.9 105.5,51.1 106.0,51.3 106.5,51.5 107.0,51.7 107.5,51.9 108.0,52.1 108.5,52.2 109.0,52.4 109.5,52.6 110.0,52.8 110.5,53.0 111.0,53.2 111.5,53.5 112.0,53.7 112.5,53.9 113.0,54.1 113.5,54.3 114.0,54.5 114.5,54.8 115.0,55.0 115.5,55.2 116.0,55.4 116.5,55.7 117.0,55.9 117.5,56.2 118.0,56.4 118.5,56.6 119.0,56.9 119.5,57.1 120.0,57.4 120.5,57.7 121.0,57.9 121.5,58.2 122.0,58.5 122.5,58.7 123.0,59.0 123.5,59.3 124.0,59.6 124.5,59.8 125.0,60.1 125.5,60.4 126.0,60.7 126.5,61.0 127.0,61.3 127.5,61.6 128.0,61.9 128.5,62.2 129.0,62.5 129.5,62.8 130.0,63.1 130.5,63.4 131.0,63.7 131.5,64.0 132.0,64.3 132.5,64.7 133.0,65.0 133.5,65.3 134.0,65.6 134.5,65.9 135.0,66.2 135.5,66.6 136.0,66.9 136.5,67.2 137.0,67.5 137.5,67.9 138.0,68.2 138.5,68.5 139.0,68.9 139.5,69.2 140.0,69.5 140.5,69.9 141.0,70.2 141.5,70.5 142.0,70.9 142.5,71.2 143.0,71.6 143.5,71.9 144.0,72.2 144.5,72.6 145.0,73.0 145.5,73.3 146.0,73.7 146.5,74.0 147.0,74.4 147.5,74.7 148.0,75.1 148.5,75.5 149.0,75.9 149.5,76.2 150.0,76.6 150.5,77.0 151.0,77.4 151.5,77.8 152.0,78.2 152.5,78.6 153.0,79.0 153.5,79.4 154.0,79.8 154.5,80.2 155.0,80.6 155.5,81.1 156.0,81.5 156.5,81.9 157.0,82.4 157.5,82.8 158.0,83.3 158.5,83.7 159.0,84.2 159.5,84.6 160.0,85.1 160.5,85.6 161.0,86.0 161.5,86.5 162.0,87.0 162.5,87.5 163.0,88.0 163.5,88.5 164.0,89.0 164.5,89.4 165.0,89.9 165.5,90.5 166.0,91.0 166.5,91.5 167.0,92.0 167.5,92.5 168.0,93.0 168.5,93.5 169.0,94.0 169.5,94.6 170.0,95.1 170.5,95.6 171.0,96.1 171.5,96.7 172.0,97.2 172.5,97.7 173.0,98.3 173.5,98.8 174.0,99.3 174.5,99.8 175.0,100.4 175.5,100.9 176.0,101.4 176.5,101.9 177.0,102.4 177.5,103.0 178.0,103.5 178.5,104.0 179.0,104.5 179.5,105.0 180.0,105.5 180.5,106.0 181.0,106.5 181.5,107.0 182.0,107.4 182.5,107.9 183.0,108.4 183.5,108.9 184.0,109.3 184.5,109.8 185.0,110.2 185.5,110.7 186.0,111.1 186.5,111.5 187.0,112.0 187.5,112.4 188.0,112.8 188.5,113.2 189.0,113.6 189.5,114.0 190.0,114.4 190.5,114.7 191.0,115.1 191.5,115.5 192.0,115.8 192.5,116.2 193.0,116.5 193.5,116.9 194.0,117.2 194.5,117.6 195.0,117.9 195.5,118.2 196.0,118.5 196.5,118.8 197.0,119.1 197.5,119.3 198.0,119.6 198.5,119.8 199.0,120.1 199.5,120.3 200.0,120.5 200.5,120.7 201.0,120.9 201.5,121.1 202.0,121.3 202.5,121.4 203.0,121.5 203.5,121.6 204.0,121.7 204.5,121.8 205.0,121.8 205.5,121.8 206.0,121.8 206.5,121.7 207.0,121.7 207.5,121.5 208.0,121.4 208.5,121.2 209.0,121.0 209.5,120.8 210.0,120.5 210.5,120.2 211.0,119.9 211.5,119.5 212.0,119.1 212.5,118.7 213.0,118.2 213.5,117.8 214.0,117.3 214.5,116.8 215.0,116.2 215.5,115.7 216.0,115.1 216.5,114.5 217.0,113.9 217.5,113.3 218.0,112.6 218.5,112.0 219.0,111.3 219.5,110.6 220.0,109.9 220.5,109.2 221.0,108.5 221.5,107.8 222.0,107.0 222.5,106.3 223.0,105.5 223.5,104.7 224.0,104.0 224.5,103.2 225.0,102.4 225.5,101.6 226.0,100.8 226.5,100.0 227.0,99.2 227.5,98.3 228.0,97.5 228.5,96.7 229.0,95.9 229.5,95.0 230.0,94.2 230.5,93.4 231.0,92.5 231.5,91.7 232.0,90.8 232.5,90.0 233.0,89.2 233.5,88.3 234.0,87.5 234.5,86.6 235.0,85.8 235.5,84.9 236.0,84.1 236.5,83.3 237.0,82.4 237.5,81.6 238.0,80.8 238.5,79.9 239.0,79.1 239.5,78.3 240.0,77.5 240.5,76.6 241.0,75.8 241.5,75.0 242.0,74.2 242.5,73.4 243.0,72.6 243.5,71.8 244.0,71.0 244.5,70.2 245.0,69.4 245.5,68.6 246.0,67.9 246.5,67.1 247.0,66.3 247.5,65.6 248.0,64.8 248.5,64.1 249.0,63.4 249.5,62.7 250.0,62.0 250.5,61.3 251.0,60.6 251.5,59.9 252.0,59.2 252.5,58.5 253.0,57.9 253.5,57.2 254.0,56.6 254.5,56.0 255.0,55.4 255.5,54.8 256.0,54.2 256.5,53.6 257.0,53.0 257.5,52.5 258.0,51.9 258.5,51.4 259.0,50.9 259.5,50.4 260.0,49.9 260.5,49.4 261.0,48.9 261.5,48.4 262.0,48.0 262.5,47.5 263.0,47.1 263.5,46.7 264.0,46.3 264.5,45.9 265.0,45.5 265.5,45.1 266.0,44.7 266.5,44.3 267.0,44.0 267.5,43.6 268.0,43.3 268.5,43.0 269.0,42.7 269.5,42.4 270.0,42.1 270.5,41.8 271.0,41.5 271.5,41.2 272.0,40.9 272.5,40.7 273.0,40.4 273.5,40.2 274.0,40.0 274.5,39.7 275.0,39.5 275.5,39.3 276.0,39.1 276.5,38.9 277.0,38.7 277.5,38.5 278.0,38.3 278.5,38.1 279.0,37.9 279.5,37.8 280.0,37.6 280.5,37.4 281.0,37.3 281.5,37.1 282.0,37.0 282.5,36.8 283.0,36.7 283.5,36.6 284.0,36.4 284.5,36.3 285.0,36.2 285.5,36.0 286.0,35.9 286.5,35.8 287.0,35.7 287.5,35.6 288.0,35.5 288.5,35.4 289.0,35.3 289.5,35.2 290.0,35.1 290.5,35.0 291.0,34.9 291.5,34.9 292.0,34.8 292.5,34.7 293.0,34.6 293.5,34.5 294.0,34.5 294.5,34.4 295.0,34.3 295.5,34.3 296.0,34.2 296.5,34.1 297.0,34.1 297.5,34.0 298.0,33.9 298.5,33.9 299.0,33.8 299.5,33.8 300.0,33.7 300.5,33.7 301.0,33.6 301.5,33.6 302.0,33.5 302.5,33.5 303.0,33.4 303.5,33.4 304.0,33.3 304.5,33.3 305.0,33.3 305.5,33.2 306.0,33.2 306.5,33.1 307.0,33.1 307.5,33.1 308.0,33.0 308.5,33.0 309.0,32.9 309.5,32.9 310.0,32.9 310.5,32.8 311.0,32.8 311.5,32.7 312.0,32.7" fill="none" stroke="#00ffff" stroke-width="1.4" stroke-linejoin="round"/>
<polyline points="28.0,33.6 28.5,33.7 29.0,33.8 29.5,33.8 30.0,33.9 30.5,33.9 31.0,34.0 31.5,34.1 32.0,34.1 32.5,34.2 33.0,34.3 33.5,34.3 34.0,34.4 34.5,34.5 35.0,34.5 35.5,34.6 36.0,34.6 36.5,34.7 37.0,34.8 37.5,34.8 38.0,34.9 38.5,35.0 39.0,35.0 39.5,35.1 40.0,35.2 40.5,35.3 41.0,35.3 41.5,35.4 42.0,35.5 42.5,35.5 43.0,35.6 43.5,35.7 44.0,35.8 44.5,35.8 45.0,35.9 45.5,36.0 46.0,36.1 46.5,36.1 47.0,36.2 47.5,36.3 48.0,36.4 48.5,36.4 49.0,36.5 49.5,36.6 50.0,36.7 50.5,36.8 51.0,36.9 51.5,36.9 52.0,37.0 52.5,37.1 53.0,37.2 53.5,37.3 54.0,37.4 54.5,37.5 55.0,37.6 55.5,37.7 56.0,37.7 56.5,37.8 57.0,37.9 57.5,38.0 58.0,38.1 58.5,38.2 59.0,38.3 59.5,38.4 60.0,38.5 60.5,38.6 61.0,38.7 61.5,38.8 62.0,38.9 62.5,39.0 63.0,39.1 63.5,39.2 64.0,39.3 64.5,39.4 65.0,39.5 65.5,39.6 66.0,39.7 66.5,39.8 67.0,39.9 67.5,40.1 68.0,40.2 68.5,40.3 69.0,40.4 69.5,40.5 70.0,40.6 70.5,40.7 71.0,40.9 71.5,41.0 72.0,41.1 72.5,41.2 73.0,41.3 73.5,41.5 74.0,41.6 74.5,41.7 75.0,41.8 75.5,42.0 76.0,42.1 76.5,42.2 77.0,42.4 77.5,42.5 78.0,42.6 78.5,42.7 79.0,42.9 79.5,43.0 80.0,43.2 80.5,43.3 81.0,43.4 81.5,43.6 82.0,43.7 82.5,43.8 83.0,44.0 83.5,44.1 84.0,44.3 84.5,44.4 85.0,44.6 85.5,44.7 86.0,44.8 86.5,45.0 87.0,45.1 87.5,45.3 88.0,45.4 88.5,45.6 89.0,45.7 89.5,45.9 90.0,46.0 90.5,46.2 91.0,46.3 91.5,46.5 92.0,46.6 92.5,46.8 93.0,46.9 93.5,47.1 94.0,47.2 94.5,47.4 95.0,47.6 95.5,47.7 96.0,47.9 96.5,48.0 97.0,48.2 97.5,48.4 98.0,48.5 98.5,48.7 99.0,48.9 99.5,49.0 100.0,49.2 100.5,49.4 101.0,49.5 101.5,49.7 102.0,49.9 102.5,50.0 103.0,50.2 103.5,50.4 104.0,50.6 104.5,50.7 105.0,50.9 105.5,51.1 106.0,51.3 106.5,51.5 107.0,51.7 107.5,51.9 108.0,52.1 108.5,52.2 109.0,52.4 109.5,52.6 110.0,52.8 110.5,53.0 111.0,53.2 111.5,53.5 112.0,53.7 112.5,53.9 113.0,54.1 113.5,54.3 114.0,54.5 114.5,54.8 115.0,55.0 115.5,55.2 116.0,55.4 116.5,55.7 117.0,55.9 117.5,56.2 118.0,56.4 118.5,56.6 119.0,56.9 119.5,57.1 120.0,57.4 120.5,57.7 121.0,57.9 121.5,58.2 122.0,58.5 122.5,58.7 123.0,59.0 123.5,59.3 124.0,59.6 124.5,59.8 125.0,60.1 125.5,60.4 126.0,60.7 126.5,61.0 127.0,61.3 127.5,61.6 128.0,61.9 128.5,62.2 129.0,62.5 129.5,62.8 130.0,63.1 130.5,63.4 131.0,63.7 131.5,64.0 132.0,64.3 132.5,64.7 133.0,65.0 133.5,65.3 134.0,65.6 134.5,65.9 135.0,66.2 135.5,66.6 136.0,66.9 136.5,67.2 137.0,67.5 137.5,67.9 138.0,68.2 138.5,68.5 139.0,68.9 139.5,69.2 140.0,69.5 140.5,69.9 141.0,70.2 141.5,70.5 142.0,70.9 142.5,71.2 143.0,71.6 143.5,71.9 144.0,72.2 144.5,72.6 145.0,73.0 145.5,73.3 146.0,73.7 146.5,74.0 147.0,74.4 147.5,74.7 148.0,75.1 148.5,75.5 149.0,75.9 149.5,76.2 150.0,76.6 150.5,77.0 151.0,77.4 151.5,77.8 152.0,78.2 152.5,78.6 153.0,79.0 153.5,79.4 154.0,79.8 154.5,80.2 155.0,80.6 155.5,81.1 156.0,81.5 156.5,81.9 157.0,82.4 157.5,82.8 158.0,83.3 158.5,83.7 159.0,84.2 159.5,84.6 160.0,85.1 160.5,85.6 161.0,86.0 161.5,86.5 162.0,87.0 162.5,87.5 163.0,88.0 163.5,88.5 164.0,89.0 164.5,89.4 165.0,89.9 165.5,90.5 166.0,91.0 166.5,91.5 167.0,92.0 167.5,92.5 168.0,93.0 168.5,93.5 169.0,94.0 169.5,94.6 170.0,95.1 170.5,95.6 171.0,96.1 171.5,96.7 172.0,97.2 172.5,97.7 173.0,98.3 173.5,98.8 174.0,99.3 174.5,99.8 175.0,100.4 175.5,100.9 176.0,101.4 176.5,101.9 177.0,102.4 177.5,103.0 178.0,103.5 178.5,104.0 179.0,104.5 179.5,105.0 180.0,105.5 180.5,106.0 181.0,106.5 181.5,107.0 182.0,107.4 182.5,107.9 183.0,108.4 183.5,108.9 184.0,109.3 184.5,109.8 185.0,110.2 185.5,110.7 186.0,111.1 186.5,111.5 187.0,112.0 187.5,112.4 188.0,112.8 188.5,113.2 189.0,113.6 189.5,114.0 190.0,114.4 190.5,114.7 191.0,115.1 191.5,115.5 192.0,115.8 192.5,116.2 193.0,116.5 193.5,116.9 194.0,117.2 194.5,117.5 195.0,117.9 195.5,118.2 196.0,118.5 196.5,118.8 197.0,119.0 197.5,119.3 198.0,119.6 198.5,119.8 199.0,120.1 199.5,120.3 200.0,120.5 200.5,120.7 201.0,120.9 201.5,121.0 202.0,121.2 202.5,121.3 203.0,121.5 203.5,121.6 204.0,121.7 204.5,121.7 205.0,121.8 205.5,121.8 206.0,121.8 206.5,121.8 207.0,121.8 207.5,121.7 208.0,121.6 208.5,121.5 209.0,121.4 209.5,121.2 210.0,121.0 210.5,120.8 211.0,120.6 211.5,120.3 212.0,120.0 212.5,119.7 213.0,119.3 213.5,119.0 214.0,118.6 214.5,118.2 215.0,117.7 215.5,117.2 216.0,116.8 216.5,116.2 217.0,115.7 217.5,115.2 218.0,114.6 218.5,114.0 219.0,113.4 219.5,112.8 220.0,112.1 220.5,111.5 221.0,110.8 221.5,110.1 222.0,109.4 222.5,108.7 223.0,107.9 223.5,107.2 224.0,106.4 224.5,105.7 225.0,104.9 225.5,104.1 226.0,103.3 226.5,102.5 227.0,101.7 227.5,100.9 228.0,100.1 228.5,99.3 229.0,98.5 229.5,97.7 230.0,96.8 230.5,96.0 231.0,95.1 231.5,94.3 232.0,93.5 232.5,92.6 233.0,91.8 233.5,90.9 234.0,90.1 234.5,89.2 235.0,88.4 235.5,87.5 236.0,86.7 236.5,85.8 237.0,85.0 237.5,84.1 238.0,83.3 238.5,82.4 239.0,81.6 239.5,80.8 240.0,79.9 240.5,79.1 241.0,78.2 241.5,77.4 242.0,76.6 242.5,75.8 243.0,74.9 243.5,74.1 244.0,73.3 244.5,72.5 245.0,71.7 245.5,70.9 246.0,70.1 246.5,69.3 247.0,68.5 247.5,67.7 248.0,67.0 248.5,66.2 249.0,65.4 249.5,64.7 250.0,63.9 250.5,63.2 251.0,62.5 251.5,61.8 252.0,61.1 252.5,60.4 253.0,59.7 253.5,59.0 254.0,58.3 254.5,57.7 255.0,57.0 255.5,56.4 256.0,55.8 256.5,55.2 257.0,54.6 257.5,54.0 258.0,53.4 258.5,52.8 259.0,52.2 259.5,51.7 260.0,51.2 260.5,50.6 261.0,50.1 261.5,49.6 262.0,49.1 262.5,48.7 263.0,48.2 263.5,47.7 264.0,47.3 264.5,46.9 265.0,46.4 265.5,46.0 266.0,45.6 266.5,45.2 267.0,44.8 267.5,44.5 268.0,44.1 268.5,43.8 269.0,43.4 269.5,43.1 270.0,42.8 270.5,42.4 271.0,42.1 271.5,41.8 272.0,41.5 272.5,41.3 273.0,41.0 273.5,40.7 274.0,40.5 274.5,40.2 275.0,40.0 275.5,39.7 276.0,39.5 276.5,39.3 277.0,39.1 277.5,38.9 278.0,38.7 278.5,38.5 279.0,38.3 279.5,38.1 280.0,37.9 280.5,37.7 281.0,37.6 281.5,37.4 282.0,37.3 282.5,37.1 283.0,36.9 283.5,36.8 284.0,36.7 284.5,36.5 285.0,36.4 285.5,36.3 286.0,36.1 286.5,36.0 287.0,35.9 287.5,35.8 288.0,35.7 288.5,35.6 289.0,35.5 289.5,35.4 290.0,35.3 290.5,35.2 291.0,35.1 291.5,35.0 292.0,34.9 292.5,34.8 293.0,34.7 293.5,34.6 294.0,34.6 294.5,34.5 295.0,34.4 295.5,34.4 296.0,34.3 296.5,34.2 297.0,34.1 297.5,34.1 298.0,34.0 298.5,34.0 299.0,33.9 299.5,33.8 300.0,33.8 300.5,33.7 301.0,33.7 301.5,33.6 302.0,33.6 302.5,33.5 303.0,33.5 303.5,33.4 304.0,33.4 304.5,33.3 305.0,33.3 305.5,33.2 306.0,33.2 306.5,33.2 307.0,33.1 307.5,33.1 308.0,33.0 308.5,33.0 309.0,33.0 309.5,32.9 310.0,32.9 310.5,32.8 311.0,32.8 311.5,32.8 312.0,32.7" fill="none" stroke="#ff00ff" stroke-width="1.4" stroke-linejoin="round"/>
<text x="163.5" y="11.5" font-size="16" text-anchor="middle" >(a)</text>
<text x="170" y="173.6" font-size="11.3" text-anchor="middle" >Frequency(THz)</text>
<text x="10" y="86" font-size="11" text-anchor="middle" transform="rotate(-90 10 86)">Transmittance</text>
<rect x="33.6" y="51.4" width="53" height="92.6" fill="#fff" stroke="#e4e4e4" stroke-width="0.8"/>
<line x1="34.8" y1="58.3" x2="44.2" y2="58.3" stroke="#000000" stroke-width="1.4"/>
<text x="44.6" y="61.1" font-size="8.6">C<tspan font-size="6.4" dy="2.8">1</tspan><tspan dy="-2.8">= 6 µm</tspan></text>
<line x1="34.8" y1="71.3" x2="44.2" y2="71.3" stroke="#0000ff" stroke-width="1.4"/>
<text x="44.6" y="74.1" font-size="8.6">C<tspan font-size="6.4" dy="2.8">2</tspan><tspan dy="-2.8">= 6.5 µm</tspan></text>
<line x1="34.8" y1="84.4" x2="44.2" y2="84.4" stroke="#ffff00" stroke-width="1.4"/>
<text x="44.6" y="87.2" font-size="8.6">C<tspan font-size="6.4" dy="2.8">3</tspan><tspan dy="-2.8">= 7µm</tspan></text>
<line x1="34.8" y1="97.5" x2="44.2" y2="97.5" stroke="#00ff00" stroke-width="1.4"/>
<text x="44.6" y="100.2" font-size="8.6">C<tspan font-size="6.4" dy="2.8">4</tspan><tspan dy="-2.8">= 7.5 µm</tspan></text>
<line x1="34.8" y1="110.5" x2="44.2" y2="110.5" stroke="#ff0000" stroke-width="1.4"/>
<text x="44.6" y="113.3" font-size="8.6">C<tspan font-size="6.4" dy="2.8">5</tspan><tspan dy="-2.8">= 8 µm</tspan></text>
<line x1="34.8" y1="123.5" x2="44.2" y2="123.5" stroke="#00ffff" stroke-width="1.4"/>
<text x="44.6" y="126.3" font-size="8.6">C<tspan font-size="6.4" dy="2.8">6</tspan><tspan dy="-2.8">= 8.5 µm</tspan></text>
<line x1="34.8" y1="136.6" x2="44.2" y2="136.6" stroke="#ff00ff" stroke-width="1.4"/>
<text x="44.6" y="139.4" font-size="8.6">C<tspan font-size="6.4" dy="2.8">7</tspan><tspan dy="-2.8">= 9 µm</tspan></text>
<rect x="34.5" y="225.5" width="284.2" height="126.1" fill="none" stroke="#d4d4d4" stroke-width="1.1"/>
<line x1="34.5" y1="351.6" x2="34.5" y2="348.8" stroke="#b0b0b0" stroke-width="0.8"/>
<line x1="34.5" y1="225.5" x2="34.5" y2="228.3" stroke="#b0b0b0" stroke-width="0.8"/>
<text x="34.5" y="364" font-size="10" text-anchor="middle" >0.2</text>
<line x1="81.9" y1="351.6" x2="81.9" y2="348.8" stroke="#b0b0b0" stroke-width="0.8"/>
<line x1="81.9" y1="225.5" x2="81.9" y2="228.3" stroke="#b0b0b0" stroke-width="0.8"/>
<text x="81.9" y="364" font-size="10" text-anchor="middle" >0.3</text>
<line x1="129.2" y1="351.6" x2="129.2" y2="348.8" stroke="#b0b0b0" stroke-width="0.8"/>
<line x1="129.2" y1="225.5" x2="129.2" y2="228.3" stroke="#b0b0b0" stroke-width="0.8"/>
<text x="129.2" y="364" font-size="10" text-anchor="middle" >0.4</text>
<line x1="176.6" y1="351.6" x2="176.6" y2="348.8" stroke="#b0b0b0" stroke-width="0.8"/>
<line x1="176.6" y1="225.5" x2="176.6" y2="228.3" stroke="#b0b0b0" stroke-width="0.8"/>
<text x="176.6" y="364" font-size="10" text-anchor="middle" >0.5</text>
<line x1="224.0" y1="351.6" x2="224.0" y2="348.8" stroke="#b0b0b0" stroke-width="0.8"/>
<line x1="224.0" y1="225.5" x2="224.0" y2="228.3" stroke="#b0b0b0" stroke-width="0.8"/>
<text x="224.0" y="364" font-size="10" text-anchor="middle" >0.6</text>
<line x1="271.3" y1="351.6" x2="271.3" y2="348.8" stroke="#b0b0b0" stroke-width="0.8"/>
<line x1="271.3" y1="225.5" x2="271.3" y2="228.3" stroke="#b0b0b0" stroke-width="0.8"/>
<text x="271.3" y="364" font-size="10" text-anchor="middle" >0.7</text>
<line x1="318.7" y1="351.6" x2="318.7" y2="348.8" stroke="#b0b0b0" stroke-width="0.8"/>
<line x1="318.7" y1="225.5" x2="318.7" y2="228.3" stroke="#b0b0b0" stroke-width="0.8"/>
<text x="318.7" y="364" font-size="10" text-anchor="middle" >0.8</text>
<line x1="34.5" y1="351.6" x2="37.3" y2="351.6" stroke="#b0b0b0" stroke-width="0.8"/>
<line x1="318.7" y1="351.6" x2="315.9" y2="351.6" stroke="#b0b0b0" stroke-width="0.8"/>
<text x="31.3" y="355.0" font-size="10" text-anchor="end" >0</text>
<line x1="34.5" y1="326.4" x2="37.3" y2="326.4" stroke="#b0b0b0" stroke-width="0.8"/>
<line x1="318.7" y1="326.4" x2="315.9" y2="326.4" stroke="#b0b0b0" stroke-width="0.8"/>
<text x="31.3" y="329.8" font-size="10" text-anchor="end" >0.2</text>
<line x1="34.5" y1="301.2" x2="37.3" y2="301.2" stroke="#b0b0b0" stroke-width="0.8"/>
<line x1="318.7" y1="301.2" x2="315.9" y2="301.2" stroke="#b0b0b0" stroke-width="0.8"/>
<text x="31.3" y="304.6" font-size="10" text-anchor="end" >0.4</text>
<line x1="34.5" y1="275.9" x2="37.3" y2="275.9" stroke="#b0b0b0" stroke-width="0.8"/>
<line x1="318.7" y1="275.9" x2="315.9" y2="275.9" stroke="#b0b0b0" stroke-width="0.8"/>
<text x="31.3" y="279.3" font-size="10" text-anchor="end" >0.6</text>
<line x1="34.5" y1="250.7" x2="37.3" y2="250.7" stroke="#b0b0b0" stroke-width="0.8"/>
<line x1="318.7" y1="250.7" x2="315.9" y2="250.7" stroke="#b0b0b0" stroke-width="0.8"/>
<text x="31.3" y="254.1" font-size="10" text-anchor="end" >0.8</text>
<line x1="34.5" y1="225.5" x2="37.3" y2="225.5" stroke="#b0b0b0" stroke-width="0.8"/>
<line x1="318.7" y1="225.5" x2="315.9" y2="225.5" stroke="#b0b0b0" stroke-width="0.8"/>
<text x="31.3" y="228.9" font-size="10" text-anchor="end" >1</text>
<polyline points="34.5,229.5 35.0,229.5 35.5,229.6 36.0,229.6 36.5,229.6 37.0,229.7 37.5,229.7 38.0,229.7 38.5,229.7 39.0,229.8 39.5,229.8 40.0,229.8 40.5,229.9 41.0,229.9 41.5,229.9 42.0,230.0 42.5,230.0 43.0,230.0 43.5,230.1 44.0,230.1 44.5,230.1 45.0,230.2 45.5,230.2 46.0,230.2 46.5,230.3 47.0,230.3 47.5,230.3 48.0,230.4 48.5,230.4 49.0,230.4 49.5,230.5 50.0,230.5 50.5,230.6 51.0,230.6 51.5,230.6 52.0,230.7 52.5,230.7 53.0,230.7 53.5,230.8 54.0,230.8 54.5,230.9 55.0,230.9 55.5,230.9 56.0,231.0 56.5,231.0 57.0,231.1 57.5,231.1 58.0,231.1 58.5,231.2 59.0,231.2 59.5,231.3 60.0,231.3 60.5,231.4 61.0,231.4 61.5,231.4 62.0,231.5 62.5,231.5 63.0,231.6 63.5,231.6 64.0,231.7 64.5,231.7 65.0,231.8 65.5,231.8 66.0,231.9 66.5,231.9 67.0,232.0 67.5,232.0 68.0,232.1 68.5,232.1 69.0,232.2 69.5,232.2 70.0,232.3 70.5,232.3 71.0,232.4 71.5,232.4 72.0,232.5 72.5,232.5 73.0,232.6 73.5,232.7 74.0,232.7 74.5,232.8 75.0,232.8 75.5,232.9 76.0,232.9 76.5,233.0 77.0,233.1 77.5,233.1 78.0,233.2 78.5,233.2 79.0,233.3 79.5,233.3 80.0,233.4 80.5,233.5 81.0,233.5 81.5,233.6 82.0,233.6 82.5,233.7 83.0,233.8 83.5,233.8 84.0,233.9 84.5,233.9 85.0,234.0 85.5,234.1 86.0,234.1 86.5,234.2 87.0,234.2 87.5,234.3 88.0,234.3 88.5,234.4 89.0,234.5 89.5,234.5 90.0,234.6 90.5,234.6 91.0,234.7 91.5,234.7 92.0,234.8 92.5,234.8 93.0,234.9 93.5,234.9 94.0,235.0 94.5,235.1 95.0,235.1 95.5,235.2 96.0,235.2 96.5,235.3 97.0,235.3 97.5,235.4 98.0,235.4 98.5,235.5 99.0,235.5 99.5,235.6 100.0,235.6 100.5,235.7 101.0,235.7 101.5,235.8 102.0,235.8 102.5,235.9 103.0,235.9 103.5,236.0 104.0,236.0 104.5,236.1 105.0,236.2 105.5,236.2 106.0,236.3 106.5,236.3 107.0,236.4 107.5,236.4 108.0,236.5 108.5,236.6 109.0,236.6 109.5,236.7 110.0,236.7 110.5,236.8 111.0,236.9 111.5,236.9 112.0,237.0 112.5,237.1 113.0,237.1 113.5,237.2 114.0,237.3 114.5,237.3 115.0,237.4 115.5,237.5 116.0,237.5 116.5,237.6 117.0,237.7 117.5,237.8 118.0,237.8 118.5,237.9 119.0,238.0 119.5,238.0 120.0,238.1 120.5,238.2 121.0,238.3 121.5,238.3 122.0,238.4 122.5,238.5 123.0,238.6 123.5,238.6 124.0,238.7 124.5,238.8 125.0,238.8 125.5,238.9 126.0,239.0 126.5,239.1 127.0,239.1 127.5,239.2 128.0,239.3 128.5,239.4 129.0,239.4 129.5,239.5 130.0,239.6 130.5,239.7 131.0,239.7 131.5,239.8 132.0,239.9 132.5,240.0 133.0,240.0 133.5,240.1 134.0,240.2 134.5,240.3 135.0,240.3 135.5,240.4 136.0,240.5 136.5,240.6 137.0,240.6 137.5,240.7 138.0,240.8 138.5,240.9 139.0,240.9 139.5,241.0 140.0,241.1 140.5,241.2 141.0,241.2 141.5,241.3 142.0,241.4 142.5,241.5 143.0,241.6 143.5,241.6 144.0,241.7 144.5,241.8 145.0,241.9 145.5,242.0 146.0,242.1 146.5,242.2 147.0,242.3 147.5,242.4 148.0,242.5 148.5,242.6 149.0,242.7 149.5,242.8 150.0,242.9 150.5,243.0 151.0,243.1 151.5,243.2 152.0,243.3 152.5,243.4 153.0,243.5 153.5,243.6 154.0,243.7 154.5,243.8 155.0,243.9 155.5,244.1 156.0,244.2 156.5,244.3 157.0,244.4 157.5,244.5 158.0,244.6 158.5,244.7 159.0,244.8 159.5,244.9 160.0,245.0 160.5,245.1 161.0,245.2 161.5,245.4 162.0,245.5 162.5,245.6 163.0,245.7 163.5,245.8 164.0,245.9 164.5,246.0 165.0,246.1 165.5,246.2 166.0,246.3 166.5,246.4 167.0,246.5 167.5,246.6 168.0,246.7 168.5,246.8 169.0,246.9 169.5,247.0 170.0,247.2 170.5,247.3 171.0,247.4 171.5,247.5 172.0,247.6 172.5,247.7 173.0,247.8 173.5,248.0 174.0,248.1 174.5,248.2 175.0,248.3 175.5,248.5 176.0,248.6 176.5,248.7 177.0,248.8 177.5,249.0 178.0,249.1 178.5,249.2 179.0,249.4 179.5,249.5 180.0,249.7 180.5,249.8 181.0,250.0 181.5,250.1 182.0,250.3 182.5,250.4 183.0,250.6 183.5,250.7 184.0,250.9 184.5,251.1 185.0,251.2 185.5,251.4 186.0,251.6 186.5,251.8 187.0,251.9 187.5,252.1 188.0,252.3 188.5,252.5 189.0,252.7 189.5,252.8 190.0,253.0 190.5,253.2 191.0,253.4 191.5,253.6 192.0,253.8 192.5,254.0 193.0,254.2 193.5,254.4 194.0,254.6 194.5,254.8 195.0,255.0 195.5,255.2 196.0,255.5 196.5,255.7 197.0,255.9 197.5,256.1 198.0,256.3 198.5,256.6 199.0,256.8 199.5,257.0 200.0,257.3 200.5,257.5 201.0,257.7 201.5,258.0 202.0,258.2 202.5,258.5 203.0,258.7 203.5,259.0 204.0,259.2 204.5,259.5 205.0,259.8 205.5,260.0 206.0,260.3 206.5,260.6 207.0,260.9 207.5,261.2 208.0,261.5 208.5,261.8 209.0,262.1 209.5,262.4 210.0,262.7 210.5,263.0 211.0,263.3 211.5,263.7 212.0,264.0 212.5,264.3 213.0,264.7 213.5,265.1 214.0,265.4 214.5,265.8 215.0,266.2 215.5,266.6 216.0,267.0 216.5,267.4 217.0,267.8 217.5,268.3 218.0,268.7 218.5,269.1 219.0,269.6 219.5,270.0 220.0,270.5 220.5,271.0 221.0,271.4 221.5,271.9 222.0,272.4 222.5,272.9 223.0,273.4 223.5,273.9 224.0,274.4 224.5,274.9 225.0,275.4 225.5,275.9 226.0,276.4 226.5,276.9 227.0,277.5 227.5,278.0 228.0,278.5 228.5,279.0 229.0,279.6 229.5,280.1 230.0,280.6 230.5,281.2 231.0,281.7 231.5,282.2 232.0,282.8 232.5,283.3 233.0,283.9 233.5,284.4 234.0,284.9 234.5,285.5 235.0,286.0 235.5,286.6 236.0,287.1 236.5,287.7 237.0,288.2 237.5,288.8 238.0,289.3 238.5,289.8 239.0,290.4 239.5,290.9 240.0,291.5 240.5,292.0 241.0,292.6 241.5,293.2 242.0,293.7 242.5,294.3 243.0,294.8 243.5,295.4 244.0,295.9 244.5,296.4 245.0,297.0 245.5,297.5 246.0,298.1 246.5,298.6 247.0,299.1 247.5,299.6 248.0,300.2 248.5,300.7 249.0,301.2 249.5,301.7 250.0,302.2 250.5,302.6 251.0,303.1 251.5,303.5 252.0,303.9 252.5,304.2 253.0,304.5 253.5,304.8 254.0,305.0 254.5,305.2 255.0,305.3 255.5,305.4 256.0,305.4 256.5,305.3 257.0,305.2 257.5,305.0 258.0,304.7 258.5,304.4 259.0,303.9 259.5,303.4 260.0,302.8 260.5,302.0 261.0,301.2 261.5,300.3 262.0,299.2 262.5,298.1 263.0,296.9 263.5,295.6 264.0,294.2 264.5,292.8 265.0,291.4 265.5,289.9 266.0,288.4 266.5,286.9 267.0,285.5 267.5,284.0 268.0,282.6 268.5,281.2 269.0,279.8 269.5,278.4 270.0,277.1 270.5,275.7 271.0,274.4 271.5,273.1 272.0,271.8 272.5,270.6 273.0,269.3 273.5,268.1 274.0,266.9 274.5,265.8 275.0,264.6 275.5,263.5 276.0,262.4 276.5,261.3 277.0,260.3 277.5,259.3 278.0,258.3 278.5,257.3 279.0,256.4 279.5,255.5 280.0,254.6 280.5,253.8 281.0,252.9 281.5,252.1 282.0,251.4 282.5,250.7 283.0,250.0 283.5,249.3 284.0,248.7 284.5,248.1 285.0,247.5 285.5,246.9 286.0,246.4 286.5,245.9 287.0,245.4 287.5,245.0 288.0,244.5 288.5,244.1 289.0,243.7 289.5,243.4 290.0,243.0 290.5,242.7 291.0,242.4 291.5,242.1 292.0,241.9 292.5,241.6 293.0,241.4 293.5,241.2 294.0,241.0 294.5,240.8 295.0,240.6 295.5,240.5 296.0,240.4 296.5,240.2 297.0,240.1 297.5,240.0 298.0,239.9 298.5,239.8 299.0,239.8 299.5,239.7 300.0,239.6 300.5,239.6 301.0,239.6 301.5,239.5 302.0,239.5 302.5,239.5 303.0,239.5 303.5,239.5 304.0,239.5 304.5,239.5 305.0,239.5 305.5,239.5 306.0,239.5 306.5,239.5 307.0,239.6 307.5,239.6 308.0,239.7 308.5,239.7 309.0,239.8 309.5,239.8 310.0,239.9 310.5,239.9 311.0,240.0 311.5,240.1 312.0,240.1 312.5,240.2 313.0,240.3 313.5,240.3 314.0,240.4 314.5,240.5 315.0,240.6 315.5,240.6 316.0,240.7 316.5,240.8 317.0,240.9 317.5,241.0 318.0,241.1 318.5,241.2" fill="none" stroke="#ff0000" stroke-width="1.7" stroke-linejoin="round"/>
<polyline points="34.5,229.6 35.0,229.6 35.5,229.7 36.0,229.7 36.5,229.7 37.0,229.8 37.5,229.8 38.0,229.9 38.5,229.9 39.0,229.9 39.5,230.0 40.0,230.0 40.5,230.1 41.0,230.1 41.5,230.1 42.0,230.2 42.5,230.2 43.0,230.3 43.5,230.3 44.0,230.3 44.5,230.4 45.0,230.4 45.5,230.5 46.0,230.5 46.5,230.6 47.0,230.6 47.5,230.6 48.0,230.7 48.5,230.7 49.0,230.8 49.5,230.8 50.0,230.9 50.5,230.9 51.0,231.0 51.5,231.0 52.0,231.0 52.5,231.1 53.0,231.1 53.5,231.2 54.0,231.2 54.5,231.3 55.0,231.3 55.5,231.4 56.0,231.4 56.5,231.5 57.0,231.5 57.5,231.6 58.0,231.6 58.5,231.7 59.0,231.7 59.5,231.8 60.0,231.8 60.5,231.9 61.0,231.9 61.5,232.0 62.0,232.0 62.5,232.1 63.0,232.1 63.5,232.2 64.0,232.3 64.5,232.3 65.0,232.4 65.5,232.4 66.0,232.5 66.5,232.5 67.0,232.6 67.5,232.7 68.0,232.7 68.5,232.8 69.0,232.8 69.5,232.9 70.0,233.0 70.5,233.0 71.0,233.1 71.5,233.1 72.0,233.2 72.5,233.3 73.0,233.3 73.5,233.4 74.0,233.5 74.5,233.5 75.0,233.6 75.5,233.7 76.0,233.7 76.5,233.8 77.0,233.9 77.5,233.9 78.0,234.0 78.5,234.1 79.0,234.1 79.5,234.2 80.0,234.3 80.5,234.4 81.0,234.4 81.5,234.5 82.0,234.6 82.5,234.6 83.0,234.7 83.5,234.8 84.0,234.9 84.5,234.9 85.0,235.0 85.5,235.1 86.0,235.2 86.5,235.3 87.0,235.3 87.5,235.4 88.0,235.5 88.5,235.6 89.0,235.6 89.5,235.7 90.0,235.8 90.5,235.9 91.0,236.0 91.5,236.0 92.0,236.1 92.5,236.2 93.0,236.3 93.5,236.4 94.0,236.5 94.5,236.5 95.0,236.6 95.5,236.7 96.0,236.8 96.5,236.9 97.0,237.0 97.5,237.1 98.0,237.1 98.5,237.2 99.0,237.3 99.5,237.4 100.0,237.5 100.5,237.6 101.0,237.7 101.5,237.8 102.0,237.9 102.5,238.0 103.0,238.0 103.5,238.1 104.0,238.2 104.5,238.3 105.0,238.4 105.5,238.5 106.0,238.6 106.5,238.7 107.0,238.8 107.5,238.9 108.0,239.0 108.5,239.1 109.0,239.2 109.5,239.3 110.0,239.4 110.5,239.5 111.0,239.6 111.5,239.7 112.0,239.8 112.5,239.9 113.0,240.0 113.5,240.1 114.0,240.2 114.5,240.3 115.0,240.4 115.5,240.5 116.0,240.6 116.5,240.8 117.0,240.9 117.5,241.0 118.0,241.1 118.5,241.2 119.0,241.3 119.5,241.4 120.0,241.5 120.5,241.6 121.0,241.7 121.5,241.8 122.0,241.9 122.5,242.0 123.0,242.1 123.5,242.2 124.0,242.3 124.5,242.4 125.0,242.5 125.5,242.6 126.0,242.7 126.5,242.8 127.0,242.9 127.5,243.0 128.0,243.1 128.5,243.2 129.0,243.3 129.5,243.4 130.0,243.5 130.5,243.6 131.0,243.7 131.5,243.8 132.0,243.9 132.5,244.0 133.0,244.1 133.5,244.2 134.0,244.2 134.5,244.3 135.0,244.4 135.5,244.5 136.0,244.6 136.5,244.7 137.0,244.8 137.5,244.9 138.0,245.0 138.5,245.1 139.0,245.2 139.5,245.3 140.0,245.4 140.5,245.5 141.0,245.6 141.5,245.7 142.0,245.9 142.5,246.0 143.0,246.1 143.5,246.2 144.0,246.3 144.5,246.4 145.0,246.5 145.5,246.6 146.0,246.7 146.5,246.9 147.0,247.0 147.5,247.1 148.0,247.2 148.5,247.3 149.0,247.5 149.5,247.6 150.0,247.7 150.5,247.8 151.0,248.0 151.5,248.1 152.0,248.2 152.5,248.4 153.0,248.5 153.5,248.7 154.0,248.8 154.5,248.9 155.0,249.1 155.5,249.2 156.0,249.4 156.5,249.5 157.0,249.7 157.5,249.8 158.0,250.0 158.5,250.2 159.0,250.3 159.5,250.5 160.0,250.6 160.5,250.8 161.0,251.0 161.5,251.1 162.0,251.3 162.5,251.5 163.0,251.7 163.5,251.8 164.0,252.0 164.5,252.2 165.0,252.4 165.5,252.6 166.0,252.8 166.5,252.9 167.0,253.1 167.5,253.3 168.0,253.5 168.5,253.7 169.0,253.9 169.5,254.1 170.0,254.3 170.5,254.5 171.0,254.7 171.5,254.9 172.0,255.1 172.5,255.3 173.0,255.6 173.5,255.8 174.0,256.0 174.5,256.2 175.0,256.4 175.5,256.6 176.0,256.8 176.5,257.1 177.0,257.3 177.5,257.5 178.0,257.7 178.5,258.0 179.0,258.2 179.5,258.4 180.0,258.6 180.5,258.9 181.0,259.1 181.5,259.3 182.0,259.6 182.5,259.8 183.0,260.0 183.5,260.3 184.0,260.5 184.5,260.8 185.0,261.0 185.5,261.2 186.0,261.5 186.5,261.7 187.0,262.0 187.5,262.3 188.0,262.5 188.5,262.8 189.0,263.1 189.5,263.3 190.0,263.6 190.5,263.9 191.0,264.2 191.5,264.4 192.0,264.7 192.5,265.0 193.0,265.3 193.5,265.6 194.0,265.9 194.5,266.2 195.0,266.6 195.5,266.9 196.0,267.2 196.5,267.5 197.0,267.9 197.5,268.2 198.0,268.5 198.5,268.9 199.0,269.3 199.5,269.6 200.0,270.0 200.5,270.4 201.0,270.7 201.5,271.1 202.0,271.5 202.5,271.9 203.0,272.3 203.5,272.7 204.0,273.1 204.5,273.5 205.0,274.0 205.5,274.4 206.0,274.8 206.5,275.3 207.0,275.7 207.5,276.2 208.0,276.6 208.5,277.1 209.0,277.6 209.5,278.1 210.0,278.5 210.5,279.0 211.0,279.5 211.5,280.0 212.0,280.6 212.5,281.1 213.0,281.6 213.5,282.1 214.0,282.7 214.5,283.2 215.0,283.8 215.5,284.3 216.0,284.9 216.5,285.5 217.0,286.0 217.5,286.6 218.0,287.2 218.5,287.8 219.0,288.4 219.5,289.0 220.0,289.6 220.5,290.2 221.0,290.8 221.5,291.4 222.0,292.0 222.5,292.6 223.0,293.2 223.5,293.8 224.0,294.5 224.5,295.1 225.0,295.7 225.5,296.3 226.0,297.0 226.5,297.6 227.0,298.2 227.5,298.9 228.0,299.5 228.5,300.1 229.0,300.7 229.5,301.4 230.0,302.0 230.5,302.6 231.0,303.2 231.5,303.8 232.0,304.4 232.5,305.0 233.0,305.5 233.5,306.1 234.0,306.7 234.5,307.2 235.0,307.8 235.5,308.3 236.0,308.8 236.5,309.3 237.0,309.8 237.5,310.2 238.0,310.7 238.5,311.1 239.0,311.5 239.5,311.9 240.0,312.3 240.5,312.7 241.0,313.0 241.5,313.3 242.0,313.6 242.5,313.9 243.0,314.1 243.5,314.3 244.0,314.5 244.5,314.7 245.0,314.8 245.5,314.9 246.0,315.0 246.5,315.0 247.0,315.0 247.5,315.0 248.0,315.0 248.5,314.9 249.0,314.7 249.5,314.6 250.0,314.4 250.5,314.2 251.0,313.9 251.5,313.6 252.0,313.3 252.5,312.9 253.0,312.5 253.5,312.1 254.0,311.6 254.5,311.1 255.0,310.5 255.5,309.9 256.0,309.3 256.5,308.7 257.0,308.0 257.5,307.2 258.0,306.5 258.5,305.7 259.0,304.8 259.5,304.0 260.0,303.1 260.5,302.1 261.0,301.2 261.5,300.2 262.0,299.2 262.5,298.2 263.0,297.1 263.5,296.1 264.0,295.0 264.5,293.9 265.0,292.8 265.5,291.7 266.0,290.5 266.5,289.4 267.0,288.2 267.5,287.0 268.0,285.8 268.5,284.7 269.0,283.5 269.5,282.3 270.0,281.1 270.5,279.9 271.0,278.7 271.5,277.5 272.0,276.4 272.5,275.2 273.0,274.0 273.5,272.9 274.0,271.7 274.5,270.6 275.0,269.5 275.5,268.4 276.0,267.3 276.5,266.2 277.0,265.1 277.5,264.1 278.0,263.0 278.5,262.0 279.0,261.0 279.5,260.0 280.0,259.1 280.5,258.1 281.0,257.2 281.5,256.3 282.0,255.4 282.5,254.5 283.0,253.7 283.5,252.9 284.0,252.1 284.5,251.3 285.0,250.5 285.5,249.8 286.0,249.1 286.5,248.4 287.0,247.7 287.5,247.1 288.0,246.4 288.5,245.8 289.0,245.3 289.5,244.7 290.0,244.2 290.5,243.7 291.0,243.2 291.5,242.8 292.0,242.3 292.5,241.9 293.0,241.5 293.5,241.2 294.0,240.8 294.5,240.5 295.0,240.2 295.5,239.9 296.0,239.6 296.5,239.3 297.0,239.1 297.5,238.9 298.0,238.6 298.5,238.4 299.0,238.3 299.5,238.1 300.0,237.9 300.5,237.8 301.0,237.6 301.5,237.5 302.0,237.4 302.5,237.3 303.0,237.2 303.5,237.1 304.0,237.1 304.5,237.0 305.0,236.9 305.5,236.9 306.0,236.8 306.5,236.8 307.0,236.8 307.5,236.7 308.0,236.7 308.5,236.7 309.0,236.7 309.5,236.7 310.0,236.7 310.5,236.7 311.0,236.6 311.5,236.6 312.0,236.6 312.5,236.7 313.0,236.7 313.5,236.7 314.0,236.7 314.5,236.7 315.0,236.7 315.5,236.7 316.0,236.7 316.5,236.7 317.0,236.8 317.5,236.8 318.0,236.8 318.5,236.8 318.7,236.8" fill="none" stroke="#0000ff" stroke-width="1.7" stroke-linejoin="round"/>
<polyline points="34.5,230.1 35.0,230.1 35.5,230.1 36.0,230.2 36.5,230.2 37.0,230.3 37.5,230.3 38.0,230.4 38.5,230.4 39.0,230.4 39.5,230.5 40.0,230.5 40.5,230.6 41.0,230.6 41.5,230.7 42.0,230.7 42.5,230.8 43.0,230.8 43.5,230.8 44.0,230.9 44.5,230.9 45.0,231.0 45.5,231.0 46.0,231.1 46.5,231.1 47.0,231.2 47.5,231.2 48.0,231.3 48.5,231.3 49.0,231.4 49.5,231.4 50.0,231.5 50.5,231.5 51.0,231.6 51.5,231.6 52.0,231.7 52.5,231.8 53.0,231.8 53.5,231.9 54.0,231.9 54.5,232.0 55.0,232.0 55.5,232.1 56.0,232.2 56.5,232.2 57.0,232.3 57.5,232.4 58.0,232.4 58.5,232.5 59.0,232.6 59.5,232.6 60.0,232.7 60.5,232.8 61.0,232.8 61.5,232.9 62.0,233.0 62.5,233.0 63.0,233.1 63.5,233.2 64.0,233.3 64.5,233.4 65.0,233.4 65.5,233.5 66.0,233.6 66.5,233.7 67.0,233.8 67.5,233.8 68.0,233.9 68.5,234.0 69.0,234.1 69.5,234.2 70.0,234.3 70.5,234.3 71.0,234.4 71.5,234.5 72.0,234.6 72.5,234.7 73.0,234.8 73.5,234.9 74.0,235.0 74.5,235.0 75.0,235.1 75.5,235.2 76.0,235.3 76.5,235.4 77.0,235.5 77.5,235.6 78.0,235.7 78.5,235.8 79.0,235.9 79.5,236.0 80.0,236.1 80.5,236.2 81.0,236.3 81.5,236.4 82.0,236.5 82.5,236.6 83.0,236.7 83.5,236.7 84.0,236.8 84.5,236.9 85.0,237.0 85.5,237.1 86.0,237.2 86.5,237.3 87.0,237.4 87.5,237.5 88.0,237.6 88.5,237.7 89.0,237.8 89.5,237.9 90.0,238.0 90.5,238.1 91.0,238.2 91.5,238.3 92.0,238.4 92.5,238.5 93.0,238.6 93.5,238.7 94.0,238.8 94.5,238.9 95.0,239.0 95.5,239.1 96.0,239.2 96.5,239.3 97.0,239.4 97.5,239.5 98.0,239.6 98.5,239.7 99.0,239.8 99.5,239.9 100.0,240.1 100.5,240.2 101.0,240.3 101.5,240.4 102.0,240.5 102.5,240.6 103.0,240.7 103.5,240.8 104.0,240.9 104.5,241.0 105.0,241.2 105.5,241.3 106.0,241.4 106.5,241.5 107.0,241.6 107.5,241.7 108.0,241.9 108.5,242.0 109.0,242.1 109.5,242.2 110.0,242.4 110.5,242.5 111.0,242.6 111.5,242.8 112.0,242.9 112.5,243.0 113.0,243.2 113.5,243.3 114.0,243.4 114.5,243.6 115.0,243.7 115.5,243.9 116.0,244.0 116.5,244.2 117.0,244.3 117.5,244.4 118.0,244.6 118.5,244.7 119.0,244.9 119.5,245.0 120.0,245.2 120.5,245.3 121.0,245.5 121.5,245.7 122.0,245.8 122.5,246.0 123.0,246.1 123.5,246.3 124.0,246.4 124.5,246.6 125.0,246.8 125.5,246.9 126.0,247.1 126.5,247.2 127.0,247.4 127.5,247.6 128.0,247.7 128.5,247.9 129.0,248.1 129.5,248.2 130.0,248.4 130.5,248.6 131.0,248.7 131.5,248.9 132.0,249.1 132.5,249.2 133.0,249.4 133.5,249.6 134.0,249.7 134.5,249.9 135.0,250.1 135.5,250.3 136.0,250.4 136.5,250.6 137.0,250.8 137.5,251.0 138.0,251.1 138.5,251.3 139.0,251.5 139.5,251.7 140.0,251.9 140.5,252.0 141.0,252.2 141.5,252.4 142.0,252.6 142.5,252.8 143.0,253.0 143.5,253.2 144.0,253.4 144.5,253.6 145.0,253.8 145.5,254.0 146.0,254.2 146.5,254.4 147.0,254.6 147.5,254.8 148.0,255.0 148.5,255.2 149.0,255.4 149.5,255.6 150.0,255.8 150.5,256.0 151.0,256.3 151.5,256.5 152.0,256.7 152.5,257.0 153.0,257.2 153.5,257.4 154.0,257.7 154.5,257.9 155.0,258.2 155.5,258.4 156.0,258.7 156.5,258.9 157.0,259.2 157.5,259.4 158.0,259.7 158.5,260.0 159.0,260.2 159.5,260.5 160.0,260.8 160.5,261.1 161.0,261.4 161.5,261.7 162.0,262.0 162.5,262.3 163.0,262.6 163.5,262.9 164.0,263.2 164.5,263.5 165.0,263.8 165.5,264.1 166.0,264.5 166.5,264.8 167.0,265.1 167.5,265.4 168.0,265.8 168.5,266.1 169.0,266.5 169.5,266.8 170.0,267.2 170.5,267.5 171.0,267.9 171.5,268.3 172.0,268.6 172.5,269.0 173.0,269.4 173.5,269.8 174.0,270.2 174.5,270.5 175.0,270.9 175.5,271.3 176.0,271.7 176.5,272.1 177.0,272.5 177.5,272.9 178.0,273.4 178.5,273.8 179.0,274.2 179.5,274.6 180.0,275.0 180.5,275.5 181.0,275.9 181.5,276.3 182.0,276.8 182.5,277.2 183.0,277.7 183.5,278.1 184.0,278.6 184.5,279.1 185.0,279.5 185.5,280.0 186.0,280.5 186.5,281.0 187.0,281.4 187.5,281.9 188.0,282.4 188.5,282.9 189.0,283.4 189.5,283.9 190.0,284.5 190.5,285.0 191.0,285.5 191.5,286.0 192.0,286.6 192.5,287.1 193.0,287.7 193.5,288.2 194.0,288.8 194.5,289.4 195.0,289.9 195.5,290.5 196.0,291.1 196.5,291.7 197.0,292.3 197.5,292.9 198.0,293.5 198.5,294.1 199.0,294.8 199.5,295.4 200.0,296.0 200.5,296.6 201.0,297.3 201.5,297.9 202.0,298.6 202.5,299.2 203.0,299.8 203.5,300.5 204.0,301.1 204.5,301.8 205.0,302.4 205.5,303.1 206.0,303.8 206.5,304.4 207.0,305.0 207.5,305.7 208.0,306.3 208.5,307.0 209.0,307.6 209.5,308.2 210.0,308.9 210.5,309.5 211.0,310.1 211.5,310.7 212.0,311.3 212.5,311.9 213.0,312.5 213.5,313.0 214.0,313.6 214.5,314.1 215.0,314.7 215.5,315.2 216.0,315.7 216.5,316.2 217.0,316.7 217.5,317.2 218.0,317.6 218.5,318.1 219.0,318.5 219.5,318.9 220.0,319.3 220.5,319.7 221.0,320.1 221.5,320.4 222.0,320.8 222.5,321.1 223.0,321.4 223.5,321.6 224.0,321.9 224.5,322.1 225.0,322.3 225.5,322.5 226.0,322.7 226.5,322.8 227.0,323.0 227.5,323.1 228.0,323.1 228.5,323.2 229.0,323.2 229.5,323.2 230.0,323.2 230.5,323.1 231.0,323.0 231.5,322.9 232.0,322.8 232.5,322.6 233.0,322.4 233.5,322.2 234.0,322.0 234.5,321.7 235.0,321.4 235.5,321.1 236.0,320.7 236.5,320.4 237.0,320.0 237.5,319.5 238.0,319.1 238.5,318.6 239.0,318.1 239.5,317.5 240.0,317.0 240.5,316.4 241.0,315.7 241.5,315.1 242.0,314.4 242.5,313.7 243.0,312.9 243.5,312.2 244.0,311.4 244.5,310.6 245.0,309.8 245.5,308.9 246.0,308.0 246.5,307.1 247.0,306.2 247.5,305.3 248.0,304.3 248.5,303.3 249.0,302.3 249.5,301.3 250.0,300.2 250.5,299.2 251.0,298.1 251.5,297.0 252.0,295.9 252.5,294.8 253.0,293.7 253.5,292.6 254.0,291.5 254.5,290.3 255.0,289.2 255.5,288.0 256.0,286.9 256.5,285.7 257.0,284.6 257.5,283.4 258.0,282.3 258.5,281.1 259.0,279.9 259.5,278.8 260.0,277.6 260.5,276.5 261.0,275.3 261.5,274.2 262.0,273.1 262.5,272.0 263.0,270.8 263.5,269.7 264.0,268.7 264.5,267.6 265.0,266.5 265.5,265.5 266.0,264.4 266.5,263.4 267.0,262.4 267.5,261.4 268.0,260.5 268.5,259.5 269.0,258.6 269.5,257.7 270.0,256.8 270.5,256.0 271.0,255.2 271.5,254.3 272.0,253.6 272.5,252.8 273.0,252.1 273.5,251.3 274.0,250.6 274.5,250.0 275.0,249.3 275.5,248.7 276.0,248.0 276.5,247.4 277.0,246.9 277.5,246.3 278.0,245.8 278.5,245.2 279.0,244.7 279.5,244.3 280.0,243.8 280.5,243.4 281.0,242.9 281.5,242.5 282.0,242.1 282.5,241.8 283.0,241.4 283.5,241.0 284.0,240.7 284.5,240.4 285.0,240.1 285.5,239.8 286.0,239.5 286.5,239.3 287.0,239.0 287.5,238.8 288.0,238.5 288.5,238.3 289.0,238.1 289.5,237.9 290.0,237.7 290.5,237.5 291.0,237.4 291.5,237.2 292.0,237.1 292.5,236.9 293.0,236.8 293.5,236.6 294.0,236.5 294.5,236.4 295.0,236.3 295.5,236.2 296.0,236.1 296.5,236.0 297.0,235.9 297.5,235.8 298.0,235.7 298.5,235.7 299.0,235.6 299.5,235.5 300.0,235.4 300.5,235.4 301.0,235.3 301.5,235.3 302.0,235.2 302.5,235.2 303.0,235.1 303.5,235.1 304.0,235.1 304.5,235.0 305.0,235.0 305.5,234.9 306.0,234.9 306.5,234.9 307.0,234.9 307.5,234.8 308.0,234.8 308.5,234.8 309.0,234.8 309.5,234.7 310.0,234.7 310.5,234.7 311.0,234.7 311.5,234.6 312.0,234.6 312.5,234.6 313.0,234.6 313.5,234.6 314.0,234.5 314.5,234.5 315.0,234.5 315.5,234.5 316.0,234.5 316.5,234.5 317.0,234.5 317.5,234.4 318.0,234.4 318.5,234.4 318.7,234.4" fill="none" stroke="#000000" stroke-width="1.7" stroke-linejoin="round"/>
<polyline points="34.5,230.6 35.0,230.7 35.5,230.7 36.0,230.8 36.5,230.8 37.0,230.9 37.5,230.9 38.0,231.0 38.5,231.0 39.0,231.0 39.5,231.1 40.0,231.1 40.5,231.2 41.0,231.3 41.5,231.3 42.0,231.4 42.5,231.4 43.0,231.5 43.5,231.5 44.0,231.6 44.5,231.6 45.0,231.7 45.5,231.7 46.0,231.8 46.5,231.8 47.0,231.9 47.5,232.0 48.0,232.0 48.5,232.1 49.0,232.2 49.5,232.2 50.0,232.3 50.5,232.3 51.0,232.4 51.5,232.5 52.0,232.6 52.5,232.6 53.0,232.7 53.5,232.8 54.0,232.8 54.5,232.9 55.0,233.0 55.5,233.1 56.0,233.2 56.5,233.2 57.0,233.3 57.5,233.4 58.0,233.5 58.5,233.6 59.0,233.7 59.5,233.8 60.0,233.9 60.5,234.0 61.0,234.1 61.5,234.2 62.0,234.3 62.5,234.4 63.0,234.5 63.5,234.6 64.0,234.7 64.5,234.8 65.0,234.9 65.5,235.0 66.0,235.1 66.5,235.2 67.0,235.4 67.5,235.5 68.0,235.6 68.5,235.7 69.0,235.8 69.5,236.0 70.0,236.1 70.5,236.2 71.0,236.3 71.5,236.5 72.0,236.6 72.5,236.7 73.0,236.9 73.5,237.0 74.0,237.1 74.5,237.3 75.0,237.4 75.5,237.5 76.0,237.7 76.5,237.8 77.0,238.0 77.5,238.1 78.0,238.2 78.5,238.4 79.0,238.5 79.5,238.7 80.0,238.8 80.5,239.0 81.0,239.1 81.5,239.2 82.0,239.4 82.5,239.5 83.0,239.7 83.5,239.8 84.0,240.0 84.5,240.1 85.0,240.3 85.5,240.4 86.0,240.6 86.5,240.7 87.0,240.9 87.5,241.1 88.0,241.2 88.5,241.4 89.0,241.5 89.5,241.7 90.0,241.8 90.5,242.0 91.0,242.2 91.5,242.3 92.0,242.5 92.5,242.7 93.0,242.8 93.5,243.0 94.0,243.1 94.5,243.3 95.0,243.5 95.5,243.6 96.0,243.8 96.5,244.0 97.0,244.2 97.5,244.3 98.0,244.5 98.5,244.7 99.0,244.8 99.5,245.0 100.0,245.2 100.5,245.4 101.0,245.5 101.5,245.7 102.0,245.9 102.5,246.1 103.0,246.3 103.5,246.4 104.0,246.6 104.5,246.8 105.0,247.0 105.5,247.2 106.0,247.3 106.5,247.5 107.0,247.7 107.5,247.9 108.0,248.1 108.5,248.3 109.0,248.5 109.5,248.7 110.0,248.8 110.5,249.0 111.0,249.2 111.5,249.4 112.0,249.6 112.5,249.8 113.0,250.0 113.5,250.2 114.0,250.4 114.5,250.6 115.0,250.8 115.5,251.0 116.0,251.2 116.5,251.4 117.0,251.6 117.5,251.8 118.0,252.1 118.5,252.3 119.0,252.5 119.5,252.7 120.0,252.9 120.5,253.1 121.0,253.4 121.5,253.6 122.0,253.8 122.5,254.0 123.0,254.3 123.5,254.5 124.0,254.7 124.5,255.0 125.0,255.2 125.5,255.5 126.0,255.7 126.5,255.9 127.0,256.2 127.5,256.4 128.0,256.7 128.5,256.9 129.0,257.2 129.5,257.4 130.0,257.7 130.5,258.0 131.0,258.2 131.5,258.5 132.0,258.7 132.5,259.0 133.0,259.3 133.5,259.6 134.0,259.8 134.5,260.1 135.0,260.4 135.5,260.6 136.0,260.9 136.5,261.2 137.0,261.5 137.5,261.8 138.0,262.0 138.5,262.3 139.0,262.6 139.5,262.9 140.0,263.2 140.5,263.5 141.0,263.8 141.5,264.1 142.0,264.4 142.5,264.7 143.0,265.0 143.5,265.3 144.0,265.6 144.5,265.9 145.0,266.2 145.5,266.5 146.0,266.9 146.5,267.2 147.0,267.5 147.5,267.9 148.0,268.2 148.5,268.6 149.0,268.9 149.5,269.3 150.0,269.6 150.5,270.0 151.0,270.4 151.5,270.7 152.0,271.1 152.5,271.5 153.0,271.9 153.5,272.3 154.0,272.7 154.5,273.1 155.0,273.5 155.5,273.9 156.0,274.4 156.5,274.8 157.0,275.3 157.5,275.7 158.0,276.2 158.5,276.6 159.0,277.1 159.5,277.6 160.0,278.1 160.5,278.6 161.0,279.1 161.5,279.6 162.0,280.1 162.5,280.7 163.0,281.2 163.5,281.8 164.0,282.3 164.5,282.9 165.0,283.4 165.5,284.0 166.0,284.6 166.5,285.2 167.0,285.8 167.5,286.4 168.0,287.0 168.5,287.6 169.0,288.2 169.5,288.8 170.0,289.4 170.5,290.1 171.0,290.7 171.5,291.3 172.0,292.0 172.5,292.6 173.0,293.2 173.5,293.9 174.0,294.5 174.5,295.2 175.0,295.8 175.5,296.5 176.0,297.2 176.5,297.8 177.0,298.5 177.5,299.1 178.0,299.8 178.5,300.4 179.0,301.1 179.5,301.7 180.0,302.4 180.5,303.1 181.0,303.7 181.5,304.4 182.0,305.0 182.5,305.6 183.0,306.3 183.5,306.9 184.0,307.5 184.5,308.2 185.0,308.8 185.5,309.4 186.0,310.0 186.5,310.6 187.0,311.2 187.5,311.8 188.0,312.4 188.5,313.0 189.0,313.6 189.5,314.2 190.0,314.7 190.5,315.3 191.0,315.8 191.5,316.4 192.0,316.9 192.5,317.4 193.0,317.9 193.5,318.4 194.0,318.9 194.5,319.4 195.0,319.9 195.5,320.4 196.0,320.8 196.5,321.2 197.0,321.7 197.5,322.1 198.0,322.5 198.5,322.9 199.0,323.3 199.5,323.6 200.0,324.0 200.5,324.3 201.0,324.7 201.5,325.0 202.0,325.3 202.5,325.6 203.0,325.8 203.5,326.1 204.0,326.3 204.5,326.5 205.0,326.7 205.5,326.9 206.0,327.1 206.5,327.2 207.0,327.4 207.5,327.5 208.0,327.6 208.5,327.7 209.0,327.7 209.5,327.8 210.0,327.8 210.5,327.8 211.0,327.8 211.5,327.7 212.0,327.7 212.5,327.6 213.0,327.5 213.5,327.3 214.0,327.2 214.5,327.0 215.0,326.8 215.5,326.6 216.0,326.3 216.5,326.1 217.0,325.8 217.5,325.5 218.0,325.1 218.5,324.8 219.0,324.4 219.5,324.0 220.0,323.5 220.5,323.1 221.0,322.6 221.5,322.1 222.0,321.6 222.5,321.1 223.0,320.5 223.5,319.9 224.0,319.3 224.5,318.7 225.0,318.0 225.5,317.4 226.0,316.7 226.5,316.0 227.0,315.2 227.5,314.5 228.0,313.7 228.5,312.9 229.0,312.1 229.5,311.3 230.0,310.5 230.5,309.7 231.0,308.8 231.5,307.9 232.0,307.1 232.5,306.2 233.0,305.3 233.5,304.3 234.0,303.4 234.5,302.5 235.0,301.5 235.5,300.6 236.0,299.6 236.5,298.6 237.0,297.7 237.5,296.7 238.0,295.7 238.5,294.7 239.0,293.7 239.5,292.7 240.0,291.7 240.5,290.6 241.0,289.6 241.5,288.6 242.0,287.6 242.5,286.6 243.0,285.5 243.5,284.5 244.0,283.5 244.5,282.5 245.0,281.5 245.5,280.5 246.0,279.5 246.5,278.5 247.0,277.5 247.5,276.5 248.0,275.6 248.5,274.6 249.0,273.6 249.5,272.7 250.0,271.8 250.5,270.9 251.0,270.0 251.5,269.1 252.0,268.2 252.5,267.3 253.0,266.5 253.5,265.6 254.0,264.8 254.5,264.0 255.0,263.2 255.5,262.4 256.0,261.6 256.5,260.9 257.0,260.1 257.5,259.4 258.0,258.7 258.5,258.0 259.0,257.3 259.5,256.6 260.0,256.0 260.5,255.3 261.0,254.7 261.5,254.1 262.0,253.5 262.5,252.9 263.0,252.3 263.5,251.7 264.0,251.2 264.5,250.6 265.0,250.1 265.5,249.6 266.0,249.1 266.5,248.6 267.0,248.1 267.5,247.7 268.0,247.2 268.5,246.8 269.0,246.4 269.5,245.9 270.0,245.5 270.5,245.1 271.0,244.8 271.5,244.4 272.0,244.0 272.5,243.7 273.0,243.3 273.5,243.0 274.0,242.7 274.5,242.3 275.0,242.0 275.5,241.7 276.0,241.5 276.5,241.2 277.0,240.9 277.5,240.6 278.0,240.4 278.5,240.1 279.0,239.9 279.5,239.7 280.0,239.5 280.5,239.2 281.0,239.0 281.5,238.8 282.0,238.6 282.5,238.4 283.0,238.3 283.5,238.1 284.0,237.9 284.5,237.7 285.0,237.6 285.5,237.4 286.0,237.3 286.5,237.1 287.0,237.0 287.5,236.9 288.0,236.7 288.5,236.6 289.0,236.5 289.5,236.4 290.0,236.3 290.5,236.2 291.0,236.1 291.5,236.0 292.0,235.9 292.5,235.8 293.0,235.7 293.5,235.6 294.0,235.5 294.5,235.4 295.0,235.4 295.5,235.3 296.0,235.2 296.5,235.1 297.0,235.1 297.5,235.0 298.0,235.0 298.5,234.9 299.0,234.8 299.5,234.8 300.0,234.7 300.5,234.7 301.0,234.6 301.5,234.6 302.0,234.5 302.5,234.5 303.0,234.4 303.5,234.4 304.0,234.3 304.5,234.3 305.0,234.3 305.5,234.2 306.0,234.2 306.5,234.1 307.0,234.1 307.5,234.1 308.0,234.0 308.5,234.0 309.0,234.0 309.5,233.9 310.0,233.9 310.5,233.9 311.0,233.8 311.5,233.8 312.0,233.8 312.5,233.8 313.0,233.7 313.5,233.7 314.0,233.7 314.5,233.6 315.0,233.6 315.5,233.6 316.0,233.6 316.5,233.5 317.0,233.5 317.5,233.5 318.0,233.4 318.5,233.4 318.7,233.4" fill="none" stroke="#00ff00" stroke-width="1.7" stroke-linejoin="round"/>
<polyline points="34.5,231.3 35.0,231.3 35.5,231.4 36.0,231.4 36.5,231.5 37.0,231.5 37.5,231.6 38.0,231.6 38.5,231.7 39.0,231.7 39.5,231.8 40.0,231.8 40.5,231.9 41.0,231.9 41.5,232.0 42.0,232.0 42.5,232.1 43.0,232.1 43.5,232.2 44.0,232.3 44.5,232.3 45.0,232.4 45.5,232.4 46.0,232.5 46.5,232.6 47.0,232.6 47.5,232.7 48.0,232.8 48.5,232.8 49.0,232.9 49.5,233.0 50.0,233.0 50.5,233.1 51.0,233.2 51.5,233.3 52.0,233.4 52.5,233.4 53.0,233.5 53.5,233.6 54.0,233.7 54.5,233.8 55.0,233.9 55.5,234.0 56.0,234.1 56.5,234.2 57.0,234.3 57.5,234.4 58.0,234.5 58.5,234.6 59.0,234.7 59.5,234.8 60.0,234.9 60.5,235.1 61.0,235.2 61.5,235.3 62.0,235.4 62.5,235.6 63.0,235.7 63.5,235.8 64.0,236.0 64.5,236.1 65.0,236.3 65.5,236.4 66.0,236.6 66.5,236.7 67.0,236.9 67.5,237.0 68.0,237.2 68.5,237.4 69.0,237.5 69.5,237.7 70.0,237.9 70.5,238.0 71.0,238.2 71.5,238.4 72.0,238.6 72.5,238.8 73.0,238.9 73.5,239.1 74.0,239.3 74.5,239.5 75.0,239.7 75.5,239.9 76.0,240.1 76.5,240.3 77.0,240.5 77.5,240.7 78.0,241.0 78.5,241.2 79.0,241.4 79.5,241.6 80.0,241.8 80.5,242.1 81.0,242.3 81.5,242.5 82.0,242.7 82.5,243.0 83.0,243.2 83.5,243.4 84.0,243.7 84.5,243.9 85.0,244.2 85.5,244.4 86.0,244.7 86.5,244.9 87.0,245.2 87.5,245.4 88.0,245.7 88.5,245.9 89.0,246.2 89.5,246.5 90.0,246.7 90.5,247.0 91.0,247.2 91.5,247.5 92.0,247.8 92.5,248.1 93.0,248.3 93.5,248.6 94.0,248.9 94.5,249.2 95.0,249.4 95.5,249.7 96.0,250.0 96.5,250.3 97.0,250.6 97.5,250.9 98.0,251.2 98.5,251.4 99.0,251.7 99.5,252.0 100.0,252.3 100.5,252.6 101.0,252.9 101.5,253.2 102.0,253.5 102.5,253.8 103.0,254.1 103.5,254.4 104.0,254.7 104.5,255.0 105.0,255.3 105.5,255.6 106.0,255.9 106.5,256.2 107.0,256.5 107.5,256.8 108.0,257.2 108.5,257.5 109.0,257.8 109.5,258.1 110.0,258.4 110.5,258.7 111.0,259.0 111.5,259.3 112.0,259.6 112.5,260.0 113.0,260.3 113.5,260.6 114.0,260.9 114.5,261.2 115.0,261.5 115.5,261.9 116.0,262.2 116.5,262.5 117.0,262.8 117.5,263.1 118.0,263.5 118.5,263.8 119.0,264.1 119.5,264.5 120.0,264.8 120.5,265.1 121.0,265.5 121.5,265.8 122.0,266.1 122.5,266.5 123.0,266.8 123.5,267.1 124.0,267.5 124.5,267.8 125.0,268.2 125.5,268.5 126.0,268.9 126.5,269.2 127.0,269.6 127.5,269.9 128.0,270.3 128.5,270.6 129.0,271.0 129.5,271.4 130.0,271.7 130.5,272.1 131.0,272.5 131.5,272.9 132.0,273.3 132.5,273.6 133.0,274.0 133.5,274.4 134.0,274.8 134.5,275.2 135.0,275.6 135.5,276.0 136.0,276.4 136.5,276.9 137.0,277.3 137.5,277.7 138.0,278.1 138.5,278.6 139.0,279.0 139.5,279.5 140.0,279.9 140.5,280.4 141.0,280.8 141.5,281.3 142.0,281.8 142.5,282.3 143.0,282.8 143.5,283.3 144.0,283.8 144.5,284.3 145.0,284.8 145.5,285.3 146.0,285.9 146.5,286.4 147.0,287.0 147.5,287.5 148.0,288.1 148.5,288.7 149.0,289.2 149.5,289.8 150.0,290.4 150.5,291.0 151.0,291.6 151.5,292.2 152.0,292.8 152.5,293.5 153.0,294.1 153.5,294.7 154.0,295.4 154.5,296.0 155.0,296.6 155.5,297.3 156.0,297.9 156.5,298.6 157.0,299.2 157.5,299.9 158.0,300.5 158.5,301.2 159.0,301.9 159.5,302.5 160.0,303.2 160.5,303.9 161.0,304.5 161.5,305.2 162.0,305.8 162.5,306.5 163.0,307.2 163.5,307.8 164.0,308.5 164.5,309.1 165.0,309.8 165.5,310.4 166.0,311.1 166.5,311.7 167.0,312.4 167.5,313.0 168.0,313.6 168.5,314.2 169.0,314.9 169.5,315.5 170.0,316.1 170.5,316.7 171.0,317.3 171.5,317.9 172.0,318.4 172.5,319.0 173.0,319.6 173.5,320.1 174.0,320.6 174.5,321.2 175.0,321.7 175.5,322.2 176.0,322.7 176.5,323.2 177.0,323.7 177.5,324.1 178.0,324.6 178.5,325.0 179.0,325.5 179.5,325.9 180.0,326.3 180.5,326.7 181.0,327.1 181.5,327.4 182.0,327.8 182.5,328.1 183.0,328.4 183.5,328.7 184.0,329.0 184.5,329.3 185.0,329.6 185.5,329.8 186.0,330.0 186.5,330.3 187.0,330.5 187.5,330.6 188.0,330.8 188.5,330.9 189.0,331.1 189.5,331.2 190.0,331.3 190.5,331.3 191.0,331.4 191.5,331.4 192.0,331.5 192.5,331.5 193.0,331.4 193.5,331.4 194.0,331.3 194.5,331.3 195.0,331.2 195.5,331.1 196.0,330.9 196.5,330.8 197.0,330.6 197.5,330.4 198.0,330.2 198.5,329.9 199.0,329.7 199.5,329.4 200.0,329.1 200.5,328.8 201.0,328.4 201.5,328.0 202.0,327.7 202.5,327.3 203.0,326.8 203.5,326.4 204.0,325.9 204.5,325.4 205.0,324.9 205.5,324.4 206.0,323.9 206.5,323.3 207.0,322.8 207.5,322.2 208.0,321.6 208.5,320.9 209.0,320.3 209.5,319.7 210.0,319.0 210.5,318.3 211.0,317.6 211.5,317.0 212.0,316.2 212.5,315.5 213.0,314.8 213.5,314.1 214.0,313.4 214.5,312.6 215.0,311.9 215.5,311.1 216.0,310.3 216.5,309.6 217.0,308.8 217.5,308.0 218.0,307.3 218.5,306.5 219.0,305.7 219.5,304.9 220.0,304.1 220.5,303.4 221.0,302.6 221.5,301.8 222.0,301.0 222.5,300.2 223.0,299.4 223.5,298.7 224.0,297.9 224.5,297.1 225.0,296.3 225.5,295.5 226.0,294.7 226.5,294.0 227.0,293.2 227.5,292.4 228.0,291.6 228.5,290.8 229.0,290.0 229.5,289.3 230.0,288.5 230.5,287.7 231.0,286.9 231.5,286.1 232.0,285.4 232.5,284.6 233.0,283.8 233.5,283.0 234.0,282.2 234.5,281.5 235.0,280.7 235.5,279.9 236.0,279.2 236.5,278.4 237.0,277.6 237.5,276.9 238.0,276.1 238.5,275.3 239.0,274.6 239.5,273.8 240.0,273.1 240.5,272.3 241.0,271.6 241.5,270.8 242.0,270.1 242.5,269.4 243.0,268.7 243.5,267.9 244.0,267.2 244.5,266.5 245.0,265.8 245.5,265.1 246.0,264.4 246.5,263.7 247.0,263.1 247.5,262.4 248.0,261.7 248.5,261.1 249.0,260.4 249.5,259.8 250.0,259.2 250.5,258.6 251.0,257.9 251.5,257.3 252.0,256.8 252.5,256.2 253.0,255.6 253.5,255.1 254.0,254.5 254.5,254.0 255.0,253.4 255.5,252.9 256.0,252.4 256.5,251.9 257.0,251.4 257.5,250.9 258.0,250.5 258.5,250.0 259.0,249.5 259.5,249.1 260.0,248.6 260.5,248.2 261.0,247.8 261.5,247.4 262.0,247.0 262.5,246.6 263.0,246.2 263.5,245.8 264.0,245.5 264.5,245.1 265.0,244.8 265.5,244.4 266.0,244.1 266.5,243.8 267.0,243.4 267.5,243.1 268.0,242.8 268.5,242.5 269.0,242.2 269.5,242.0 270.0,241.7 270.5,241.4 271.0,241.2 271.5,240.9 272.0,240.7 272.5,240.4 273.0,240.2 273.5,240.0 274.0,239.8 274.5,239.5 275.0,239.3 275.5,239.1 276.0,238.9 276.5,238.7 277.0,238.6 277.5,238.4 278.0,238.2 278.5,238.0 279.0,237.9 279.5,237.7 280.0,237.5 280.5,237.4 281.0,237.2 281.5,237.1 282.0,236.9 282.5,236.8 283.0,236.7 283.5,236.5 284.0,236.4 284.5,236.3 285.0,236.2 285.5,236.1 286.0,235.9 286.5,235.8 287.0,235.7 287.5,235.6 288.0,235.5 288.5,235.4 289.0,235.3 289.5,235.2 290.0,235.2 290.5,235.1 291.0,235.0 291.5,234.9 292.0,234.8 292.5,234.8 293.0,234.7 293.5,234.6 294.0,234.5 294.5,234.5 295.0,234.4 295.5,234.4 296.0,234.3 296.5,234.2 297.0,234.2 297.5,234.1 298.0,234.1 298.5,234.0 299.0,234.0 299.5,233.9 300.0,233.9 300.5,233.8 301.0,233.8 301.5,233.8 302.0,233.7 302.5,233.7 303.0,233.6 303.5,233.6 304.0,233.6 304.5,233.5 305.0,233.5 305.5,233.5 306.0,233.4 306.5,233.4 307.0,233.4 307.5,233.3 308.0,233.3 308.5,233.3 309.0,233.3 309.5,233.2 310.0,233.2 310.5,233.2 311.0,233.2 311.5,233.1 312.0,233.1 312.5,233.1 313.0,233.1 313.5,233.0 314.0,233.0 314.5,233.0 315.0,233.0 315.5,233.0 316.0,232.9 316.5,232.9 317.0,232.9 317.5,232.9 318.0,232.9 318.5,232.8 318.7,232.8" fill="none" stroke="#ffff00" stroke-width="1.7" stroke-linejoin="round"/>
<text x="157.4" y="217" font-size="16" text-anchor="middle" >(c)</text>
<text x="177" y="375.6" font-size="11.3" text-anchor="middle" >Frequency(THz)</text>
<text x="17" y="287" font-size="11" text-anchor="middle" transform="rotate(-90 17 287)">Transmittance</text>
<rect x="42.8" y="276" width="58.4" height="72.4" fill="#fff" stroke="#dcdcdc" stroke-width="0.9"/>
<line x1="43.8" y1="283.3" x2="53.4" y2="283.3" stroke="#ff0000" stroke-width="1.4"/>
<text x="53.6" y="285.2" font-size="9.2" xml:space="preserve">F<tspan font-size="7" dy="3.6">1</tspan><tspan dy="-3.6">= 5.2  µm</tspan></text>
<line x1="43.8" y1="297.9" x2="53.4" y2="297.9" stroke="#0000ff" stroke-width="1.4"/>
<text x="53.6" y="299.8" font-size="9.2" xml:space="preserve">F<tspan font-size="7" dy="3.6">2</tspan><tspan dy="-3.6">= 5.7  µm</tspan></text>
<line x1="43.8" y1="312.5" x2="53.4" y2="312.5" stroke="#000000" stroke-width="1.4"/>
<text x="53.6" y="314.4" font-size="9.2" xml:space="preserve">F<tspan font-size="7" dy="3.6">3</tspan><tspan dy="-3.6">= 6.2  µm</tspan></text>
<line x1="43.8" y1="327.1" x2="53.4" y2="327.1" stroke="#00ff00" stroke-width="1.4"/>
<text x="53.6" y="329.0" font-size="9.2" xml:space="preserve">F<tspan font-size="7" dy="3.6">4</tspan><tspan dy="-3.6">= 6.7  µm</tspan></text>
<line x1="43.8" y1="341.7" x2="53.4" y2="341.7" stroke="#ffff00" stroke-width="1.4"/>
<text x="53.6" y="343.6" font-size="9.2" xml:space="preserve">F<tspan font-size="7" dy="3.6">5</tspan><tspan dy="-3.6">= 7.2  µm</tspan></text>
<g shape-rendering="crispEdges">
<rect x="382.2" y="21.8" width="1.8" height="126.70" fill="url(#b0)"/>
<rect x="384" y="21.8" width="2" height="126.70" fill="url(#b1)"/>
<rect x="386" y="21.8" width="2" height="126.70" fill="url(#b2)"/>
<rect x="388" y="21.8" width="2" height="126.70" fill="url(#b3)"/>
<rect x="390" y="21.8" width="2" height="126.70" fill="url(#b4)"/>
<rect x="392" y="21.8" width="2" height="126.70" fill="url(#b5)"/>
<rect x="394" y="21.8" width="2" height="126.70" fill="url(#b6)"/>
<rect x="396" y="21.8" width="2" height="126.70" fill="url(#b7)"/>
<rect x="398" y="21.8" width="2" height="126.70" fill="url(#b8)"/>
<rect x="400" y="21.8" width="2" height="126.70" fill="url(#b9)"/>
<rect x="402" y="21.8" width="2" height="126.70" fill="url(#b10)"/>
<rect x="404" y="21.8" width="2" height="126.70" fill="url(#b11)"/>
<rect x="406" y="21.8" width="2" height="126.70" fill="url(#b12)"/>
<rect x="408" y="21.8" width="2" height="126.70" fill="url(#b13)"/>
<rect x="410" y="21.8" width="2" height="126.70" fill="url(#b14)"/>
<rect x="412" y="21.8" width="2" height="126.70" fill="url(#b15)"/>
<rect x="414" y="21.8" width="2" height="126.70" fill="url(#b16)"/>
<rect x="416" y="21.8" width="2" height="126.70" fill="url(#b17)"/>
<rect x="418" y="21.8" width="2" height="126.70" fill="url(#b18)"/>
<rect x="420" y="21.8" width="2" height="126.70" fill="url(#b19)"/>
<rect x="422" y="21.8" width="2" height="126.70" fill="url(#b20)"/>
<rect x="424" y="21.8" width="2" height="126.70" fill="url(#b21)"/>
<rect x="426" y="21.8" width="2" height="126.70" fill="url(#b22)"/>
<rect x="428" y="21.8" width="2" height="126.70" fill="url(#b23)"/>
<rect x="430" y="21.8" width="2" height="126.70" fill="url(#b24)"/>
<rect x="432" y="21.8" width="2" height="126.70" fill="url(#b25)"/>
<rect x="434" y="21.8" width="2" height="126.70" fill="url(#b26)"/>
<rect x="436" y="21.8" width="2" height="126.70" fill="url(#b27)"/>
<rect x="438" y="21.8" width="2" height="126.70" fill="url(#b28)"/>
<rect x="440" y="21.8" width="2" height="126.70" fill="url(#b29)"/>
<rect x="442" y="21.8" width="2" height="126.70" fill="url(#b30)"/>
<rect x="444" y="21.8" width="2" height="126.70" fill="url(#b31)"/>
<rect x="446" y="21.8" width="2" height="126.70" fill="url(#b32)"/>
<rect x="448" y="21.8" width="2" height="126.70" fill="url(#b33)"/>
<rect x="450" y="21.8" width="2" height="126.70" fill="url(#b34)"/>
<rect x="452" y="21.8" width="2" height="126.70" fill="url(#b35)"/>
<rect x="454" y="21.8" width="2" height="126.70" fill="url(#b36)"/>
<rect x="456" y="21.8" width="2" height="126.70" fill="url(#b37)"/>
<rect x="458" y="21.8" width="2" height="126.70" fill="url(#b38)"/>
<rect x="460" y="21.8" width="2" height="126.70" fill="url(#b39)"/>
<rect x="462" y="21.8" width="2" height="126.70" fill="url(#b40)"/>
<rect x="464" y="21.8" width="2" height="126.70" fill="url(#b41)"/>
<rect x="466" y="21.8" width="2" height="126.70" fill="url(#b42)"/>
<rect x="468" y="21.8" width="2" height="126.70" fill="url(#b43)"/>
<rect x="470" y="21.8" width="2" height="126.70" fill="url(#b44)"/>
<rect x="472" y="21.8" width="2" height="126.70" fill="url(#b45)"/>
<rect x="474" y="21.8" width="2" height="126.70" fill="url(#b46)"/>
<rect x="476" y="21.8" width="2" height="126.70" fill="url(#b47)"/>
<rect x="478" y="21.8" width="2" height="126.70" fill="url(#b48)"/>
<rect x="480" y="21.8" width="2" height="126.70" fill="url(#b49)"/>
<rect x="482" y="21.8" width="2" height="126.70" fill="url(#b50)"/>
<rect x="484" y="21.8" width="2" height="126.70" fill="url(#b51)"/>
<rect x="486" y="21.8" width="2" height="126.70" fill="url(#b52)"/>
<rect x="488" y="21.8" width="2" height="126.70" fill="url(#b53)"/>
<rect x="490" y="21.8" width="2" height="126.70" fill="url(#b54)"/>
<rect x="492" y="21.8" width="2" height="126.70" fill="url(#b55)"/>
<rect x="494" y="21.8" width="2" height="126.70" fill="url(#b56)"/>
<rect x="496" y="21.8" width="2" height="126.70" fill="url(#b57)"/>
<rect x="498" y="21.8" width="2" height="126.70" fill="url(#b58)"/>
<rect x="500" y="21.8" width="2" height="126.70" fill="url(#b59)"/>
<rect x="502" y="21.8" width="2" height="126.70" fill="url(#b60)"/>
<rect x="504" y="21.8" width="2" height="126.70" fill="url(#b61)"/>
<rect x="506" y="21.8" width="2" height="126.70" fill="url(#b62)"/>
<rect x="508" y="21.8" width="2" height="126.70" fill="url(#b63)"/>
<rect x="510" y="21.8" width="2" height="126.70" fill="url(#b64)"/>
<rect x="512" y="21.8" width="2" height="126.70" fill="url(#b65)"/>
<rect x="514" y="21.8" width="2" height="126.70" fill="url(#b66)"/>
<rect x="516" y="21.8" width="2" height="126.70" fill="url(#b67)"/>
<rect x="518" y="21.8" width="2" height="126.70" fill="url(#b68)"/>
<rect x="520" y="21.8" width="2" height="126.70" fill="url(#b69)"/>
<rect x="522" y="21.8" width="2" height="126.70" fill="url(#b70)"/>
<rect x="524" y="21.8" width="2" height="126.70" fill="url(#b71)"/>
<rect x="526" y="21.8" width="2" height="126.70" fill="url(#b72)"/>
<rect x="528" y="21.8" width="2" height="126.70" fill="url(#b73)"/>
<rect x="530" y="21.8" width="2" height="126.70" fill="url(#b74)"/>
<rect x="532" y="21.8" width="2" height="126.70" fill="url(#b75)"/>
<rect x="534" y="21.8" width="2" height="126.70" fill="url(#b76)"/>
<rect x="536" y="21.8" width="2" height="126.70" fill="url(#b77)"/>
<rect x="538" y="21.8" width="2" height="126.70" fill="url(#b78)"/>
<rect x="540" y="21.8" width="2" height="126.70" fill="url(#b79)"/>
<rect x="542" y="21.8" width="2" height="126.70" fill="url(#b80)"/>
<rect x="544" y="21.8" width="2" height="126.70" fill="url(#b81)"/>
<rect x="546" y="21.8" width="2" height="126.70" fill="url(#b82)"/>
<rect x="548" y="21.8" width="2" height="126.70" fill="url(#b83)"/>
<rect x="550" y="21.8" width="2" height="126.70" fill="url(#b84)"/>
<rect x="552" y="21.8" width="2" height="126.70" fill="url(#b85)"/>
<rect x="554" y="21.8" width="2" height="126.70" fill="url(#b86)"/>
<rect x="556" y="21.8" width="2" height="126.70" fill="url(#b87)"/>
<rect x="558" y="21.8" width="2" height="126.70" fill="url(#b88)"/>
<rect x="560" y="21.8" width="2" height="126.70" fill="url(#b89)"/>
<rect x="562" y="21.8" width="2" height="126.70" fill="url(#b90)"/>
<rect x="564" y="21.8" width="2" height="126.70" fill="url(#b91)"/>
<rect x="566" y="21.8" width="2" height="126.70" fill="url(#b92)"/>
<rect x="568" y="21.8" width="2" height="126.70" fill="url(#b93)"/>
<rect x="570" y="21.8" width="2" height="126.70" fill="url(#b94)"/>
<rect x="572" y="21.8" width="2" height="126.70" fill="url(#b95)"/>
<rect x="574" y="21.8" width="2" height="126.70" fill="url(#b96)"/>
<rect x="576" y="21.8" width="2" height="126.70" fill="url(#b97)"/>
<rect x="578" y="21.8" width="2" height="126.70" fill="url(#b98)"/>
<rect x="580" y="21.8" width="2" height="126.70" fill="url(#b99)"/>
<rect x="582" y="21.8" width="2" height="126.70" fill="url(#b100)"/>
<rect x="584" y="21.8" width="2" height="126.70" fill="url(#b101)"/>
<rect x="586" y="21.8" width="2" height="126.70" fill="url(#b102)"/>
<rect x="588" y="21.8" width="2" height="126.70" fill="url(#b103)"/>
<rect x="590" y="21.8" width="2" height="126.70" fill="url(#b104)"/>
<rect x="592" y="21.8" width="2" height="126.70" fill="url(#b105)"/>
<rect x="594" y="21.8" width="2" height="126.70" fill="url(#b106)"/>
<rect x="596" y="21.8" width="2" height="126.70" fill="url(#b107)"/>
<rect x="598" y="21.8" width="2" height="126.70" fill="url(#b108)"/>
<rect x="600" y="21.8" width="2" height="126.70" fill="url(#b109)"/>
<rect x="602" y="21.8" width="2" height="126.70" fill="url(#b110)"/>
<rect x="604" y="21.8" width="2" height="126.70" fill="url(#b111)"/>
<rect x="606" y="21.8" width="2" height="126.70" fill="url(#b112)"/>
<rect x="608" y="21.8" width="2" height="126.70" fill="url(#b113)"/>
<rect x="610" y="21.8" width="2" height="126.70" fill="url(#b114)"/>
<rect x="612" y="21.8" width="2" height="126.70" fill="url(#b115)"/>
<rect x="614" y="21.8" width="2" height="126.70" fill="url(#b116)"/>
<rect x="616" y="21.8" width="2" height="126.70" fill="url(#b117)"/>
<rect x="618" y="21.8" width="2" height="126.70" fill="url(#b118)"/>
<rect x="620" y="21.8" width="2" height="126.70" fill="url(#b119)"/>
<rect x="622" y="21.8" width="2" height="126.70" fill="url(#b120)"/>
<rect x="624" y="21.8" width="2" height="126.70" fill="url(#b121)"/>
<rect x="626" y="21.8" width="2" height="126.70" fill="url(#b122)"/>
<rect x="628" y="21.8" width="2" height="126.70" fill="url(#b123)"/>
<rect x="630" y="21.8" width="2" height="126.70" fill="url(#b124)"/>
<rect x="632" y="21.8" width="2" height="126.70" fill="url(#b125)"/>
<rect x="634" y="21.8" width="2" height="126.70" fill="url(#b126)"/>
<rect x="636" y="21.8" width="2" height="126.70" fill="url(#b127)"/>
<rect x="638" y="21.8" width="2" height="126.70" fill="url(#b128)"/>
<rect x="640" y="21.8" width="2" height="126.70" fill="url(#b129)"/>
<rect x="642" y="21.8" width="2" height="126.70" fill="url(#b130)"/>
<rect x="644" y="21.8" width="2" height="126.70" fill="url(#b131)"/>
<rect x="646" y="21.8" width="2" height="126.70" fill="url(#b132)"/>
<rect x="648" y="21.8" width="2" height="126.70" fill="url(#b133)"/>
<rect x="650" y="21.8" width="1" height="126.70" fill="url(#b134)"/>
</g>
<g shape-rendering="crispEdges">
<rect x="375" y="225.0" width="2" height="126.60" fill="url(#d0)"/>
<rect x="377" y="225.0" width="2" height="126.60" fill="url(#d1)"/>
<rect x="379" y="225.0" width="2" height="126.60" fill="url(#d2)"/>
<rect x="381" y="225.0" width="2" height="126.60" fill="url(#d3)"/>
<rect x="383" y="225.0" width="2" height="126.60" fill="url(#d4)"/>
<rect x="385" y="225.0" width="2" height="126.60" fill="url(#d5)"/>
<rect x="387" y="225.0" width="2" height="126.60" fill="url(#d6)"/>
<rect x="389" y="225.0" width="2" height="126.60" fill="url(#d7)"/>
<rect x="391" y="225.0" width="2" height="126.60" fill="url(#d8)"/>
<rect x="393" y="225.0" width="2" height="126.60" fill="url(#d9)"/>
<rect x="395" y="225.0" width="2" height="126.60" fill="url(#d10)"/>
<rect x="397" y="225.0" width="2" height="126.60" fill="url(#d11)"/>
<rect x="399" y="225.0" width="2" height="126.60" fill="url(#d12)"/>
<rect x="401" y="225.0" width="2" height="126.60" fill="url(#d13)"/>
<rect x="403" y="225.0" width="2" height="126.60" fill="url(#d14)"/>
<rect x="405" y="225.0" width="2" height="126.60" fill="url(#d15)"/>
<rect x="407" y="225.0" width="2" height="126.60" fill="url(#d16)"/>
<rect x="409" y="225.0" width="2" height="126.60" fill="url(#d17)"/>
<rect x="411" y="225.0" width="2" height="126.60" fill="url(#d18)"/>
<rect x="413" y="225.0" width="2" height="126.60" fill="url(#d19)"/>
<rect x="415" y="225.0" width="2" height="126.60" fill="url(#d20)"/>
<rect x="417" y="225.0" width="2" height="126.60" fill="url(#d21)"/>
<rect x="419" y="225.0" width="2" height="126.60" fill="url(#d22)"/>
<rect x="421" y="225.0" width="2" height="126.60" fill="url(#d23)"/>
<rect x="423" y="225.0" width="2" height="126.60" fill="url(#d24)"/>
<rect x="425" y="225.0" width="2" height="126.60" fill="url(#d25)"/>
<rect x="427" y="225.0" width="2" height="126.60" fill="url(#d26)"/>
<rect x="429" y="225.0" width="2" height="126.60" fill="url(#d27)"/>
<rect x="431" y="225.0" width="2" height="126.60" fill="url(#d28)"/>
<rect x="433" y="225.0" width="2" height="126.60" fill="url(#d29)"/>
<rect x="435" y="225.0" width="2" height="126.60" fill="url(#d30)"/>
<rect x="437" y="225.0" width="2" height="126.60" fill="url(#d31)"/>
<rect x="439" y="225.0" width="2" height="126.60" fill="url(#d32)"/>
<rect x="441" y="225.0" width="2" height="126.60" fill="url(#d33)"/>
<rect x="443" y="225.0" width="2" height="126.60" fill="url(#d34)"/>
<rect x="445" y="225.0" width="2" height="126.60" fill="url(#d35)"/>
<rect x="447" y="225.0" width="2" height="126.60" fill="url(#d36)"/>
<rect x="449" y="225.0" width="2" height="126.60" fill="url(#d37)"/>
<rect x="451" y="225.0" width="2" height="126.60" fill="url(#d38)"/>
<rect x="453" y="225.0" width="2" height="126.60" fill="url(#d39)"/>
<rect x="455" y="225.0" width="2" height="126.60" fill="url(#d40)"/>
<rect x="457" y="225.0" width="2" height="126.60" fill="url(#d41)"/>
<rect x="459" y="225.0" width="2" height="126.60" fill="url(#d42)"/>
<rect x="461" y="225.0" width="2" height="126.60" fill="url(#d43)"/>
<rect x="463" y="225.0" width="2" height="126.60" fill="url(#d44)"/>
<rect x="465" y="225.0" width="2" height="126.60" fill="url(#d45)"/>
<rect x="467" y="225.0" width="2" height="126.60" fill="url(#d46)"/>
<rect x="469" y="225.0" width="2" height="126.60" fill="url(#d47)"/>
<rect x="471" y="225.0" width="2" height="126.60" fill="url(#d48)"/>
<rect x="473" y="225.0" width="2" height="126.60" fill="url(#d49)"/>
<rect x="475" y="225.0" width="2" height="126.60" fill="url(#d50)"/>
<rect x="477" y="225.0" width="2" height="126.60" fill="url(#d51)"/>
<rect x="479" y="225.0" width="2" height="126.60" fill="url(#d52)"/>
<rect x="481" y="225.0" width="2" height="126.60" fill="url(#d53)"/>
<rect x="483" y="225.0" width="2" height="126.60" fill="url(#d54)"/>
<rect x="485" y="225.0" width="2" height="126.60" fill="url(#d55)"/>
<rect x="487" y="225.0" width="2" height="126.60" fill="url(#d56)"/>
<rect x="489" y="225.0" width="2" height="126.60" fill="url(#d57)"/>
<rect x="491" y="225.0" width="2" height="126.60" fill="url(#d58)"/>
<rect x="493" y="225.0" width="2" height="126.60" fill="url(#d59)"/>
<rect x="495" y="225.0" width="2" height="126.60" fill="url(#d60)"/>
<rect x="497" y="225.0" width="2" height="126.60" fill="url(#d61)"/>
<rect x="499" y="225.0" width="2" height="126.60" fill="url(#d62)"/>
<rect x="501" y="225.0" width="2" height="126.60" fill="url(#d63)"/>
<rect x="503" y="225.0" width="2" height="126.60" fill="url(#d64)"/>
<rect x="505" y="225.0" width="2" height="126.60" fill="url(#d65)"/>
<rect x="507" y="225.0" width="2" height="126.60" fill="url(#d66)"/>
<rect x="509" y="225.0" width="2" height="126.60" fill="url(#d67)"/>
<rect x="511" y="225.0" width="2" height="126.60" fill="url(#d68)"/>
<rect x="513" y="225.0" width="2" height="126.60" fill="url(#d69)"/>
<rect x="515" y="225.0" width="2" height="126.60" fill="url(#d70)"/>
<rect x="517" y="225.0" width="2" height="126.60" fill="url(#d71)"/>
<rect x="519" y="225.0" width="2" height="126.60" fill="url(#d72)"/>
<rect x="521" y="225.0" width="2" height="126.60" fill="url(#d73)"/>
<rect x="523" y="225.0" width="2" height="126.60" fill="url(#d74)"/>
<rect x="525" y="225.0" width="2" height="126.60" fill="url(#d75)"/>
<rect x="527" y="225.0" width="2" height="126.60" fill="url(#d76)"/>
<rect x="529" y="225.0" width="2" height="126.60" fill="url(#d77)"/>
<rect x="531" y="225.0" width="2" height="126.60" fill="url(#d78)"/>
<rect x="533" y="225.0" width="2" height="126.60" fill="url(#d79)"/>
<rect x="535" y="225.0" width="2" height="126.60" fill="url(#d80)"/>
<rect x="537" y="225.0" width="2" height="126.60" fill="url(#d81)"/>
<rect x="539" y="225.0" width="2" height="126.60" fill="url(#d82)"/>
<rect x="541" y="225.0" width="2" height="126.60" fill="url(#d83)"/>
<rect x="543" y="225.0" width="2" height="126.60" fill="url(#d84)"/>
<rect x="545" y="225.0" width="2" height="126.60" fill="url(#d85)"/>
<rect x="547" y="225.0" width="2" height="126.60" fill="url(#d86)"/>
<rect x="549" y="225.0" width="2" height="126.60" fill="url(#d87)"/>
<rect x="551" y="225.0" width="2" height="126.60" fill="url(#d88)"/>
<rect x="553" y="225.0" width="2" height="126.60" fill="url(#d89)"/>
<rect x="555" y="225.0" width="2" height="126.60" fill="url(#d90)"/>
<rect x="557" y="225.0" width="2" height="126.60" fill="url(#d91)"/>
<rect x="559" y="225.0" width="2" height="126.60" fill="url(#d92)"/>
<rect x="561" y="225.0" width="2" height="126.60" fill="url(#d93)"/>
<rect x="563" y="225.0" width="2" height="126.60" fill="url(#d94)"/>
<rect x="565" y="225.0" width="2" height="126.60" fill="url(#d95)"/>
<rect x="567" y="225.0" width="2" height="126.60" fill="url(#d96)"/>
<rect x="569" y="225.0" width="2" height="126.60" fill="url(#d97)"/>
<rect x="571" y="225.0" width="2" height="126.60" fill="url(#d98)"/>
<rect x="573" y="225.0" width="2" height="126.60" fill="url(#d99)"/>
<rect x="575" y="225.0" width="2" height="126.60" fill="url(#d100)"/>
<rect x="577" y="225.0" width="2" height="126.60" fill="url(#d101)"/>
<rect x="579" y="225.0" width="2" height="126.60" fill="url(#d102)"/>
<rect x="581" y="225.0" width="2" height="126.60" fill="url(#d103)"/>
<rect x="583" y="225.0" width="2" height="126.60" fill="url(#d104)"/>
<rect x="585" y="225.0" width="2" height="126.60" fill="url(#d105)"/>
<rect x="587" y="225.0" width="2" height="126.60" fill="url(#d106)"/>
<rect x="589" y="225.0" width="2" height="126.60" fill="url(#d107)"/>
<rect x="591" y="225.0" width="2" height="126.60" fill="url(#d108)"/>
<rect x="593" y="225.0" width="2" height="126.60" fill="url(#d109)"/>
<rect x="595" y="225.0" width="2" height="126.60" fill="url(#d110)"/>
<rect x="597" y="225.0" width="2" height="126.60" fill="url(#d111)"/>
<rect x="599" y="225.0" width="2" height="126.60" fill="url(#d112)"/>
<rect x="601" y="225.0" width="2" height="126.60" fill="url(#d113)"/>
<rect x="603" y="225.0" width="2" height="126.60" fill="url(#d114)"/>
<rect x="605" y="225.0" width="2" height="126.60" fill="url(#d115)"/>
<rect x="607" y="225.0" width="2" height="126.60" fill="url(#d116)"/>
<rect x="609" y="225.0" width="2" height="126.60" fill="url(#d117)"/>
<rect x="611" y="225.0" width="2" height="126.60" fill="url(#d118)"/>
<rect x="613" y="225.0" width="2" height="126.60" fill="url(#d119)"/>
<rect x="615" y="225.0" width="2" height="126.60" fill="url(#d120)"/>
<rect x="617" y="225.0" width="2" height="126.60" fill="url(#d121)"/>
<rect x="619" y="225.0" width="2" height="126.60" fill="url(#d122)"/>
<rect x="621" y="225.0" width="2" height="126.60" fill="url(#d123)"/>
<rect x="623" y="225.0" width="2" height="126.60" fill="url(#d124)"/>
<rect x="625" y="225.0" width="2" height="126.60" fill="url(#d125)"/>
<rect x="627" y="225.0" width="2" height="126.60" fill="url(#d126)"/>
<rect x="629" y="225.0" width="2" height="126.60" fill="url(#d127)"/>
<rect x="631" y="225.0" width="2" height="126.60" fill="url(#d128)"/>
<rect x="633" y="225.0" width="2" height="126.60" fill="url(#d129)"/>
<rect x="635" y="225.0" width="2" height="126.60" fill="url(#d130)"/>
<rect x="637" y="225.0" width="2" height="126.60" fill="url(#d131)"/>
<rect x="639" y="225.0" width="2" height="126.60" fill="url(#d132)"/>
<rect x="641" y="225.0" width="2" height="126.60" fill="url(#d133)"/>
<rect x="643" y="225.0" width="1" height="126.60" fill="url(#d134)"/>
</g>
<rect x="660.2" y="21.6" width="5" height="126.9" fill="url(#cb)"/>
<rect x="653" y="225.1" width="5" height="126.5" fill="url(#cb)"/>
<text x="520.7" y="11.5" font-size="16" text-anchor="middle" >(b)</text>
<text x="382.2" y="161.2" font-size="10" text-anchor="middle" >0.3</text>
<text x="436.0" y="161.2" font-size="10" text-anchor="middle" >0.4</text>
<text x="489.7" y="161.2" font-size="10" text-anchor="middle" >0.5</text>
<text x="543.5" y="161.2" font-size="10" text-anchor="middle" >0.6</text>
<text x="597.2" y="161.2" font-size="10" text-anchor="middle" >0.7</text>
<text x="651.0" y="161.2" font-size="10" text-anchor="middle" >0.8</text>
<text x="372.6" y="151.9" font-size="10" text-anchor="middle" >6</text>
<text x="372.6" y="130.8" font-size="10" text-anchor="middle" >6.5</text>
<text x="372.6" y="109.7" font-size="10" text-anchor="middle" >7</text>
<text x="372.6" y="88.6" font-size="10" text-anchor="middle" >7.5</text>
<text x="372.6" y="67.4" font-size="10" text-anchor="middle" >8</text>
<text x="372.6" y="46.3" font-size="10" text-anchor="middle" >8.5</text>
<text x="372.6" y="25.2" font-size="10" text-anchor="middle" >9</text>
<text x="517" y="172.5" font-size="11.2" text-anchor="middle" >Frequency (THz)</text>
<text x="362" y="84.5" font-size="11" text-anchor="middle" transform="rotate(-90 362 84.5)">C (µm)</text>
<text x="667.8" y="25.0" font-size="9.4" text-anchor="start" >1</text>
<text x="667.8" y="63.1" font-size="9.4" text-anchor="start" >0.85</text>
<text x="667.8" y="101.2" font-size="9.4" text-anchor="start" >0.7</text>
<text x="667.8" y="139.3" font-size="9.4" text-anchor="start" >0.55</text>
<text x="500.3" y="217" font-size="16" text-anchor="middle" >(d)</text>
<text x="375.0" y="364.3" font-size="10" text-anchor="middle" >0.2</text>
<text x="419.8" y="364.3" font-size="10" text-anchor="middle" >0.3</text>
<text x="464.7" y="364.3" font-size="10" text-anchor="middle" >0.4</text>
<text x="509.5" y="364.3" font-size="10" text-anchor="middle" >0.5</text>
<text x="554.3" y="364.3" font-size="10" text-anchor="middle" >0.6</text>
<text x="599.2" y="364.3" font-size="10" text-anchor="middle" >0.7</text>
<text x="644.0" y="364.3" font-size="10" text-anchor="middle" >0.8</text>
<text x="372.4" y="355.0" font-size="10" text-anchor="end" >5.2</text>
<text x="372.4" y="333.9" font-size="10" text-anchor="end" >5.7</text>
<text x="372.4" y="312.8" font-size="10" text-anchor="end" >6.2</text>
<text x="372.4" y="291.7" font-size="10" text-anchor="end" >6.7</text>
<text x="372.4" y="270.6" font-size="10" text-anchor="end" >7.2</text>
<text x="372.4" y="249.5" font-size="10" text-anchor="end" >5.2</text>
<text x="372.4" y="228.4" font-size="10" text-anchor="end" >5.7</text>
<text x="509.7" y="375.7" font-size="11.2" text-anchor="middle" >Frequency (THz)</text>
<text x="355.5" y="288.5" font-size="11" text-anchor="middle" transform="rotate(-90 355.5 288.5)">F (µm)</text>
<text x="660.6" y="228.5" font-size="9.4" text-anchor="start" >1</text>
<text x="660.6" y="266.6" font-size="9.4" text-anchor="start" >0.85</text>
<text x="660.6" y="304.7" font-size="9.4" text-anchor="start" >0.7</text>
<text x="660.6" y="342.8" font-size="9.4" text-anchor="start" >0.55</text>
</svg>
</body></html>
